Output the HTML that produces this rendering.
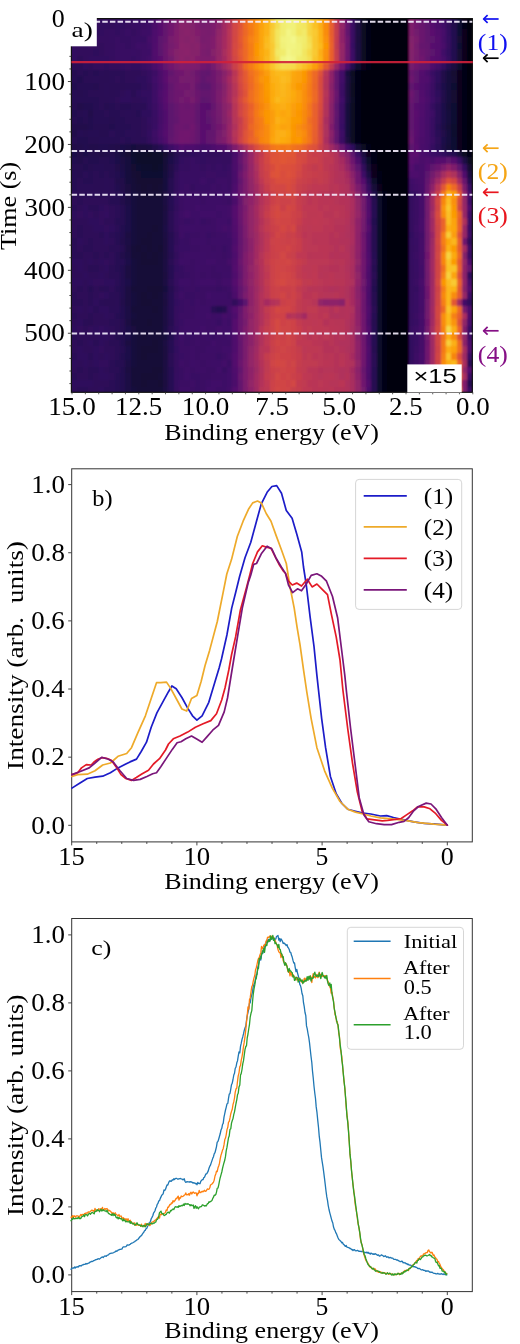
<!DOCTYPE html><html><head><meta charset="utf-8"><style>html,body{margin:0;padding:0;background:#fff;}svg{display:block;will-change:transform}text{white-space:pre}.hm rect{height:var(--h)}</style></head><body>
<svg width="520" height="1344" viewBox="0 0 520 1344">
<rect width="520" height="1344" fill="#fff"/>
<defs><clipPath id="hmclip"><rect x="71.40" y="18.60" width="401.40" height="373.70"/></clipPath><filter id="hmblur" x="60" y="5" width="430" height="400" filterUnits="userSpaceOnUse"><feGaussianBlur stdDeviation="0.8"/></filter></defs>
<g clip-path="url(#hmclip)"><g class="hm" filter="url(#hmblur)" shape-rendering="crispEdges">
<g transform="translate(0 15.60)" style="--h:7.20px">
<rect x="69.00" width="8.84" fill="#320a5e"/>
<rect x="77.34" width="5.84" fill="#2f0a5b"/>
<rect x="82.69" width="5.84" fill="#310a5c"/>
<rect x="88.03" width="5.84" fill="#320a5e"/>
<rect x="93.38" width="5.84" fill="#310a5c"/>
<rect x="98.72" width="5.84" fill="#320a5e"/>
<rect x="104.06" width="5.84" fill="#340a5f"/>
<rect x="109.41" width="5.84" fill="#310a5c"/>
<rect x="114.75" width="5.84" fill="#360961"/>
<rect x="120.10" width="5.84" fill="#360961"/>
<rect x="125.44" width="5.84" fill="#360961"/>
<rect x="130.78" width="5.84" fill="#380962"/>
<rect x="136.13" width="5.84" fill="#390963"/>
<rect x="141.47" width="5.84" fill="#3b0964"/>
<rect x="146.82" width="5.84" fill="#400a67"/>
<rect x="152.16" width="5.84" fill="#4a0c6b"/>
<rect x="157.50" width="5.84" fill="#5c126e"/>
<rect x="162.85" width="5.84" fill="#67166e"/>
<rect x="168.19" width="5.84" fill="#751b6e"/>
<rect x="173.54" width="5.84" fill="#7c1d6d"/>
<rect x="178.88" width="5.84" fill="#8a226a"/>
<rect x="184.22" width="5.84" fill="#87216b"/>
<rect x="189.57" width="5.84" fill="#85216b"/>
<rect x="194.91" width="5.84" fill="#87216b"/>
<rect x="200.26" width="5.84" fill="#781c6d"/>
<rect x="205.60" width="5.84" fill="#751b6e"/>
<rect x="210.94" width="5.84" fill="#7f1e6c"/>
<rect x="216.29" width="5.84" fill="#8a226a"/>
<rect x="221.63" width="5.84" fill="#a62d60"/>
<rect x="226.98" width="5.84" fill="#b93556"/>
<rect x="232.32" width="5.84" fill="#d04545"/>
<rect x="237.66" width="5.84" fill="#e35933"/>
<rect x="243.01" width="5.84" fill="#eb6429"/>
<rect x="248.35" width="5.84" fill="#f68013"/>
<rect x="253.70" width="5.84" fill="#f98e09"/>
<rect x="259.04" width="5.84" fill="#fca108"/>
<rect x="264.38" width="5.84" fill="#fcb014"/>
<rect x="269.73" width="5.84" fill="#f8cf3a"/>
<rect x="275.07" width="5.84" fill="#f2ea69"/>
<rect x="280.42" width="5.84" fill="#f1ef75"/>
<rect x="285.76" width="5.84" fill="#f3f68a"/>
<rect x="291.10" width="5.84" fill="#f2f482"/>
<rect x="296.45" width="5.84" fill="#f1ef75"/>
<rect x="301.79" width="5.84" fill="#f3e55d"/>
<rect x="307.14" width="5.84" fill="#f6d543"/>
<rect x="312.48" width="5.84" fill="#fac42a"/>
<rect x="317.82" width="5.84" fill="#fcb216"/>
<rect x="323.17" width="5.84" fill="#fa9407"/>
<rect x="328.51" width="5.84" fill="#ea632a"/>
<rect x="333.86" width="5.84" fill="#c33b4f"/>
<rect x="339.20" width="5.84" fill="#982766"/>
<rect x="344.54" width="5.84" fill="#69166e"/>
<rect x="349.89" width="5.84" fill="#3d0965"/>
<rect x="355.23" width="5.84" fill="#1c0c43"/>
<rect x="360.58" width="5.84" fill="#0b0724"/>
<rect x="365.92" width="5.84" fill="#050417"/>
<rect x="371.26" width="5.84" fill="#030210"/>
<rect x="376.61" width="5.84" fill="#02020e"/>
<rect x="381.95" width="5.84" fill="#02020c"/>
<rect x="387.30" width="5.84" fill="#02020c"/>
<rect x="392.64" width="5.84" fill="#02020c"/>
<rect x="397.98" width="5.84" fill="#02020c"/>
<rect x="403.33" width="5.84" fill="#02020c"/>
<rect x="408.67" width="5.84" fill="#85216b"/>
<rect x="414.02" width="5.84" fill="#741a6e"/>
<rect x="419.36" width="5.84" fill="#67166e"/>
<rect x="424.70" width="5.84" fill="#5f136e"/>
<rect x="430.05" width="5.84" fill="#57106e"/>
<rect x="435.39" width="5.84" fill="#510e6c"/>
<rect x="440.74" width="5.84" fill="#420a68"/>
<rect x="446.08" width="5.84" fill="#360961"/>
<rect x="451.42" width="5.84" fill="#240c4f"/>
<rect x="456.77" width="5.84" fill="#110a30"/>
<rect x="462.11" width="5.84" fill="#07051b"/>
<rect x="467.46" width="8.84" fill="#02020e"/>
</g>
<g transform="translate(0 22.30)" style="--h:7.25px">
<rect x="69.00" width="8.84" fill="#2f0a5b"/>
<rect x="77.34" width="5.84" fill="#2f0a5b"/>
<rect x="82.69" width="5.84" fill="#2f0a5b"/>
<rect x="88.03" width="5.84" fill="#2d0b59"/>
<rect x="93.38" width="5.84" fill="#310a5c"/>
<rect x="98.72" width="5.84" fill="#320a5e"/>
<rect x="104.06" width="5.84" fill="#320a5e"/>
<rect x="109.41" width="5.84" fill="#310a5c"/>
<rect x="114.75" width="5.84" fill="#320a5e"/>
<rect x="120.10" width="5.84" fill="#320a5e"/>
<rect x="125.44" width="5.84" fill="#340a5f"/>
<rect x="130.78" width="5.84" fill="#380962"/>
<rect x="136.13" width="5.84" fill="#390963"/>
<rect x="141.47" width="5.84" fill="#3b0964"/>
<rect x="146.82" width="5.84" fill="#3e0966"/>
<rect x="152.16" width="5.84" fill="#4c0c6b"/>
<rect x="157.50" width="5.84" fill="#57106e"/>
<rect x="162.85" width="5.84" fill="#64156e"/>
<rect x="168.19" width="5.84" fill="#6f196e"/>
<rect x="173.54" width="5.84" fill="#7c1d6d"/>
<rect x="178.88" width="5.84" fill="#88226a"/>
<rect x="184.22" width="5.84" fill="#85216b"/>
<rect x="189.57" width="5.84" fill="#82206c"/>
<rect x="194.91" width="5.84" fill="#7d1e6d"/>
<rect x="200.26" width="5.84" fill="#741a6e"/>
<rect x="205.60" width="5.84" fill="#771c6d"/>
<rect x="210.94" width="5.84" fill="#7d1e6d"/>
<rect x="216.29" width="5.84" fill="#88226a"/>
<rect x="221.63" width="5.84" fill="#a22b62"/>
<rect x="226.98" width="5.84" fill="#b43359"/>
<rect x="232.32" width="5.84" fill="#d24644"/>
<rect x="237.66" width="5.84" fill="#df5337"/>
<rect x="243.01" width="5.84" fill="#ee6a24"/>
<rect x="248.35" width="5.84" fill="#f57b17"/>
<rect x="253.70" width="5.84" fill="#f98e09"/>
<rect x="259.04" width="5.84" fill="#fca108"/>
<rect x="264.38" width="5.84" fill="#fcb216"/>
<rect x="269.73" width="5.84" fill="#f9c932"/>
<rect x="275.07" width="5.84" fill="#f4dd4f"/>
<rect x="280.42" width="5.84" fill="#f1ed71"/>
<rect x="285.76" width="5.84" fill="#f1f179"/>
<rect x="291.10" width="5.84" fill="#f1f179"/>
<rect x="296.45" width="5.84" fill="#f2e865"/>
<rect x="301.79" width="5.84" fill="#f2e661"/>
<rect x="307.14" width="5.84" fill="#f6d543"/>
<rect x="312.48" width="5.84" fill="#fac228"/>
<rect x="317.82" width="5.84" fill="#fcae12"/>
<rect x="323.17" width="5.84" fill="#f98b0b"/>
<rect x="328.51" width="5.84" fill="#e75e2e"/>
<rect x="333.86" width="5.84" fill="#c33b4f"/>
<rect x="339.20" width="5.84" fill="#922568"/>
<rect x="344.54" width="5.84" fill="#65156e"/>
<rect x="349.89" width="5.84" fill="#3b0964"/>
<rect x="355.23" width="5.84" fill="#1b0c41"/>
<rect x="360.58" width="5.84" fill="#0b0724"/>
<rect x="365.92" width="5.84" fill="#050417"/>
<rect x="371.26" width="5.84" fill="#030210"/>
<rect x="376.61" width="5.84" fill="#02020e"/>
<rect x="381.95" width="5.84" fill="#02020c"/>
<rect x="387.30" width="5.84" fill="#02020c"/>
<rect x="392.64" width="5.84" fill="#02020c"/>
<rect x="397.98" width="5.84" fill="#02020c"/>
<rect x="403.33" width="5.84" fill="#02020c"/>
<rect x="408.67" width="5.84" fill="#7f1e6c"/>
<rect x="414.02" width="5.84" fill="#71196e"/>
<rect x="419.36" width="5.84" fill="#67166e"/>
<rect x="424.70" width="5.84" fill="#5d126e"/>
<rect x="430.05" width="5.84" fill="#540f6d"/>
<rect x="435.39" width="5.84" fill="#4c0c6b"/>
<rect x="440.74" width="5.84" fill="#400a67"/>
<rect x="446.08" width="5.84" fill="#310a5c"/>
<rect x="451.42" width="5.84" fill="#230c4c"/>
<rect x="456.77" width="5.84" fill="#110a30"/>
<rect x="462.11" width="5.84" fill="#060419"/>
<rect x="467.46" width="8.84" fill="#02020e"/>
</g>
<g transform="translate(0 29.05)" style="--h:7.25px">
<rect x="69.00" width="8.84" fill="#2f0a5b"/>
<rect x="77.34" width="5.84" fill="#310a5c"/>
<rect x="82.69" width="5.84" fill="#320a5e"/>
<rect x="88.03" width="5.84" fill="#320a5e"/>
<rect x="93.38" width="5.84" fill="#2f0a5b"/>
<rect x="98.72" width="5.84" fill="#320a5e"/>
<rect x="104.06" width="5.84" fill="#340a5f"/>
<rect x="109.41" width="5.84" fill="#360961"/>
<rect x="114.75" width="5.84" fill="#320a5e"/>
<rect x="120.10" width="5.84" fill="#360961"/>
<rect x="125.44" width="5.84" fill="#390963"/>
<rect x="130.78" width="5.84" fill="#340a5f"/>
<rect x="136.13" width="5.84" fill="#380962"/>
<rect x="141.47" width="5.84" fill="#3d0965"/>
<rect x="146.82" width="5.84" fill="#3e0966"/>
<rect x="152.16" width="5.84" fill="#4d0d6c"/>
<rect x="157.50" width="5.84" fill="#57106e"/>
<rect x="162.85" width="5.84" fill="#64156e"/>
<rect x="168.19" width="5.84" fill="#71196e"/>
<rect x="173.54" width="5.84" fill="#7f1e6c"/>
<rect x="178.88" width="5.84" fill="#85216b"/>
<rect x="184.22" width="5.84" fill="#88226a"/>
<rect x="189.57" width="5.84" fill="#84206b"/>
<rect x="194.91" width="5.84" fill="#801f6c"/>
<rect x="200.26" width="5.84" fill="#7a1d6d"/>
<rect x="205.60" width="5.84" fill="#781c6d"/>
<rect x="210.94" width="5.84" fill="#7c1d6d"/>
<rect x="216.29" width="5.84" fill="#902568"/>
<rect x="221.63" width="5.84" fill="#a22b62"/>
<rect x="226.98" width="5.84" fill="#b93556"/>
<rect x="232.32" width="5.84" fill="#d24644"/>
<rect x="237.66" width="5.84" fill="#e25734"/>
<rect x="243.01" width="5.84" fill="#ec6726"/>
<rect x="248.35" width="5.84" fill="#f47918"/>
<rect x="253.70" width="5.84" fill="#f98e09"/>
<rect x="259.04" width="5.84" fill="#fca50a"/>
<rect x="264.38" width="5.84" fill="#fcb216"/>
<rect x="269.73" width="5.84" fill="#f8cd37"/>
<rect x="275.07" width="5.84" fill="#f3e55d"/>
<rect x="280.42" width="5.84" fill="#f1ed71"/>
<rect x="285.76" width="5.84" fill="#f3f586"/>
<rect x="291.10" width="5.84" fill="#f1f179"/>
<rect x="296.45" width="5.84" fill="#f2e661"/>
<rect x="301.79" width="5.84" fill="#f2ea69"/>
<rect x="307.14" width="5.84" fill="#f7d340"/>
<rect x="312.48" width="5.84" fill="#f9c932"/>
<rect x="317.82" width="5.84" fill="#fcb216"/>
<rect x="323.17" width="5.84" fill="#f98c0a"/>
<rect x="328.51" width="5.84" fill="#e65d2f"/>
<rect x="333.86" width="5.84" fill="#c43c4e"/>
<rect x="339.20" width="5.84" fill="#8f2469"/>
<rect x="344.54" width="5.84" fill="#64156e"/>
<rect x="349.89" width="5.84" fill="#3b0964"/>
<rect x="355.23" width="5.84" fill="#1c0c43"/>
<rect x="360.58" width="5.84" fill="#0b0724"/>
<rect x="365.92" width="5.84" fill="#050417"/>
<rect x="371.26" width="5.84" fill="#030210"/>
<rect x="376.61" width="5.84" fill="#02020e"/>
<rect x="381.95" width="5.84" fill="#02020c"/>
<rect x="387.30" width="5.84" fill="#02020c"/>
<rect x="392.64" width="5.84" fill="#02020c"/>
<rect x="397.98" width="5.84" fill="#02020c"/>
<rect x="403.33" width="5.84" fill="#02020c"/>
<rect x="408.67" width="5.84" fill="#7f1e6c"/>
<rect x="414.02" width="5.84" fill="#721a6e"/>
<rect x="419.36" width="5.84" fill="#69166e"/>
<rect x="424.70" width="5.84" fill="#5f136e"/>
<rect x="430.05" width="5.84" fill="#5a116e"/>
<rect x="435.39" width="5.84" fill="#510e6c"/>
<rect x="440.74" width="5.84" fill="#470b6a"/>
<rect x="446.08" width="5.84" fill="#320a5e"/>
<rect x="451.42" width="5.84" fill="#240c4f"/>
<rect x="456.77" width="5.84" fill="#110a30"/>
<rect x="462.11" width="5.84" fill="#07051b"/>
<rect x="467.46" width="8.84" fill="#02020e"/>
</g>
<g transform="translate(0 35.80)" style="--h:7.25px">
<rect x="69.00" width="8.84" fill="#310a5c"/>
<rect x="77.34" width="5.84" fill="#320a5e"/>
<rect x="82.69" width="5.84" fill="#310a5c"/>
<rect x="88.03" width="5.84" fill="#310a5c"/>
<rect x="93.38" width="5.84" fill="#340a5f"/>
<rect x="98.72" width="5.84" fill="#340a5f"/>
<rect x="104.06" width="5.84" fill="#340a5f"/>
<rect x="109.41" width="5.84" fill="#360961"/>
<rect x="114.75" width="5.84" fill="#380962"/>
<rect x="120.10" width="5.84" fill="#360961"/>
<rect x="125.44" width="5.84" fill="#360961"/>
<rect x="130.78" width="5.84" fill="#380962"/>
<rect x="136.13" width="5.84" fill="#390963"/>
<rect x="141.47" width="5.84" fill="#390963"/>
<rect x="146.82" width="5.84" fill="#440a68"/>
<rect x="152.16" width="5.84" fill="#4d0d6c"/>
<rect x="157.50" width="5.84" fill="#5d126e"/>
<rect x="162.85" width="5.84" fill="#65156e"/>
<rect x="168.19" width="5.84" fill="#781c6d"/>
<rect x="173.54" width="5.84" fill="#7f1e6c"/>
<rect x="178.88" width="5.84" fill="#87216b"/>
<rect x="184.22" width="5.84" fill="#84206b"/>
<rect x="189.57" width="5.84" fill="#87216b"/>
<rect x="194.91" width="5.84" fill="#82206c"/>
<rect x="200.26" width="5.84" fill="#781c6d"/>
<rect x="205.60" width="5.84" fill="#7a1d6d"/>
<rect x="210.94" width="5.84" fill="#801f6c"/>
<rect x="216.29" width="5.84" fill="#932667"/>
<rect x="221.63" width="5.84" fill="#a52c60"/>
<rect x="226.98" width="5.84" fill="#b73557"/>
<rect x="232.32" width="5.84" fill="#d34743"/>
<rect x="237.66" width="5.84" fill="#e35933"/>
<rect x="243.01" width="5.84" fill="#ef6c23"/>
<rect x="248.35" width="5.84" fill="#f78212"/>
<rect x="253.70" width="5.84" fill="#fa9008"/>
<rect x="259.04" width="5.84" fill="#fca50a"/>
<rect x="264.38" width="5.84" fill="#fbba1f"/>
<rect x="269.73" width="5.84" fill="#f8cd37"/>
<rect x="275.07" width="5.84" fill="#f3e55d"/>
<rect x="280.42" width="5.84" fill="#f2f27d"/>
<rect x="285.76" width="5.84" fill="#f2f482"/>
<rect x="291.10" width="5.84" fill="#f3f68a"/>
<rect x="296.45" width="5.84" fill="#f1ef75"/>
<rect x="301.79" width="5.84" fill="#f1ec6d"/>
<rect x="307.14" width="5.84" fill="#f4dd4f"/>
<rect x="312.48" width="5.84" fill="#f9c72f"/>
<rect x="317.82" width="5.84" fill="#fcb418"/>
<rect x="323.17" width="5.84" fill="#fa9207"/>
<rect x="328.51" width="5.84" fill="#e9612b"/>
<rect x="333.86" width="5.84" fill="#c33b4f"/>
<rect x="339.20" width="5.84" fill="#8f2469"/>
<rect x="344.54" width="5.84" fill="#6c186e"/>
<rect x="349.89" width="5.84" fill="#3b0964"/>
<rect x="355.23" width="5.84" fill="#1b0c41"/>
<rect x="360.58" width="5.84" fill="#0b0724"/>
<rect x="365.92" width="5.84" fill="#050417"/>
<rect x="371.26" width="5.84" fill="#030210"/>
<rect x="376.61" width="5.84" fill="#02020e"/>
<rect x="381.95" width="5.84" fill="#02020c"/>
<rect x="387.30" width="5.84" fill="#02020c"/>
<rect x="392.64" width="5.84" fill="#02020c"/>
<rect x="397.98" width="5.84" fill="#02020c"/>
<rect x="403.33" width="5.84" fill="#02020c"/>
<rect x="408.67" width="5.84" fill="#82206c"/>
<rect x="414.02" width="5.84" fill="#7a1d6d"/>
<rect x="419.36" width="5.84" fill="#69166e"/>
<rect x="424.70" width="5.84" fill="#61136e"/>
<rect x="430.05" width="5.84" fill="#5c126e"/>
<rect x="435.39" width="5.84" fill="#550f6d"/>
<rect x="440.74" width="5.84" fill="#450a69"/>
<rect x="446.08" width="5.84" fill="#360961"/>
<rect x="451.42" width="5.84" fill="#240c4f"/>
<rect x="456.77" width="5.84" fill="#120a32"/>
<rect x="462.11" width="5.84" fill="#07051b"/>
<rect x="467.46" width="8.84" fill="#02020e"/>
</g>
<g transform="translate(0 42.55)" style="--h:7.25px">
<rect x="69.00" width="8.84" fill="#320a5e"/>
<rect x="77.34" width="5.84" fill="#310a5c"/>
<rect x="82.69" width="5.84" fill="#320a5e"/>
<rect x="88.03" width="5.84" fill="#340a5f"/>
<rect x="93.38" width="5.84" fill="#310a5c"/>
<rect x="98.72" width="5.84" fill="#310a5c"/>
<rect x="104.06" width="5.84" fill="#340a5f"/>
<rect x="109.41" width="5.84" fill="#340a5f"/>
<rect x="114.75" width="5.84" fill="#380962"/>
<rect x="120.10" width="5.84" fill="#380962"/>
<rect x="125.44" width="5.84" fill="#360961"/>
<rect x="130.78" width="5.84" fill="#380962"/>
<rect x="136.13" width="5.84" fill="#3e0966"/>
<rect x="141.47" width="5.84" fill="#3d0965"/>
<rect x="146.82" width="5.84" fill="#400a67"/>
<rect x="152.16" width="5.84" fill="#4f0d6c"/>
<rect x="157.50" width="5.84" fill="#5d126e"/>
<rect x="162.85" width="5.84" fill="#6a176e"/>
<rect x="168.19" width="5.84" fill="#741a6e"/>
<rect x="173.54" width="5.84" fill="#7d1e6d"/>
<rect x="178.88" width="5.84" fill="#8a226a"/>
<rect x="184.22" width="5.84" fill="#88226a"/>
<rect x="189.57" width="5.84" fill="#84206b"/>
<rect x="194.91" width="5.84" fill="#87216b"/>
<rect x="200.26" width="5.84" fill="#7c1d6d"/>
<rect x="205.60" width="5.84" fill="#7a1d6d"/>
<rect x="210.94" width="5.84" fill="#801f6c"/>
<rect x="216.29" width="5.84" fill="#922568"/>
<rect x="221.63" width="5.84" fill="#a52c60"/>
<rect x="226.98" width="5.84" fill="#b73557"/>
<rect x="232.32" width="5.84" fill="#d44842"/>
<rect x="237.66" width="5.84" fill="#e05536"/>
<rect x="243.01" width="5.84" fill="#ee6a24"/>
<rect x="248.35" width="5.84" fill="#f57d15"/>
<rect x="253.70" width="5.84" fill="#fb9606"/>
<rect x="259.04" width="5.84" fill="#fca50a"/>
<rect x="264.38" width="5.84" fill="#fbbc21"/>
<rect x="269.73" width="5.84" fill="#f9c932"/>
<rect x="275.07" width="5.84" fill="#f3e35a"/>
<rect x="280.42" width="5.84" fill="#f1f179"/>
<rect x="285.76" width="5.84" fill="#f2f482"/>
<rect x="291.10" width="5.84" fill="#f2f482"/>
<rect x="296.45" width="5.84" fill="#f1f179"/>
<rect x="301.79" width="5.84" fill="#f2ea69"/>
<rect x="307.14" width="5.84" fill="#f4e156"/>
<rect x="312.48" width="5.84" fill="#f9c72f"/>
<rect x="317.82" width="5.84" fill="#fbba1f"/>
<rect x="323.17" width="5.84" fill="#fb9606"/>
<rect x="328.51" width="5.84" fill="#ea632a"/>
<rect x="333.86" width="5.84" fill="#c03a51"/>
<rect x="339.20" width="5.84" fill="#952667"/>
<rect x="344.54" width="5.84" fill="#6a176e"/>
<rect x="349.89" width="5.84" fill="#390963"/>
<rect x="355.23" width="5.84" fill="#1c0c43"/>
<rect x="360.58" width="5.84" fill="#0b0724"/>
<rect x="365.92" width="5.84" fill="#050417"/>
<rect x="371.26" width="5.84" fill="#030210"/>
<rect x="376.61" width="5.84" fill="#02020e"/>
<rect x="381.95" width="5.84" fill="#02020c"/>
<rect x="387.30" width="5.84" fill="#02020c"/>
<rect x="392.64" width="5.84" fill="#02020c"/>
<rect x="397.98" width="5.84" fill="#02020c"/>
<rect x="403.33" width="5.84" fill="#02020c"/>
<rect x="408.67" width="5.84" fill="#85216b"/>
<rect x="414.02" width="5.84" fill="#751b6e"/>
<rect x="419.36" width="5.84" fill="#65156e"/>
<rect x="424.70" width="5.84" fill="#64156e"/>
<rect x="430.05" width="5.84" fill="#57106e"/>
<rect x="435.39" width="5.84" fill="#520e6d"/>
<rect x="440.74" width="5.84" fill="#490b6a"/>
<rect x="446.08" width="5.84" fill="#340a5f"/>
<rect x="451.42" width="5.84" fill="#240c4f"/>
<rect x="456.77" width="5.84" fill="#110a30"/>
<rect x="462.11" width="5.84" fill="#07051b"/>
<rect x="467.46" width="8.84" fill="#02020e"/>
</g>
<g transform="translate(0 49.30)" style="--h:7.25px">
<rect x="69.00" width="8.84" fill="#320a5e"/>
<rect x="77.34" width="5.84" fill="#310a5c"/>
<rect x="82.69" width="5.84" fill="#310a5c"/>
<rect x="88.03" width="5.84" fill="#310a5c"/>
<rect x="93.38" width="5.84" fill="#2f0a5b"/>
<rect x="98.72" width="5.84" fill="#310a5c"/>
<rect x="104.06" width="5.84" fill="#340a5f"/>
<rect x="109.41" width="5.84" fill="#360961"/>
<rect x="114.75" width="5.84" fill="#380962"/>
<rect x="120.10" width="5.84" fill="#380962"/>
<rect x="125.44" width="5.84" fill="#380962"/>
<rect x="130.78" width="5.84" fill="#390963"/>
<rect x="136.13" width="5.84" fill="#380962"/>
<rect x="141.47" width="5.84" fill="#3d0965"/>
<rect x="146.82" width="5.84" fill="#3e0966"/>
<rect x="152.16" width="5.84" fill="#510e6c"/>
<rect x="157.50" width="5.84" fill="#5c126e"/>
<rect x="162.85" width="5.84" fill="#6a176e"/>
<rect x="168.19" width="5.84" fill="#7a1d6d"/>
<rect x="173.54" width="5.84" fill="#84206b"/>
<rect x="178.88" width="5.84" fill="#88226a"/>
<rect x="184.22" width="5.84" fill="#8a226a"/>
<rect x="189.57" width="5.84" fill="#85216b"/>
<rect x="194.91" width="5.84" fill="#85216b"/>
<rect x="200.26" width="5.84" fill="#7a1d6d"/>
<rect x="205.60" width="5.84" fill="#771c6d"/>
<rect x="210.94" width="5.84" fill="#85216b"/>
<rect x="216.29" width="5.84" fill="#902568"/>
<rect x="221.63" width="5.84" fill="#a82e5f"/>
<rect x="226.98" width="5.84" fill="#ba3655"/>
<rect x="232.32" width="5.84" fill="#d54a41"/>
<rect x="237.66" width="5.84" fill="#e45a31"/>
<rect x="243.01" width="5.84" fill="#ed6925"/>
<rect x="248.35" width="5.84" fill="#f57d15"/>
<rect x="253.70" width="5.84" fill="#fb9606"/>
<rect x="259.04" width="5.84" fill="#fca80d"/>
<rect x="264.38" width="5.84" fill="#fcb418"/>
<rect x="269.73" width="5.84" fill="#f9cb35"/>
<rect x="275.07" width="5.84" fill="#f2e865"/>
<rect x="280.42" width="5.84" fill="#f1ec6d"/>
<rect x="285.76" width="5.84" fill="#f3f586"/>
<rect x="291.10" width="5.84" fill="#f2f27d"/>
<rect x="296.45" width="5.84" fill="#f1f179"/>
<rect x="301.79" width="5.84" fill="#f2e661"/>
<rect x="307.14" width="5.84" fill="#f5d949"/>
<rect x="312.48" width="5.84" fill="#f9c932"/>
<rect x="317.82" width="5.84" fill="#fcae12"/>
<rect x="323.17" width="5.84" fill="#fa9008"/>
<rect x="328.51" width="5.84" fill="#e9612b"/>
<rect x="333.86" width="5.84" fill="#c43c4e"/>
<rect x="339.20" width="5.84" fill="#932667"/>
<rect x="344.54" width="5.84" fill="#6c186e"/>
<rect x="349.89" width="5.84" fill="#3d0965"/>
<rect x="355.23" width="5.84" fill="#1c0c43"/>
<rect x="360.58" width="5.84" fill="#0b0724"/>
<rect x="365.92" width="5.84" fill="#050417"/>
<rect x="371.26" width="5.84" fill="#030210"/>
<rect x="376.61" width="5.84" fill="#02020e"/>
<rect x="381.95" width="5.84" fill="#02020c"/>
<rect x="387.30" width="5.84" fill="#02020c"/>
<rect x="392.64" width="5.84" fill="#02020c"/>
<rect x="397.98" width="5.84" fill="#02020c"/>
<rect x="403.33" width="5.84" fill="#02020c"/>
<rect x="408.67" width="5.84" fill="#82206c"/>
<rect x="414.02" width="5.84" fill="#781c6d"/>
<rect x="419.36" width="5.84" fill="#6a176e"/>
<rect x="424.70" width="5.84" fill="#65156e"/>
<rect x="430.05" width="5.84" fill="#5c126e"/>
<rect x="435.39" width="5.84" fill="#540f6d"/>
<rect x="440.74" width="5.84" fill="#400a67"/>
<rect x="446.08" width="5.84" fill="#320a5e"/>
<rect x="451.42" width="5.84" fill="#240c4f"/>
<rect x="456.77" width="5.84" fill="#120a32"/>
<rect x="462.11" width="5.84" fill="#07051b"/>
<rect x="467.46" width="8.84" fill="#02020e"/>
</g>
<g transform="translate(0 56.05)" style="--h:7.25px">
<rect x="69.00" width="8.84" fill="#320a5e"/>
<rect x="77.34" width="5.84" fill="#2d0b59"/>
<rect x="82.69" width="5.84" fill="#310a5c"/>
<rect x="88.03" width="5.84" fill="#320a5e"/>
<rect x="93.38" width="5.84" fill="#320a5e"/>
<rect x="98.72" width="5.84" fill="#320a5e"/>
<rect x="104.06" width="5.84" fill="#320a5e"/>
<rect x="109.41" width="5.84" fill="#340a5f"/>
<rect x="114.75" width="5.84" fill="#380962"/>
<rect x="120.10" width="5.84" fill="#380962"/>
<rect x="125.44" width="5.84" fill="#380962"/>
<rect x="130.78" width="5.84" fill="#360961"/>
<rect x="136.13" width="5.84" fill="#390963"/>
<rect x="141.47" width="5.84" fill="#3d0965"/>
<rect x="146.82" width="5.84" fill="#420a68"/>
<rect x="152.16" width="5.84" fill="#4f0d6c"/>
<rect x="157.50" width="5.84" fill="#5a116e"/>
<rect x="162.85" width="5.84" fill="#69166e"/>
<rect x="168.19" width="5.84" fill="#721a6e"/>
<rect x="173.54" width="5.84" fill="#82206c"/>
<rect x="178.88" width="5.84" fill="#8a226a"/>
<rect x="184.22" width="5.84" fill="#85216b"/>
<rect x="189.57" width="5.84" fill="#88226a"/>
<rect x="194.91" width="5.84" fill="#801f6c"/>
<rect x="200.26" width="5.84" fill="#7c1d6d"/>
<rect x="205.60" width="5.84" fill="#7c1d6d"/>
<rect x="210.94" width="5.84" fill="#801f6c"/>
<rect x="216.29" width="5.84" fill="#932667"/>
<rect x="221.63" width="5.84" fill="#a52c60"/>
<rect x="226.98" width="5.84" fill="#b93556"/>
<rect x="232.32" width="5.84" fill="#d24644"/>
<rect x="237.66" width="5.84" fill="#e25734"/>
<rect x="243.01" width="5.84" fill="#ed6925"/>
<rect x="248.35" width="5.84" fill="#f68013"/>
<rect x="253.70" width="5.84" fill="#fa9407"/>
<rect x="259.04" width="5.84" fill="#fca60c"/>
<rect x="264.38" width="5.84" fill="#fbb81d"/>
<rect x="269.73" width="5.84" fill="#f9cb35"/>
<rect x="275.07" width="5.84" fill="#f4e156"/>
<rect x="280.42" width="5.84" fill="#f2f482"/>
<rect x="285.76" width="5.84" fill="#f4f88e"/>
<rect x="291.10" width="5.84" fill="#f3f586"/>
<rect x="296.45" width="5.84" fill="#f1ec6d"/>
<rect x="301.79" width="5.84" fill="#f2e865"/>
<rect x="307.14" width="5.84" fill="#f4df53"/>
<rect x="312.48" width="5.84" fill="#fac42a"/>
<rect x="317.82" width="5.84" fill="#fcb418"/>
<rect x="323.17" width="5.84" fill="#f98e09"/>
<rect x="328.51" width="5.84" fill="#e9612b"/>
<rect x="333.86" width="5.84" fill="#c63d4d"/>
<rect x="339.20" width="5.84" fill="#922568"/>
<rect x="344.54" width="5.84" fill="#6a176e"/>
<rect x="349.89" width="5.84" fill="#3e0966"/>
<rect x="355.23" width="5.84" fill="#1c0c43"/>
<rect x="360.58" width="5.84" fill="#0b0724"/>
<rect x="365.92" width="5.84" fill="#050417"/>
<rect x="371.26" width="5.84" fill="#030210"/>
<rect x="376.61" width="5.84" fill="#02020e"/>
<rect x="381.95" width="5.84" fill="#02020c"/>
<rect x="387.30" width="5.84" fill="#02020c"/>
<rect x="392.64" width="5.84" fill="#02020c"/>
<rect x="397.98" width="5.84" fill="#02020c"/>
<rect x="403.33" width="5.84" fill="#02020c"/>
<rect x="408.67" width="5.84" fill="#82206c"/>
<rect x="414.02" width="5.84" fill="#741a6e"/>
<rect x="419.36" width="5.84" fill="#6f196e"/>
<rect x="424.70" width="5.84" fill="#61136e"/>
<rect x="430.05" width="5.84" fill="#59106e"/>
<rect x="435.39" width="5.84" fill="#520e6d"/>
<rect x="440.74" width="5.84" fill="#470b6a"/>
<rect x="446.08" width="5.84" fill="#360961"/>
<rect x="451.42" width="5.84" fill="#240c4f"/>
<rect x="456.77" width="5.84" fill="#120a32"/>
<rect x="462.11" width="5.84" fill="#07051b"/>
<rect x="467.46" width="8.84" fill="#02020e"/>
</g>
<g transform="translate(0 62.80)" style="--h:7.25px">
<rect x="69.00" width="8.84" fill="#2b0b57"/>
<rect x="77.34" width="5.84" fill="#2b0b57"/>
<rect x="82.69" width="5.84" fill="#2f0a5b"/>
<rect x="88.03" width="5.84" fill="#2d0b59"/>
<rect x="93.38" width="5.84" fill="#310a5c"/>
<rect x="98.72" width="5.84" fill="#310a5c"/>
<rect x="104.06" width="5.84" fill="#2f0a5b"/>
<rect x="109.41" width="5.84" fill="#310a5c"/>
<rect x="114.75" width="5.84" fill="#310a5c"/>
<rect x="120.10" width="5.84" fill="#320a5e"/>
<rect x="125.44" width="5.84" fill="#340a5f"/>
<rect x="130.78" width="5.84" fill="#320a5e"/>
<rect x="136.13" width="5.84" fill="#320a5e"/>
<rect x="141.47" width="5.84" fill="#390963"/>
<rect x="146.82" width="5.84" fill="#3d0965"/>
<rect x="152.16" width="5.84" fill="#490b6a"/>
<rect x="157.50" width="5.84" fill="#550f6d"/>
<rect x="162.85" width="5.84" fill="#62146e"/>
<rect x="168.19" width="5.84" fill="#71196e"/>
<rect x="173.54" width="5.84" fill="#771c6d"/>
<rect x="178.88" width="5.84" fill="#801f6c"/>
<rect x="184.22" width="5.84" fill="#7d1e6d"/>
<rect x="189.57" width="5.84" fill="#7d1e6d"/>
<rect x="194.91" width="5.84" fill="#7a1d6d"/>
<rect x="200.26" width="5.84" fill="#71196e"/>
<rect x="205.60" width="5.84" fill="#6c186e"/>
<rect x="210.94" width="5.84" fill="#751b6e"/>
<rect x="216.29" width="5.84" fill="#88226a"/>
<rect x="221.63" width="5.84" fill="#9d2964"/>
<rect x="226.98" width="5.84" fill="#ad305d"/>
<rect x="232.32" width="5.84" fill="#ca404a"/>
<rect x="237.66" width="5.84" fill="#db503b"/>
<rect x="243.01" width="5.84" fill="#ee6a24"/>
<rect x="248.35" width="5.84" fill="#f57b17"/>
<rect x="253.70" width="5.84" fill="#fa9008"/>
<rect x="259.04" width="5.84" fill="#fc9f07"/>
<rect x="264.38" width="5.84" fill="#fcb014"/>
<rect x="269.73" width="5.84" fill="#fac42a"/>
<rect x="275.07" width="5.84" fill="#f7d340"/>
<rect x="280.42" width="5.84" fill="#f4dd4f"/>
<rect x="285.76" width="5.84" fill="#f5db4c"/>
<rect x="291.10" width="5.84" fill="#f5d949"/>
<rect x="296.45" width="5.84" fill="#f9cb35"/>
<rect x="301.79" width="5.84" fill="#fac026"/>
<rect x="307.14" width="5.84" fill="#fcb216"/>
<rect x="312.48" width="5.84" fill="#fb9d07"/>
<rect x="317.82" width="5.84" fill="#f67e14"/>
<rect x="323.17" width="5.84" fill="#e35933"/>
<rect x="328.51" width="5.84" fill="#c33b4f"/>
<rect x="333.86" width="5.84" fill="#972766"/>
<rect x="339.20" width="5.84" fill="#71196e"/>
<rect x="344.54" width="5.84" fill="#470b6a"/>
<rect x="349.89" width="5.84" fill="#240c4f"/>
<rect x="355.23" width="5.84" fill="#10092d"/>
<rect x="360.58" width="5.84" fill="#07051b"/>
<rect x="365.92" width="5.84" fill="#040312"/>
<rect x="371.26" width="5.84" fill="#02020e"/>
<rect x="376.61" width="5.84" fill="#02020e"/>
<rect x="381.95" width="5.84" fill="#02020c"/>
<rect x="387.30" width="5.84" fill="#02020c"/>
<rect x="392.64" width="5.84" fill="#02020c"/>
<rect x="397.98" width="5.84" fill="#02020c"/>
<rect x="403.33" width="5.84" fill="#02020c"/>
<rect x="408.67" width="5.84" fill="#741a6e"/>
<rect x="414.02" width="5.84" fill="#6d186e"/>
<rect x="419.36" width="5.84" fill="#61136e"/>
<rect x="424.70" width="5.84" fill="#5c126e"/>
<rect x="430.05" width="5.84" fill="#4d0d6c"/>
<rect x="435.39" width="5.84" fill="#420a68"/>
<rect x="440.74" width="5.84" fill="#320a5e"/>
<rect x="446.08" width="5.84" fill="#240c4f"/>
<rect x="451.42" width="5.84" fill="#1b0c41"/>
<rect x="456.77" width="5.84" fill="#0d0829"/>
<rect x="462.11" width="5.84" fill="#050417"/>
<rect x="467.46" width="8.84" fill="#02020c"/>
</g>
<g transform="translate(0 69.55)" style="--h:7.25px">
<rect x="69.00" width="8.84" fill="#260c51"/>
<rect x="77.34" width="5.84" fill="#290b55"/>
<rect x="82.69" width="5.84" fill="#280b53"/>
<rect x="88.03" width="5.84" fill="#290b55"/>
<rect x="93.38" width="5.84" fill="#280b53"/>
<rect x="98.72" width="5.84" fill="#2b0b57"/>
<rect x="104.06" width="5.84" fill="#290b55"/>
<rect x="109.41" width="5.84" fill="#2b0b57"/>
<rect x="114.75" width="5.84" fill="#2b0b57"/>
<rect x="120.10" width="5.84" fill="#2b0b57"/>
<rect x="125.44" width="5.84" fill="#2d0b59"/>
<rect x="130.78" width="5.84" fill="#2d0b59"/>
<rect x="136.13" width="5.84" fill="#2d0b59"/>
<rect x="141.47" width="5.84" fill="#310a5c"/>
<rect x="146.82" width="5.84" fill="#360961"/>
<rect x="152.16" width="5.84" fill="#3d0965"/>
<rect x="157.50" width="5.84" fill="#4c0c6b"/>
<rect x="162.85" width="5.84" fill="#59106e"/>
<rect x="168.19" width="5.84" fill="#62146e"/>
<rect x="173.54" width="5.84" fill="#6d186e"/>
<rect x="178.88" width="5.84" fill="#6f196e"/>
<rect x="184.22" width="5.84" fill="#771c6d"/>
<rect x="189.57" width="5.84" fill="#721a6e"/>
<rect x="194.91" width="5.84" fill="#69166e"/>
<rect x="200.26" width="5.84" fill="#62146e"/>
<rect x="205.60" width="5.84" fill="#61136e"/>
<rect x="210.94" width="5.84" fill="#6d186e"/>
<rect x="216.29" width="5.84" fill="#771c6d"/>
<rect x="221.63" width="5.84" fill="#87216b"/>
<rect x="226.98" width="5.84" fill="#9a2865"/>
<rect x="232.32" width="5.84" fill="#ba3655"/>
<rect x="237.66" width="5.84" fill="#d54a41"/>
<rect x="243.01" width="5.84" fill="#e45a31"/>
<rect x="248.35" width="5.84" fill="#f06f20"/>
<rect x="253.70" width="5.84" fill="#f57d15"/>
<rect x="259.04" width="5.84" fill="#f98c0a"/>
<rect x="264.38" width="5.84" fill="#fb9d07"/>
<rect x="269.73" width="5.84" fill="#fcb216"/>
<rect x="275.07" width="5.84" fill="#fbba1f"/>
<rect x="280.42" width="5.84" fill="#fbba1f"/>
<rect x="285.76" width="5.84" fill="#fbb61a"/>
<rect x="291.10" width="5.84" fill="#fca80d"/>
<rect x="296.45" width="5.84" fill="#fca108"/>
<rect x="301.79" width="5.84" fill="#fb9706"/>
<rect x="307.14" width="5.84" fill="#f67e14"/>
<rect x="312.48" width="5.84" fill="#ed6925"/>
<rect x="317.82" width="5.84" fill="#dd513a"/>
<rect x="323.17" width="5.84" fill="#b63458"/>
<rect x="328.51" width="5.84" fill="#8d2369"/>
<rect x="333.86" width="5.84" fill="#62146e"/>
<rect x="339.20" width="5.84" fill="#420a68"/>
<rect x="344.54" width="5.84" fill="#190c3e"/>
<rect x="349.89" width="5.84" fill="#0b0724"/>
<rect x="355.23" width="5.84" fill="#050417"/>
<rect x="360.58" width="5.84" fill="#030210"/>
<rect x="365.92" width="5.84" fill="#02020e"/>
<rect x="371.26" width="5.84" fill="#02020c"/>
<rect x="376.61" width="5.84" fill="#02020c"/>
<rect x="381.95" width="5.84" fill="#02020c"/>
<rect x="387.30" width="5.84" fill="#02020c"/>
<rect x="392.64" width="5.84" fill="#02020c"/>
<rect x="397.98" width="5.84" fill="#02020c"/>
<rect x="403.33" width="5.84" fill="#02020c"/>
<rect x="408.67" width="5.84" fill="#67166e"/>
<rect x="414.02" width="5.84" fill="#5d126e"/>
<rect x="419.36" width="5.84" fill="#520e6d"/>
<rect x="424.70" width="5.84" fill="#490b6a"/>
<rect x="430.05" width="5.84" fill="#390963"/>
<rect x="435.39" width="5.84" fill="#2f0a5b"/>
<rect x="440.74" width="5.84" fill="#210c4a"/>
<rect x="446.08" width="5.84" fill="#190c3e"/>
<rect x="451.42" width="5.84" fill="#120a32"/>
<rect x="456.77" width="5.84" fill="#09061f"/>
<rect x="462.11" width="5.84" fill="#040314"/>
<rect x="467.46" width="8.84" fill="#02020c"/>
</g>
<g transform="translate(0 76.30)" style="--h:7.25px">
<rect x="69.00" width="8.84" fill="#280b53"/>
<rect x="77.34" width="5.84" fill="#240c4f"/>
<rect x="82.69" width="5.84" fill="#290b55"/>
<rect x="88.03" width="5.84" fill="#290b55"/>
<rect x="93.38" width="5.84" fill="#2b0b57"/>
<rect x="98.72" width="5.84" fill="#290b55"/>
<rect x="104.06" width="5.84" fill="#290b55"/>
<rect x="109.41" width="5.84" fill="#2b0b57"/>
<rect x="114.75" width="5.84" fill="#2d0b59"/>
<rect x="120.10" width="5.84" fill="#2b0b57"/>
<rect x="125.44" width="5.84" fill="#2d0b59"/>
<rect x="130.78" width="5.84" fill="#2d0b59"/>
<rect x="136.13" width="5.84" fill="#2f0a5b"/>
<rect x="141.47" width="5.84" fill="#2f0a5b"/>
<rect x="146.82" width="5.84" fill="#360961"/>
<rect x="152.16" width="5.84" fill="#400a67"/>
<rect x="157.50" width="5.84" fill="#4c0c6b"/>
<rect x="162.85" width="5.84" fill="#5a116e"/>
<rect x="168.19" width="5.84" fill="#69166e"/>
<rect x="173.54" width="5.84" fill="#6a176e"/>
<rect x="178.88" width="5.84" fill="#771c6d"/>
<rect x="184.22" width="5.84" fill="#751b6e"/>
<rect x="189.57" width="5.84" fill="#741a6e"/>
<rect x="194.91" width="5.84" fill="#6d186e"/>
<rect x="200.26" width="5.84" fill="#61136e"/>
<rect x="205.60" width="5.84" fill="#67166e"/>
<rect x="210.94" width="5.84" fill="#6c186e"/>
<rect x="216.29" width="5.84" fill="#7a1d6d"/>
<rect x="221.63" width="5.84" fill="#8d2369"/>
<rect x="226.98" width="5.84" fill="#a52c60"/>
<rect x="232.32" width="5.84" fill="#bd3853"/>
<rect x="237.66" width="5.84" fill="#d74b3f"/>
<rect x="243.01" width="5.84" fill="#e45a31"/>
<rect x="248.35" width="5.84" fill="#ef6c23"/>
<rect x="253.70" width="5.84" fill="#f68013"/>
<rect x="259.04" width="5.84" fill="#fa9407"/>
<rect x="264.38" width="5.84" fill="#fb9906"/>
<rect x="269.73" width="5.84" fill="#fcb014"/>
<rect x="275.07" width="5.84" fill="#fcb418"/>
<rect x="280.42" width="5.84" fill="#fbbc21"/>
<rect x="285.76" width="5.84" fill="#fbb81d"/>
<rect x="291.10" width="5.84" fill="#fca60c"/>
<rect x="296.45" width="5.84" fill="#fca108"/>
<rect x="301.79" width="5.84" fill="#fb9706"/>
<rect x="307.14" width="5.84" fill="#f68013"/>
<rect x="312.48" width="5.84" fill="#ec6726"/>
<rect x="317.82" width="5.84" fill="#d84c3e"/>
<rect x="323.17" width="5.84" fill="#b3325a"/>
<rect x="328.51" width="5.84" fill="#8f2469"/>
<rect x="333.86" width="5.84" fill="#64156e"/>
<rect x="339.20" width="5.84" fill="#420a68"/>
<rect x="344.54" width="5.84" fill="#1c0c43"/>
<rect x="349.89" width="5.84" fill="#0c0826"/>
<rect x="355.23" width="5.84" fill="#050417"/>
<rect x="360.58" width="5.84" fill="#030210"/>
<rect x="365.92" width="5.84" fill="#02020e"/>
<rect x="371.26" width="5.84" fill="#02020c"/>
<rect x="376.61" width="5.84" fill="#02020c"/>
<rect x="381.95" width="5.84" fill="#02020c"/>
<rect x="387.30" width="5.84" fill="#02020c"/>
<rect x="392.64" width="5.84" fill="#02020c"/>
<rect x="397.98" width="5.84" fill="#02020c"/>
<rect x="403.33" width="5.84" fill="#02020c"/>
<rect x="408.67" width="5.84" fill="#6d186e"/>
<rect x="414.02" width="5.84" fill="#5f136e"/>
<rect x="419.36" width="5.84" fill="#510e6c"/>
<rect x="424.70" width="5.84" fill="#4f0d6c"/>
<rect x="430.05" width="5.84" fill="#3d0965"/>
<rect x="435.39" width="5.84" fill="#2f0a5b"/>
<rect x="440.74" width="5.84" fill="#210c4a"/>
<rect x="446.08" width="5.84" fill="#190c3e"/>
<rect x="451.42" width="5.84" fill="#140b34"/>
<rect x="456.77" width="5.84" fill="#09061f"/>
<rect x="462.11" width="5.84" fill="#040314"/>
<rect x="467.46" width="8.84" fill="#02020c"/>
</g>
<g transform="translate(0 83.05)" style="--h:7.25px">
<rect x="69.00" width="8.84" fill="#240c4f"/>
<rect x="77.34" width="5.84" fill="#280b53"/>
<rect x="82.69" width="5.84" fill="#280b53"/>
<rect x="88.03" width="5.84" fill="#280b53"/>
<rect x="93.38" width="5.84" fill="#260c51"/>
<rect x="98.72" width="5.84" fill="#290b55"/>
<rect x="104.06" width="5.84" fill="#2b0b57"/>
<rect x="109.41" width="5.84" fill="#290b55"/>
<rect x="114.75" width="5.84" fill="#290b55"/>
<rect x="120.10" width="5.84" fill="#290b55"/>
<rect x="125.44" width="5.84" fill="#2b0b57"/>
<rect x="130.78" width="5.84" fill="#2b0b57"/>
<rect x="136.13" width="5.84" fill="#2b0b57"/>
<rect x="141.47" width="5.84" fill="#2f0a5b"/>
<rect x="146.82" width="5.84" fill="#310a5c"/>
<rect x="152.16" width="5.84" fill="#3e0966"/>
<rect x="157.50" width="5.84" fill="#490b6a"/>
<rect x="162.85" width="5.84" fill="#550f6d"/>
<rect x="168.19" width="5.84" fill="#62146e"/>
<rect x="173.54" width="5.84" fill="#6d186e"/>
<rect x="178.88" width="5.84" fill="#71196e"/>
<rect x="184.22" width="5.84" fill="#6f196e"/>
<rect x="189.57" width="5.84" fill="#741a6e"/>
<rect x="194.91" width="5.84" fill="#65156e"/>
<rect x="200.26" width="5.84" fill="#5c126e"/>
<rect x="205.60" width="5.84" fill="#5c126e"/>
<rect x="210.94" width="5.84" fill="#6a176e"/>
<rect x="216.29" width="5.84" fill="#751b6e"/>
<rect x="221.63" width="5.84" fill="#85216b"/>
<rect x="226.98" width="5.84" fill="#9d2964"/>
<rect x="232.32" width="5.84" fill="#b73557"/>
<rect x="237.66" width="5.84" fill="#d34743"/>
<rect x="243.01" width="5.84" fill="#e25734"/>
<rect x="248.35" width="5.84" fill="#ed6925"/>
<rect x="253.70" width="5.84" fill="#f57b17"/>
<rect x="259.04" width="5.84" fill="#f8890c"/>
<rect x="264.38" width="5.84" fill="#fb9b06"/>
<rect x="269.73" width="5.84" fill="#fcac11"/>
<rect x="275.07" width="5.84" fill="#fcb216"/>
<rect x="280.42" width="5.84" fill="#fbb81d"/>
<rect x="285.76" width="5.84" fill="#fcb014"/>
<rect x="291.10" width="5.84" fill="#fca309"/>
<rect x="296.45" width="5.84" fill="#fb9906"/>
<rect x="301.79" width="5.84" fill="#fa9008"/>
<rect x="307.14" width="5.84" fill="#f57d15"/>
<rect x="312.48" width="5.84" fill="#eb6628"/>
<rect x="317.82" width="5.84" fill="#d74b3f"/>
<rect x="323.17" width="5.84" fill="#b1325a"/>
<rect x="328.51" width="5.84" fill="#88226a"/>
<rect x="333.86" width="5.84" fill="#62146e"/>
<rect x="339.20" width="5.84" fill="#3d0965"/>
<rect x="344.54" width="5.84" fill="#1b0c41"/>
<rect x="349.89" width="5.84" fill="#0b0724"/>
<rect x="355.23" width="5.84" fill="#050417"/>
<rect x="360.58" width="5.84" fill="#030210"/>
<rect x="365.92" width="5.84" fill="#02020e"/>
<rect x="371.26" width="5.84" fill="#02020c"/>
<rect x="376.61" width="5.84" fill="#02020c"/>
<rect x="381.95" width="5.84" fill="#02020c"/>
<rect x="387.30" width="5.84" fill="#02020c"/>
<rect x="392.64" width="5.84" fill="#02020c"/>
<rect x="397.98" width="5.84" fill="#02020c"/>
<rect x="403.33" width="5.84" fill="#02020c"/>
<rect x="408.67" width="5.84" fill="#5f136e"/>
<rect x="414.02" width="5.84" fill="#5a116e"/>
<rect x="419.36" width="5.84" fill="#4f0d6c"/>
<rect x="424.70" width="5.84" fill="#490b6a"/>
<rect x="430.05" width="5.84" fill="#3b0964"/>
<rect x="435.39" width="5.84" fill="#2b0b57"/>
<rect x="440.74" width="5.84" fill="#1f0c48"/>
<rect x="446.08" width="5.84" fill="#180c3c"/>
<rect x="451.42" width="5.84" fill="#110a30"/>
<rect x="456.77" width="5.84" fill="#09061f"/>
<rect x="462.11" width="5.84" fill="#040314"/>
<rect x="467.46" width="8.84" fill="#02020c"/>
</g>
<g transform="translate(0 89.80)" style="--h:7.25px">
<rect x="69.00" width="8.84" fill="#280b53"/>
<rect x="77.34" width="5.84" fill="#260c51"/>
<rect x="82.69" width="5.84" fill="#280b53"/>
<rect x="88.03" width="5.84" fill="#290b55"/>
<rect x="93.38" width="5.84" fill="#290b55"/>
<rect x="98.72" width="5.84" fill="#290b55"/>
<rect x="104.06" width="5.84" fill="#2b0b57"/>
<rect x="109.41" width="5.84" fill="#290b55"/>
<rect x="114.75" width="5.84" fill="#2b0b57"/>
<rect x="120.10" width="5.84" fill="#2d0b59"/>
<rect x="125.44" width="5.84" fill="#2f0a5b"/>
<rect x="130.78" width="5.84" fill="#290b55"/>
<rect x="136.13" width="5.84" fill="#2f0a5b"/>
<rect x="141.47" width="5.84" fill="#320a5e"/>
<rect x="146.82" width="5.84" fill="#320a5e"/>
<rect x="152.16" width="5.84" fill="#3e0966"/>
<rect x="157.50" width="5.84" fill="#4d0d6c"/>
<rect x="162.85" width="5.84" fill="#57106e"/>
<rect x="168.19" width="5.84" fill="#65156e"/>
<rect x="173.54" width="5.84" fill="#6c186e"/>
<rect x="178.88" width="5.84" fill="#6d186e"/>
<rect x="184.22" width="5.84" fill="#741a6e"/>
<rect x="189.57" width="5.84" fill="#721a6e"/>
<rect x="194.91" width="5.84" fill="#6a176e"/>
<rect x="200.26" width="5.84" fill="#64156e"/>
<rect x="205.60" width="5.84" fill="#64156e"/>
<rect x="210.94" width="5.84" fill="#6a176e"/>
<rect x="216.29" width="5.84" fill="#7a1d6d"/>
<rect x="221.63" width="5.84" fill="#88226a"/>
<rect x="226.98" width="5.84" fill="#a02a63"/>
<rect x="232.32" width="5.84" fill="#b63458"/>
<rect x="237.66" width="5.84" fill="#d04545"/>
<rect x="243.01" width="5.84" fill="#df5337"/>
<rect x="248.35" width="5.84" fill="#ef6e21"/>
<rect x="253.70" width="5.84" fill="#f57d15"/>
<rect x="259.04" width="5.84" fill="#f98b0b"/>
<rect x="264.38" width="5.84" fill="#fb9906"/>
<rect x="269.73" width="5.84" fill="#fcaa0f"/>
<rect x="275.07" width="5.84" fill="#fcb216"/>
<rect x="280.42" width="5.84" fill="#fbb61a"/>
<rect x="285.76" width="5.84" fill="#fcb014"/>
<rect x="291.10" width="5.84" fill="#fcaa0f"/>
<rect x="296.45" width="5.84" fill="#fc9f07"/>
<rect x="301.79" width="5.84" fill="#f98e09"/>
<rect x="307.14" width="5.84" fill="#f57b17"/>
<rect x="312.48" width="5.84" fill="#ed6925"/>
<rect x="317.82" width="5.84" fill="#d94d3d"/>
<rect x="323.17" width="5.84" fill="#b63458"/>
<rect x="328.51" width="5.84" fill="#8d2369"/>
<rect x="333.86" width="5.84" fill="#69166e"/>
<rect x="339.20" width="5.84" fill="#3b0964"/>
<rect x="344.54" width="5.84" fill="#1b0c41"/>
<rect x="349.89" width="5.84" fill="#0b0724"/>
<rect x="355.23" width="5.84" fill="#050417"/>
<rect x="360.58" width="5.84" fill="#030210"/>
<rect x="365.92" width="5.84" fill="#02020e"/>
<rect x="371.26" width="5.84" fill="#02020c"/>
<rect x="376.61" width="5.84" fill="#02020c"/>
<rect x="381.95" width="5.84" fill="#02020c"/>
<rect x="387.30" width="5.84" fill="#02020c"/>
<rect x="392.64" width="5.84" fill="#02020c"/>
<rect x="397.98" width="5.84" fill="#02020c"/>
<rect x="403.33" width="5.84" fill="#02020c"/>
<rect x="408.67" width="5.84" fill="#6c186e"/>
<rect x="414.02" width="5.84" fill="#5c126e"/>
<rect x="419.36" width="5.84" fill="#510e6c"/>
<rect x="424.70" width="5.84" fill="#470b6a"/>
<rect x="430.05" width="5.84" fill="#3b0964"/>
<rect x="435.39" width="5.84" fill="#2f0a5b"/>
<rect x="440.74" width="5.84" fill="#230c4c"/>
<rect x="446.08" width="5.84" fill="#190c3e"/>
<rect x="451.42" width="5.84" fill="#120a32"/>
<rect x="456.77" width="5.84" fill="#09061f"/>
<rect x="462.11" width="5.84" fill="#040314"/>
<rect x="467.46" width="8.84" fill="#02020c"/>
</g>
<g transform="translate(0 96.55)" style="--h:7.25px">
<rect x="69.00" width="8.84" fill="#280b53"/>
<rect x="77.34" width="5.84" fill="#280b53"/>
<rect x="82.69" width="5.84" fill="#280b53"/>
<rect x="88.03" width="5.84" fill="#280b53"/>
<rect x="93.38" width="5.84" fill="#280b53"/>
<rect x="98.72" width="5.84" fill="#290b55"/>
<rect x="104.06" width="5.84" fill="#290b55"/>
<rect x="109.41" width="5.84" fill="#2b0b57"/>
<rect x="114.75" width="5.84" fill="#2d0b59"/>
<rect x="120.10" width="5.84" fill="#2f0a5b"/>
<rect x="125.44" width="5.84" fill="#2f0a5b"/>
<rect x="130.78" width="5.84" fill="#2d0b59"/>
<rect x="136.13" width="5.84" fill="#2d0b59"/>
<rect x="141.47" width="5.84" fill="#2f0a5b"/>
<rect x="146.82" width="5.84" fill="#320a5e"/>
<rect x="152.16" width="5.84" fill="#3e0966"/>
<rect x="157.50" width="5.84" fill="#4c0c6b"/>
<rect x="162.85" width="5.84" fill="#59106e"/>
<rect x="168.19" width="5.84" fill="#65156e"/>
<rect x="173.54" width="5.84" fill="#6d186e"/>
<rect x="178.88" width="5.84" fill="#721a6e"/>
<rect x="184.22" width="5.84" fill="#71196e"/>
<rect x="189.57" width="5.84" fill="#771c6d"/>
<rect x="194.91" width="5.84" fill="#6c186e"/>
<rect x="200.26" width="5.84" fill="#5d126e"/>
<rect x="205.60" width="5.84" fill="#61136e"/>
<rect x="210.94" width="5.84" fill="#6a176e"/>
<rect x="216.29" width="5.84" fill="#7a1d6d"/>
<rect x="221.63" width="5.84" fill="#8c2369"/>
<rect x="226.98" width="5.84" fill="#a02a63"/>
<rect x="232.32" width="5.84" fill="#bc3754"/>
<rect x="237.66" width="5.84" fill="#d54a41"/>
<rect x="243.01" width="5.84" fill="#e45a31"/>
<rect x="248.35" width="5.84" fill="#ef6e21"/>
<rect x="253.70" width="5.84" fill="#f67e14"/>
<rect x="259.04" width="5.84" fill="#f98b0b"/>
<rect x="264.38" width="5.84" fill="#fb9606"/>
<rect x="269.73" width="5.84" fill="#fcac11"/>
<rect x="275.07" width="5.84" fill="#fbba1f"/>
<rect x="280.42" width="5.84" fill="#fcb418"/>
<rect x="285.76" width="5.84" fill="#fcae12"/>
<rect x="291.10" width="5.84" fill="#fca80d"/>
<rect x="296.45" width="5.84" fill="#fc9f07"/>
<rect x="301.79" width="5.84" fill="#f98e09"/>
<rect x="307.14" width="5.84" fill="#f68013"/>
<rect x="312.48" width="5.84" fill="#ed6925"/>
<rect x="317.82" width="5.84" fill="#da4e3c"/>
<rect x="323.17" width="5.84" fill="#b3325a"/>
<rect x="328.51" width="5.84" fill="#8d2369"/>
<rect x="333.86" width="5.84" fill="#65156e"/>
<rect x="339.20" width="5.84" fill="#400a67"/>
<rect x="344.54" width="5.84" fill="#1c0c43"/>
<rect x="349.89" width="5.84" fill="#0c0826"/>
<rect x="355.23" width="5.84" fill="#050417"/>
<rect x="360.58" width="5.84" fill="#030210"/>
<rect x="365.92" width="5.84" fill="#02020e"/>
<rect x="371.26" width="5.84" fill="#02020c"/>
<rect x="376.61" width="5.84" fill="#02020c"/>
<rect x="381.95" width="5.84" fill="#02020c"/>
<rect x="387.30" width="5.84" fill="#02020c"/>
<rect x="392.64" width="5.84" fill="#02020c"/>
<rect x="397.98" width="5.84" fill="#02020c"/>
<rect x="403.33" width="5.84" fill="#02020c"/>
<rect x="408.67" width="5.84" fill="#67166e"/>
<rect x="414.02" width="5.84" fill="#5c126e"/>
<rect x="419.36" width="5.84" fill="#520e6d"/>
<rect x="424.70" width="5.84" fill="#4c0c6b"/>
<rect x="430.05" width="5.84" fill="#3e0966"/>
<rect x="435.39" width="5.84" fill="#310a5c"/>
<rect x="440.74" width="5.84" fill="#210c4a"/>
<rect x="446.08" width="5.84" fill="#190c3e"/>
<rect x="451.42" width="5.84" fill="#120a32"/>
<rect x="456.77" width="5.84" fill="#09061f"/>
<rect x="462.11" width="5.84" fill="#040314"/>
<rect x="467.46" width="8.84" fill="#02020c"/>
</g>
<g transform="translate(0 103.30)" style="--h:7.25px">
<rect x="69.00" width="8.84" fill="#260c51"/>
<rect x="77.34" width="5.84" fill="#230c4c"/>
<rect x="82.69" width="5.84" fill="#240c4f"/>
<rect x="88.03" width="5.84" fill="#240c4f"/>
<rect x="93.38" width="5.84" fill="#280b53"/>
<rect x="98.72" width="5.84" fill="#290b55"/>
<rect x="104.06" width="5.84" fill="#260c51"/>
<rect x="109.41" width="5.84" fill="#280b53"/>
<rect x="114.75" width="5.84" fill="#290b55"/>
<rect x="120.10" width="5.84" fill="#280b53"/>
<rect x="125.44" width="5.84" fill="#280b53"/>
<rect x="130.78" width="5.84" fill="#290b55"/>
<rect x="136.13" width="5.84" fill="#2b0b57"/>
<rect x="141.47" width="5.84" fill="#2b0b57"/>
<rect x="146.82" width="5.84" fill="#320a5e"/>
<rect x="152.16" width="5.84" fill="#3b0964"/>
<rect x="157.50" width="5.84" fill="#470b6a"/>
<rect x="162.85" width="5.84" fill="#550f6d"/>
<rect x="168.19" width="5.84" fill="#5d126e"/>
<rect x="173.54" width="5.84" fill="#65156e"/>
<rect x="178.88" width="5.84" fill="#6d186e"/>
<rect x="184.22" width="5.84" fill="#6a176e"/>
<rect x="189.57" width="5.84" fill="#6c186e"/>
<rect x="194.91" width="5.84" fill="#62146e"/>
<rect x="200.26" width="5.84" fill="#5a116e"/>
<rect x="205.60" width="5.84" fill="#59106e"/>
<rect x="210.94" width="5.84" fill="#65156e"/>
<rect x="216.29" width="5.84" fill="#751b6e"/>
<rect x="221.63" width="5.84" fill="#87216b"/>
<rect x="226.98" width="5.84" fill="#922568"/>
<rect x="232.32" width="5.84" fill="#b73557"/>
<rect x="237.66" width="5.84" fill="#cf4446"/>
<rect x="243.01" width="5.84" fill="#dd513a"/>
<rect x="248.35" width="5.84" fill="#e9612b"/>
<rect x="253.70" width="5.84" fill="#f3761b"/>
<rect x="259.04" width="5.84" fill="#f78410"/>
<rect x="264.38" width="5.84" fill="#fa9207"/>
<rect x="269.73" width="5.84" fill="#fca60c"/>
<rect x="275.07" width="5.84" fill="#fcac11"/>
<rect x="280.42" width="5.84" fill="#fcae12"/>
<rect x="285.76" width="5.84" fill="#fcaa0f"/>
<rect x="291.10" width="5.84" fill="#fc9f07"/>
<rect x="296.45" width="5.84" fill="#fb9b06"/>
<rect x="301.79" width="5.84" fill="#f98c0a"/>
<rect x="307.14" width="5.84" fill="#f3761b"/>
<rect x="312.48" width="5.84" fill="#e8602d"/>
<rect x="317.82" width="5.84" fill="#d84c3e"/>
<rect x="323.17" width="5.84" fill="#b0315b"/>
<rect x="328.51" width="5.84" fill="#87216b"/>
<rect x="333.86" width="5.84" fill="#5c126e"/>
<rect x="339.20" width="5.84" fill="#3b0964"/>
<rect x="344.54" width="5.84" fill="#180c3c"/>
<rect x="349.89" width="5.84" fill="#0b0724"/>
<rect x="355.23" width="5.84" fill="#050417"/>
<rect x="360.58" width="5.84" fill="#030210"/>
<rect x="365.92" width="5.84" fill="#02020e"/>
<rect x="371.26" width="5.84" fill="#02020c"/>
<rect x="376.61" width="5.84" fill="#02020c"/>
<rect x="381.95" width="5.84" fill="#02020c"/>
<rect x="387.30" width="5.84" fill="#02020c"/>
<rect x="392.64" width="5.84" fill="#02020c"/>
<rect x="397.98" width="5.84" fill="#02020c"/>
<rect x="403.33" width="5.84" fill="#02020c"/>
<rect x="408.67" width="5.84" fill="#62146e"/>
<rect x="414.02" width="5.84" fill="#550f6d"/>
<rect x="419.36" width="5.84" fill="#4f0d6c"/>
<rect x="424.70" width="5.84" fill="#470b6a"/>
<rect x="430.05" width="5.84" fill="#360961"/>
<rect x="435.39" width="5.84" fill="#2b0b57"/>
<rect x="440.74" width="5.84" fill="#1f0c48"/>
<rect x="446.08" width="5.84" fill="#160b39"/>
<rect x="451.42" width="5.84" fill="#110a30"/>
<rect x="456.77" width="5.84" fill="#09061f"/>
<rect x="462.11" width="5.84" fill="#040314"/>
<rect x="467.46" width="8.84" fill="#02010a"/>
</g>
<g transform="translate(0 110.05)" style="--h:7.25px">
<rect x="69.00" width="8.84" fill="#240c4f"/>
<rect x="77.34" width="5.84" fill="#260c51"/>
<rect x="82.69" width="5.84" fill="#280b53"/>
<rect x="88.03" width="5.84" fill="#230c4c"/>
<rect x="93.38" width="5.84" fill="#280b53"/>
<rect x="98.72" width="5.84" fill="#280b53"/>
<rect x="104.06" width="5.84" fill="#290b55"/>
<rect x="109.41" width="5.84" fill="#280b53"/>
<rect x="114.75" width="5.84" fill="#280b53"/>
<rect x="120.10" width="5.84" fill="#290b55"/>
<rect x="125.44" width="5.84" fill="#2b0b57"/>
<rect x="130.78" width="5.84" fill="#290b55"/>
<rect x="136.13" width="5.84" fill="#280b53"/>
<rect x="141.47" width="5.84" fill="#2f0a5b"/>
<rect x="146.82" width="5.84" fill="#2f0a5b"/>
<rect x="152.16" width="5.84" fill="#390963"/>
<rect x="157.50" width="5.84" fill="#450a69"/>
<rect x="162.85" width="5.84" fill="#4f0d6c"/>
<rect x="168.19" width="5.84" fill="#5d126e"/>
<rect x="173.54" width="5.84" fill="#65156e"/>
<rect x="178.88" width="5.84" fill="#6d186e"/>
<rect x="184.22" width="5.84" fill="#6d186e"/>
<rect x="189.57" width="5.84" fill="#6d186e"/>
<rect x="194.91" width="5.84" fill="#61136e"/>
<rect x="200.26" width="5.84" fill="#5a116e"/>
<rect x="205.60" width="5.84" fill="#61136e"/>
<rect x="210.94" width="5.84" fill="#6a176e"/>
<rect x="216.29" width="5.84" fill="#751b6e"/>
<rect x="221.63" width="5.84" fill="#85216b"/>
<rect x="226.98" width="5.84" fill="#9a2865"/>
<rect x="232.32" width="5.84" fill="#b73557"/>
<rect x="237.66" width="5.84" fill="#d24644"/>
<rect x="243.01" width="5.84" fill="#de5238"/>
<rect x="248.35" width="5.84" fill="#eb6429"/>
<rect x="253.70" width="5.84" fill="#f47918"/>
<rect x="259.04" width="5.84" fill="#f8890c"/>
<rect x="264.38" width="5.84" fill="#fb9706"/>
<rect x="269.73" width="5.84" fill="#fb9d07"/>
<rect x="275.07" width="5.84" fill="#fcac11"/>
<rect x="280.42" width="5.84" fill="#fca50a"/>
<rect x="285.76" width="5.84" fill="#fcaa0f"/>
<rect x="291.10" width="5.84" fill="#fb9d07"/>
<rect x="296.45" width="5.84" fill="#fb9606"/>
<rect x="301.79" width="5.84" fill="#f8890c"/>
<rect x="307.14" width="5.84" fill="#f47918"/>
<rect x="312.48" width="5.84" fill="#e8602d"/>
<rect x="317.82" width="5.84" fill="#d54a41"/>
<rect x="323.17" width="5.84" fill="#b1325a"/>
<rect x="328.51" width="5.84" fill="#87216b"/>
<rect x="333.86" width="5.84" fill="#61136e"/>
<rect x="339.20" width="5.84" fill="#3b0964"/>
<rect x="344.54" width="5.84" fill="#190c3e"/>
<rect x="349.89" width="5.84" fill="#0b0724"/>
<rect x="355.23" width="5.84" fill="#050417"/>
<rect x="360.58" width="5.84" fill="#030210"/>
<rect x="365.92" width="5.84" fill="#02020e"/>
<rect x="371.26" width="5.84" fill="#02020c"/>
<rect x="376.61" width="5.84" fill="#02020c"/>
<rect x="381.95" width="5.84" fill="#02020c"/>
<rect x="387.30" width="5.84" fill="#02020c"/>
<rect x="392.64" width="5.84" fill="#02020c"/>
<rect x="397.98" width="5.84" fill="#02020c"/>
<rect x="403.33" width="5.84" fill="#02010a"/>
<rect x="408.67" width="5.84" fill="#61136e"/>
<rect x="414.02" width="5.84" fill="#5a116e"/>
<rect x="419.36" width="5.84" fill="#4f0d6c"/>
<rect x="424.70" width="5.84" fill="#450a69"/>
<rect x="430.05" width="5.84" fill="#3d0965"/>
<rect x="435.39" width="5.84" fill="#2b0b57"/>
<rect x="440.74" width="5.84" fill="#1f0c48"/>
<rect x="446.08" width="5.84" fill="#180c3c"/>
<rect x="451.42" width="5.84" fill="#110a30"/>
<rect x="456.77" width="5.84" fill="#09061f"/>
<rect x="462.11" width="5.84" fill="#040314"/>
<rect x="467.46" width="8.84" fill="#02010a"/>
</g>
<g transform="translate(0 116.80)" style="--h:7.25px">
<rect x="69.00" width="8.84" fill="#260c51"/>
<rect x="77.34" width="5.84" fill="#240c4f"/>
<rect x="82.69" width="5.84" fill="#260c51"/>
<rect x="88.03" width="5.84" fill="#240c4f"/>
<rect x="93.38" width="5.84" fill="#280b53"/>
<rect x="98.72" width="5.84" fill="#280b53"/>
<rect x="104.06" width="5.84" fill="#280b53"/>
<rect x="109.41" width="5.84" fill="#260c51"/>
<rect x="114.75" width="5.84" fill="#280b53"/>
<rect x="120.10" width="5.84" fill="#280b53"/>
<rect x="125.44" width="5.84" fill="#290b55"/>
<rect x="130.78" width="5.84" fill="#290b55"/>
<rect x="136.13" width="5.84" fill="#290b55"/>
<rect x="141.47" width="5.84" fill="#2d0b59"/>
<rect x="146.82" width="5.84" fill="#320a5e"/>
<rect x="152.16" width="5.84" fill="#380962"/>
<rect x="157.50" width="5.84" fill="#440a68"/>
<rect x="162.85" width="5.84" fill="#4f0d6c"/>
<rect x="168.19" width="5.84" fill="#5d126e"/>
<rect x="173.54" width="5.84" fill="#62146e"/>
<rect x="178.88" width="5.84" fill="#6d186e"/>
<rect x="184.22" width="5.84" fill="#6d186e"/>
<rect x="189.57" width="5.84" fill="#6c186e"/>
<rect x="194.91" width="5.84" fill="#61136e"/>
<rect x="200.26" width="5.84" fill="#5a116e"/>
<rect x="205.60" width="5.84" fill="#5c126e"/>
<rect x="210.94" width="5.84" fill="#67166e"/>
<rect x="216.29" width="5.84" fill="#721a6e"/>
<rect x="221.63" width="5.84" fill="#84206b"/>
<rect x="226.98" width="5.84" fill="#932667"/>
<rect x="232.32" width="5.84" fill="#b63458"/>
<rect x="237.66" width="5.84" fill="#c63d4d"/>
<rect x="243.01" width="5.84" fill="#db503b"/>
<rect x="248.35" width="5.84" fill="#e9612b"/>
<rect x="253.70" width="5.84" fill="#f3761b"/>
<rect x="259.04" width="5.84" fill="#f67e14"/>
<rect x="264.38" width="5.84" fill="#fb9606"/>
<rect x="269.73" width="5.84" fill="#fb9d07"/>
<rect x="275.07" width="5.84" fill="#fcb014"/>
<rect x="280.42" width="5.84" fill="#fcac11"/>
<rect x="285.76" width="5.84" fill="#fca60c"/>
<rect x="291.10" width="5.84" fill="#fb9b06"/>
<rect x="296.45" width="5.84" fill="#fb9906"/>
<rect x="301.79" width="5.84" fill="#f8890c"/>
<rect x="307.14" width="5.84" fill="#ef6e21"/>
<rect x="312.48" width="5.84" fill="#e9612b"/>
<rect x="317.82" width="5.84" fill="#d34743"/>
<rect x="323.17" width="5.84" fill="#a92e5e"/>
<rect x="328.51" width="5.84" fill="#87216b"/>
<rect x="333.86" width="5.84" fill="#5c126e"/>
<rect x="339.20" width="5.84" fill="#3b0964"/>
<rect x="344.54" width="5.84" fill="#190c3e"/>
<rect x="349.89" width="5.84" fill="#0b0724"/>
<rect x="355.23" width="5.84" fill="#050417"/>
<rect x="360.58" width="5.84" fill="#030210"/>
<rect x="365.92" width="5.84" fill="#02020e"/>
<rect x="371.26" width="5.84" fill="#02020c"/>
<rect x="376.61" width="5.84" fill="#02020c"/>
<rect x="381.95" width="5.84" fill="#02020c"/>
<rect x="387.30" width="5.84" fill="#02020c"/>
<rect x="392.64" width="5.84" fill="#02020c"/>
<rect x="397.98" width="5.84" fill="#02020c"/>
<rect x="403.33" width="5.84" fill="#02010a"/>
<rect x="408.67" width="5.84" fill="#61136e"/>
<rect x="414.02" width="5.84" fill="#59106e"/>
<rect x="419.36" width="5.84" fill="#4d0d6c"/>
<rect x="424.70" width="5.84" fill="#450a69"/>
<rect x="430.05" width="5.84" fill="#380962"/>
<rect x="435.39" width="5.84" fill="#2b0b57"/>
<rect x="440.74" width="5.84" fill="#1f0c48"/>
<rect x="446.08" width="5.84" fill="#180c3c"/>
<rect x="451.42" width="5.84" fill="#110a30"/>
<rect x="456.77" width="5.84" fill="#09061f"/>
<rect x="462.11" width="5.84" fill="#040314"/>
<rect x="467.46" width="8.84" fill="#02010a"/>
</g>
<g transform="translate(0 123.55)" style="--h:7.25px">
<rect x="69.00" width="8.84" fill="#230c4c"/>
<rect x="77.34" width="5.84" fill="#230c4c"/>
<rect x="82.69" width="5.84" fill="#230c4c"/>
<rect x="88.03" width="5.84" fill="#240c4f"/>
<rect x="93.38" width="5.84" fill="#260c51"/>
<rect x="98.72" width="5.84" fill="#260c51"/>
<rect x="104.06" width="5.84" fill="#260c51"/>
<rect x="109.41" width="5.84" fill="#240c4f"/>
<rect x="114.75" width="5.84" fill="#280b53"/>
<rect x="120.10" width="5.84" fill="#280b53"/>
<rect x="125.44" width="5.84" fill="#280b53"/>
<rect x="130.78" width="5.84" fill="#290b55"/>
<rect x="136.13" width="5.84" fill="#290b55"/>
<rect x="141.47" width="5.84" fill="#2d0b59"/>
<rect x="146.82" width="5.84" fill="#310a5c"/>
<rect x="152.16" width="5.84" fill="#390963"/>
<rect x="157.50" width="5.84" fill="#470b6a"/>
<rect x="162.85" width="5.84" fill="#510e6c"/>
<rect x="168.19" width="5.84" fill="#5d126e"/>
<rect x="173.54" width="5.84" fill="#6a176e"/>
<rect x="178.88" width="5.84" fill="#6c186e"/>
<rect x="184.22" width="5.84" fill="#69166e"/>
<rect x="189.57" width="5.84" fill="#6f196e"/>
<rect x="194.91" width="5.84" fill="#64156e"/>
<rect x="200.26" width="5.84" fill="#5a116e"/>
<rect x="205.60" width="5.84" fill="#5a116e"/>
<rect x="210.94" width="5.84" fill="#65156e"/>
<rect x="216.29" width="5.84" fill="#71196e"/>
<rect x="221.63" width="5.84" fill="#7f1e6c"/>
<rect x="226.98" width="5.84" fill="#982766"/>
<rect x="232.32" width="5.84" fill="#b0315b"/>
<rect x="237.66" width="5.84" fill="#ca404a"/>
<rect x="243.01" width="5.84" fill="#da4e3c"/>
<rect x="248.35" width="5.84" fill="#eb6628"/>
<rect x="253.70" width="5.84" fill="#f1731d"/>
<rect x="259.04" width="5.84" fill="#f67e14"/>
<rect x="264.38" width="5.84" fill="#f98c0a"/>
<rect x="269.73" width="5.84" fill="#fca108"/>
<rect x="275.07" width="5.84" fill="#fcaa0f"/>
<rect x="280.42" width="5.84" fill="#fca309"/>
<rect x="285.76" width="5.84" fill="#fca50a"/>
<rect x="291.10" width="5.84" fill="#fb9706"/>
<rect x="296.45" width="5.84" fill="#f98e09"/>
<rect x="301.79" width="5.84" fill="#f78212"/>
<rect x="307.14" width="5.84" fill="#f2741c"/>
<rect x="312.48" width="5.84" fill="#e9612b"/>
<rect x="317.82" width="5.84" fill="#d04545"/>
<rect x="323.17" width="5.84" fill="#ad305d"/>
<rect x="328.51" width="5.84" fill="#801f6c"/>
<rect x="333.86" width="5.84" fill="#5d126e"/>
<rect x="339.20" width="5.84" fill="#390963"/>
<rect x="344.54" width="5.84" fill="#180c3c"/>
<rect x="349.89" width="5.84" fill="#0b0724"/>
<rect x="355.23" width="5.84" fill="#050417"/>
<rect x="360.58" width="5.84" fill="#030210"/>
<rect x="365.92" width="5.84" fill="#02020e"/>
<rect x="371.26" width="5.84" fill="#02020c"/>
<rect x="376.61" width="5.84" fill="#02020c"/>
<rect x="381.95" width="5.84" fill="#02020c"/>
<rect x="387.30" width="5.84" fill="#02020c"/>
<rect x="392.64" width="5.84" fill="#02020c"/>
<rect x="397.98" width="5.84" fill="#02020c"/>
<rect x="403.33" width="5.84" fill="#02010a"/>
<rect x="408.67" width="5.84" fill="#5f136e"/>
<rect x="414.02" width="5.84" fill="#59106e"/>
<rect x="419.36" width="5.84" fill="#4d0d6c"/>
<rect x="424.70" width="5.84" fill="#440a68"/>
<rect x="430.05" width="5.84" fill="#380962"/>
<rect x="435.39" width="5.84" fill="#280b53"/>
<rect x="440.74" width="5.84" fill="#1e0c45"/>
<rect x="446.08" width="5.84" fill="#160b39"/>
<rect x="451.42" width="5.84" fill="#10092d"/>
<rect x="456.77" width="5.84" fill="#09061f"/>
<rect x="462.11" width="5.84" fill="#040314"/>
<rect x="467.46" width="8.84" fill="#02010a"/>
</g>
<g transform="translate(0 130.30)" style="--h:7.25px">
<rect x="69.00" width="8.84" fill="#230c4c"/>
<rect x="77.34" width="5.84" fill="#280b53"/>
<rect x="82.69" width="5.84" fill="#260c51"/>
<rect x="88.03" width="5.84" fill="#280b53"/>
<rect x="93.38" width="5.84" fill="#280b53"/>
<rect x="98.72" width="5.84" fill="#260c51"/>
<rect x="104.06" width="5.84" fill="#260c51"/>
<rect x="109.41" width="5.84" fill="#2b0b57"/>
<rect x="114.75" width="5.84" fill="#280b53"/>
<rect x="120.10" width="5.84" fill="#280b53"/>
<rect x="125.44" width="5.84" fill="#2b0b57"/>
<rect x="130.78" width="5.84" fill="#2b0b57"/>
<rect x="136.13" width="5.84" fill="#290b55"/>
<rect x="141.47" width="5.84" fill="#2d0b59"/>
<rect x="146.82" width="5.84" fill="#320a5e"/>
<rect x="152.16" width="5.84" fill="#3d0965"/>
<rect x="157.50" width="5.84" fill="#490b6a"/>
<rect x="162.85" width="5.84" fill="#540f6d"/>
<rect x="168.19" width="5.84" fill="#5f136e"/>
<rect x="173.54" width="5.84" fill="#6a176e"/>
<rect x="178.88" width="5.84" fill="#6f196e"/>
<rect x="184.22" width="5.84" fill="#71196e"/>
<rect x="189.57" width="5.84" fill="#6d186e"/>
<rect x="194.91" width="5.84" fill="#64156e"/>
<rect x="200.26" width="5.84" fill="#59106e"/>
<rect x="205.60" width="5.84" fill="#62146e"/>
<rect x="210.94" width="5.84" fill="#64156e"/>
<rect x="216.29" width="5.84" fill="#751b6e"/>
<rect x="221.63" width="5.84" fill="#82206c"/>
<rect x="226.98" width="5.84" fill="#982766"/>
<rect x="232.32" width="5.84" fill="#b63458"/>
<rect x="237.66" width="5.84" fill="#ca404a"/>
<rect x="243.01" width="5.84" fill="#de5238"/>
<rect x="248.35" width="5.84" fill="#e8602d"/>
<rect x="253.70" width="5.84" fill="#f37819"/>
<rect x="259.04" width="5.84" fill="#f78212"/>
<rect x="264.38" width="5.84" fill="#f98c0a"/>
<rect x="269.73" width="5.84" fill="#fca108"/>
<rect x="275.07" width="5.84" fill="#fcae12"/>
<rect x="280.42" width="5.84" fill="#fcb014"/>
<rect x="285.76" width="5.84" fill="#fcaa0f"/>
<rect x="291.10" width="5.84" fill="#fb9906"/>
<rect x="296.45" width="5.84" fill="#fa9407"/>
<rect x="301.79" width="5.84" fill="#f98b0b"/>
<rect x="307.14" width="5.84" fill="#f1731d"/>
<rect x="312.48" width="5.84" fill="#e75e2e"/>
<rect x="317.82" width="5.84" fill="#d24644"/>
<rect x="323.17" width="5.84" fill="#ad305d"/>
<rect x="328.51" width="5.84" fill="#8a226a"/>
<rect x="333.86" width="5.84" fill="#62146e"/>
<rect x="339.20" width="5.84" fill="#3d0965"/>
<rect x="344.54" width="5.84" fill="#190c3e"/>
<rect x="349.89" width="5.84" fill="#0b0724"/>
<rect x="355.23" width="5.84" fill="#050417"/>
<rect x="360.58" width="5.84" fill="#030210"/>
<rect x="365.92" width="5.84" fill="#02020e"/>
<rect x="371.26" width="5.84" fill="#02020c"/>
<rect x="376.61" width="5.84" fill="#02020c"/>
<rect x="381.95" width="5.84" fill="#02020c"/>
<rect x="387.30" width="5.84" fill="#02020c"/>
<rect x="392.64" width="5.84" fill="#02020c"/>
<rect x="397.98" width="5.84" fill="#02010a"/>
<rect x="403.33" width="5.84" fill="#02010a"/>
<rect x="408.67" width="5.84" fill="#65156e"/>
<rect x="414.02" width="5.84" fill="#59106e"/>
<rect x="419.36" width="5.84" fill="#4d0d6c"/>
<rect x="424.70" width="5.84" fill="#450a69"/>
<rect x="430.05" width="5.84" fill="#380962"/>
<rect x="435.39" width="5.84" fill="#2b0b57"/>
<rect x="440.74" width="5.84" fill="#210c4a"/>
<rect x="446.08" width="5.84" fill="#180c3c"/>
<rect x="451.42" width="5.84" fill="#10092d"/>
<rect x="456.77" width="5.84" fill="#09061f"/>
<rect x="462.11" width="5.84" fill="#040314"/>
<rect x="467.46" width="8.84" fill="#02010a"/>
</g>
<g transform="translate(0 137.05)" style="--h:7.25px">
<rect x="69.00" width="8.84" fill="#260c51"/>
<rect x="77.34" width="5.84" fill="#240c4f"/>
<rect x="82.69" width="5.84" fill="#240c4f"/>
<rect x="88.03" width="5.84" fill="#260c51"/>
<rect x="93.38" width="5.84" fill="#260c51"/>
<rect x="98.72" width="5.84" fill="#280b53"/>
<rect x="104.06" width="5.84" fill="#280b53"/>
<rect x="109.41" width="5.84" fill="#280b53"/>
<rect x="114.75" width="5.84" fill="#280b53"/>
<rect x="120.10" width="5.84" fill="#290b55"/>
<rect x="125.44" width="5.84" fill="#280b53"/>
<rect x="130.78" width="5.84" fill="#290b55"/>
<rect x="136.13" width="5.84" fill="#290b55"/>
<rect x="141.47" width="5.84" fill="#2b0b57"/>
<rect x="146.82" width="5.84" fill="#310a5c"/>
<rect x="152.16" width="5.84" fill="#3b0964"/>
<rect x="157.50" width="5.84" fill="#450a69"/>
<rect x="162.85" width="5.84" fill="#4f0d6c"/>
<rect x="168.19" width="5.84" fill="#62146e"/>
<rect x="173.54" width="5.84" fill="#6a176e"/>
<rect x="178.88" width="5.84" fill="#71196e"/>
<rect x="184.22" width="5.84" fill="#6f196e"/>
<rect x="189.57" width="5.84" fill="#6c186e"/>
<rect x="194.91" width="5.84" fill="#64156e"/>
<rect x="200.26" width="5.84" fill="#59106e"/>
<rect x="205.60" width="5.84" fill="#62146e"/>
<rect x="210.94" width="5.84" fill="#65156e"/>
<rect x="216.29" width="5.84" fill="#771c6d"/>
<rect x="221.63" width="5.84" fill="#801f6c"/>
<rect x="226.98" width="5.84" fill="#952667"/>
<rect x="232.32" width="5.84" fill="#b3325a"/>
<rect x="237.66" width="5.84" fill="#ce4347"/>
<rect x="243.01" width="5.84" fill="#de5238"/>
<rect x="248.35" width="5.84" fill="#eb6429"/>
<rect x="253.70" width="5.84" fill="#ef6e21"/>
<rect x="259.04" width="5.84" fill="#f78410"/>
<rect x="264.38" width="5.84" fill="#f98c0a"/>
<rect x="269.73" width="5.84" fill="#fca50a"/>
<rect x="275.07" width="5.84" fill="#fcae12"/>
<rect x="280.42" width="5.84" fill="#fcac11"/>
<rect x="285.76" width="5.84" fill="#fca60c"/>
<rect x="291.10" width="5.84" fill="#fb9606"/>
<rect x="296.45" width="5.84" fill="#fb9906"/>
<rect x="301.79" width="5.84" fill="#f8850f"/>
<rect x="307.14" width="5.84" fill="#f3761b"/>
<rect x="312.48" width="5.84" fill="#e65d2f"/>
<rect x="317.82" width="5.84" fill="#d34743"/>
<rect x="323.17" width="5.84" fill="#ab2f5e"/>
<rect x="328.51" width="5.84" fill="#85216b"/>
<rect x="333.86" width="5.84" fill="#61136e"/>
<rect x="339.20" width="5.84" fill="#3b0964"/>
<rect x="344.54" width="5.84" fill="#1b0c41"/>
<rect x="349.89" width="5.84" fill="#0b0724"/>
<rect x="355.23" width="5.84" fill="#050417"/>
<rect x="360.58" width="5.84" fill="#030210"/>
<rect x="365.92" width="5.84" fill="#02020e"/>
<rect x="371.26" width="5.84" fill="#02020c"/>
<rect x="376.61" width="5.84" fill="#02020c"/>
<rect x="381.95" width="5.84" fill="#02020c"/>
<rect x="387.30" width="5.84" fill="#02020c"/>
<rect x="392.64" width="5.84" fill="#02020c"/>
<rect x="397.98" width="5.84" fill="#02010a"/>
<rect x="403.33" width="5.84" fill="#02010a"/>
<rect x="408.67" width="5.84" fill="#69166e"/>
<rect x="414.02" width="5.84" fill="#550f6d"/>
<rect x="419.36" width="5.84" fill="#4c0c6b"/>
<rect x="424.70" width="5.84" fill="#450a69"/>
<rect x="430.05" width="5.84" fill="#3b0964"/>
<rect x="435.39" width="5.84" fill="#2d0b59"/>
<rect x="440.74" width="5.84" fill="#1f0c48"/>
<rect x="446.08" width="5.84" fill="#180c3c"/>
<rect x="451.42" width="5.84" fill="#110a30"/>
<rect x="456.77" width="5.84" fill="#08051d"/>
<rect x="462.11" width="5.84" fill="#040314"/>
<rect x="467.46" width="8.84" fill="#02010a"/>
</g>
<g transform="translate(0 143.80)" style="--h:7.25px">
<rect x="69.00" width="8.84" fill="#210c4a"/>
<rect x="77.34" width="5.84" fill="#230c4c"/>
<rect x="82.69" width="5.84" fill="#240c4f"/>
<rect x="88.03" width="5.84" fill="#230c4c"/>
<rect x="93.38" width="5.84" fill="#230c4c"/>
<rect x="98.72" width="5.84" fill="#240c4f"/>
<rect x="104.06" width="5.84" fill="#240c4f"/>
<rect x="109.41" width="5.84" fill="#230c4c"/>
<rect x="114.75" width="5.84" fill="#210c4a"/>
<rect x="120.10" width="5.84" fill="#1f0c48"/>
<rect x="125.44" width="5.84" fill="#1e0c45"/>
<rect x="130.78" width="5.84" fill="#190c3e"/>
<rect x="136.13" width="5.84" fill="#1b0c41"/>
<rect x="141.47" width="5.84" fill="#1b0c41"/>
<rect x="146.82" width="5.84" fill="#1c0c43"/>
<rect x="152.16" width="5.84" fill="#230c4c"/>
<rect x="157.50" width="5.84" fill="#280b53"/>
<rect x="162.85" width="5.84" fill="#320a5e"/>
<rect x="168.19" width="5.84" fill="#3e0966"/>
<rect x="173.54" width="5.84" fill="#470b6a"/>
<rect x="178.88" width="5.84" fill="#520e6d"/>
<rect x="184.22" width="5.84" fill="#4d0d6c"/>
<rect x="189.57" width="5.84" fill="#4d0d6c"/>
<rect x="194.91" width="5.84" fill="#490b6a"/>
<rect x="200.26" width="5.84" fill="#450a69"/>
<rect x="205.60" width="5.84" fill="#470b6a"/>
<rect x="210.94" width="5.84" fill="#4d0d6c"/>
<rect x="216.29" width="5.84" fill="#520e6d"/>
<rect x="221.63" width="5.84" fill="#550f6d"/>
<rect x="226.98" width="5.84" fill="#65156e"/>
<rect x="232.32" width="5.84" fill="#7f1e6c"/>
<rect x="237.66" width="5.84" fill="#982766"/>
<rect x="243.01" width="5.84" fill="#ae305c"/>
<rect x="248.35" width="5.84" fill="#c73e4c"/>
<rect x="253.70" width="5.84" fill="#da4e3c"/>
<rect x="259.04" width="5.84" fill="#e55c30"/>
<rect x="264.38" width="5.84" fill="#eb6628"/>
<rect x="269.73" width="5.84" fill="#f3761b"/>
<rect x="275.07" width="5.84" fill="#f57d15"/>
<rect x="280.42" width="5.84" fill="#f47918"/>
<rect x="285.76" width="5.84" fill="#f57d15"/>
<rect x="291.10" width="5.84" fill="#f1731d"/>
<rect x="296.45" width="5.84" fill="#ef6e21"/>
<rect x="301.79" width="5.84" fill="#ea632a"/>
<rect x="307.14" width="5.84" fill="#e25734"/>
<rect x="312.48" width="5.84" fill="#dd513a"/>
<rect x="317.82" width="5.84" fill="#ca404a"/>
<rect x="323.17" width="5.84" fill="#b63458"/>
<rect x="328.51" width="5.84" fill="#a02a63"/>
<rect x="333.86" width="5.84" fill="#88226a"/>
<rect x="339.20" width="5.84" fill="#67166e"/>
<rect x="344.54" width="5.84" fill="#450a69"/>
<rect x="349.89" width="5.84" fill="#2f0a5b"/>
<rect x="355.23" width="5.84" fill="#160b39"/>
<rect x="360.58" width="5.84" fill="#0a0722"/>
<rect x="365.92" width="5.84" fill="#040312"/>
<rect x="371.26" width="5.84" fill="#02020e"/>
<rect x="376.61" width="5.84" fill="#02020c"/>
<rect x="381.95" width="5.84" fill="#02020c"/>
<rect x="387.30" width="5.84" fill="#02010a"/>
<rect x="392.64" width="5.84" fill="#02010a"/>
<rect x="397.98" width="5.84" fill="#02010a"/>
<rect x="403.33" width="5.84" fill="#02010a"/>
<rect x="408.67" width="5.84" fill="#5c126e"/>
<rect x="414.02" width="5.84" fill="#5a116e"/>
<rect x="419.36" width="5.84" fill="#4a0c6b"/>
<rect x="424.70" width="5.84" fill="#450a69"/>
<rect x="430.05" width="5.84" fill="#360961"/>
<rect x="435.39" width="5.84" fill="#2b0b57"/>
<rect x="440.74" width="5.84" fill="#1e0c45"/>
<rect x="446.08" width="5.84" fill="#160b39"/>
<rect x="451.42" width="5.84" fill="#110a30"/>
<rect x="456.77" width="5.84" fill="#09061f"/>
<rect x="462.11" width="5.84" fill="#040314"/>
<rect x="467.46" width="8.84" fill="#02010a"/>
</g>
<g transform="translate(0 150.55)" style="--h:7.25px">
<rect x="69.00" width="8.84" fill="#1f0c48"/>
<rect x="77.34" width="5.84" fill="#210c4a"/>
<rect x="82.69" width="5.84" fill="#1f0c48"/>
<rect x="88.03" width="5.84" fill="#230c4c"/>
<rect x="93.38" width="5.84" fill="#230c4c"/>
<rect x="98.72" width="5.84" fill="#210c4a"/>
<rect x="104.06" width="5.84" fill="#230c4c"/>
<rect x="109.41" width="5.84" fill="#230c4c"/>
<rect x="114.75" width="5.84" fill="#1e0c45"/>
<rect x="120.10" width="5.84" fill="#190c3e"/>
<rect x="125.44" width="5.84" fill="#140b34"/>
<rect x="130.78" width="5.84" fill="#10092d"/>
<rect x="136.13" width="5.84" fill="#0d0829"/>
<rect x="141.47" width="5.84" fill="#0d0829"/>
<rect x="146.82" width="5.84" fill="#0c0826"/>
<rect x="152.16" width="5.84" fill="#0d0829"/>
<rect x="157.50" width="5.84" fill="#0d0829"/>
<rect x="162.85" width="5.84" fill="#120a32"/>
<rect x="168.19" width="5.84" fill="#1c0c43"/>
<rect x="173.54" width="5.84" fill="#260c51"/>
<rect x="178.88" width="5.84" fill="#2d0b59"/>
<rect x="184.22" width="5.84" fill="#2d0b59"/>
<rect x="189.57" width="5.84" fill="#2f0a5b"/>
<rect x="194.91" width="5.84" fill="#310a5c"/>
<rect x="200.26" width="5.84" fill="#320a5e"/>
<rect x="205.60" width="5.84" fill="#310a5c"/>
<rect x="210.94" width="5.84" fill="#310a5c"/>
<rect x="216.29" width="5.84" fill="#310a5c"/>
<rect x="221.63" width="5.84" fill="#340a5f"/>
<rect x="226.98" width="5.84" fill="#340a5f"/>
<rect x="232.32" width="5.84" fill="#470b6a"/>
<rect x="237.66" width="5.84" fill="#5f136e"/>
<rect x="243.01" width="5.84" fill="#781c6d"/>
<rect x="248.35" width="5.84" fill="#952667"/>
<rect x="253.70" width="5.84" fill="#b1325a"/>
<rect x="259.04" width="5.84" fill="#c13a50"/>
<rect x="264.38" width="5.84" fill="#d44842"/>
<rect x="269.73" width="5.84" fill="#dd513a"/>
<rect x="275.07" width="5.84" fill="#de5238"/>
<rect x="280.42" width="5.84" fill="#e15635"/>
<rect x="285.76" width="5.84" fill="#e05536"/>
<rect x="291.10" width="5.84" fill="#e05536"/>
<rect x="296.45" width="5.84" fill="#d44842"/>
<rect x="301.79" width="5.84" fill="#d44842"/>
<rect x="307.14" width="5.84" fill="#cb4149"/>
<rect x="312.48" width="5.84" fill="#c73e4c"/>
<rect x="317.82" width="5.84" fill="#c63d4d"/>
<rect x="323.17" width="5.84" fill="#c03a51"/>
<rect x="328.51" width="5.84" fill="#ba3655"/>
<rect x="333.86" width="5.84" fill="#b1325a"/>
<rect x="339.20" width="5.84" fill="#952667"/>
<rect x="344.54" width="5.84" fill="#82206c"/>
<rect x="349.89" width="5.84" fill="#5f136e"/>
<rect x="355.23" width="5.84" fill="#380962"/>
<rect x="360.58" width="5.84" fill="#1b0c41"/>
<rect x="365.92" width="5.84" fill="#08051d"/>
<rect x="371.26" width="5.84" fill="#040312"/>
<rect x="376.61" width="5.84" fill="#02020c"/>
<rect x="381.95" width="5.84" fill="#02020c"/>
<rect x="387.30" width="5.84" fill="#02010a"/>
<rect x="392.64" width="5.84" fill="#02010a"/>
<rect x="397.98" width="5.84" fill="#02010a"/>
<rect x="403.33" width="5.84" fill="#02010a"/>
<rect x="408.67" width="5.84" fill="#5a116e"/>
<rect x="414.02" width="5.84" fill="#5a116e"/>
<rect x="419.36" width="5.84" fill="#4a0c6b"/>
<rect x="424.70" width="5.84" fill="#450a69"/>
<rect x="430.05" width="5.84" fill="#3e0966"/>
<rect x="435.39" width="5.84" fill="#390963"/>
<rect x="440.74" width="5.84" fill="#320a5e"/>
<rect x="446.08" width="5.84" fill="#2b0b57"/>
<rect x="451.42" width="5.84" fill="#240c4f"/>
<rect x="456.77" width="5.84" fill="#150b37"/>
<rect x="462.11" width="5.84" fill="#0b0724"/>
<rect x="467.46" width="8.84" fill="#040312"/>
</g>
<g transform="translate(0 157.30)" style="--h:7.25px">
<rect x="69.00" width="8.84" fill="#240c4f"/>
<rect x="77.34" width="5.84" fill="#230c4c"/>
<rect x="82.69" width="5.84" fill="#260c51"/>
<rect x="88.03" width="5.84" fill="#240c4f"/>
<rect x="93.38" width="5.84" fill="#240c4f"/>
<rect x="98.72" width="5.84" fill="#260c51"/>
<rect x="104.06" width="5.84" fill="#260c51"/>
<rect x="109.41" width="5.84" fill="#240c4f"/>
<rect x="114.75" width="5.84" fill="#1f0c48"/>
<rect x="120.10" width="5.84" fill="#1c0c43"/>
<rect x="125.44" width="5.84" fill="#180c3c"/>
<rect x="130.78" width="5.84" fill="#110a30"/>
<rect x="136.13" width="5.84" fill="#0e092b"/>
<rect x="141.47" width="5.84" fill="#0e092b"/>
<rect x="146.82" width="5.84" fill="#0e092b"/>
<rect x="152.16" width="5.84" fill="#0e092b"/>
<rect x="157.50" width="5.84" fill="#0e092b"/>
<rect x="162.85" width="5.84" fill="#150b37"/>
<rect x="168.19" width="5.84" fill="#1f0c48"/>
<rect x="173.54" width="5.84" fill="#280b53"/>
<rect x="178.88" width="5.84" fill="#320a5e"/>
<rect x="184.22" width="5.84" fill="#340a5f"/>
<rect x="189.57" width="5.84" fill="#380962"/>
<rect x="194.91" width="5.84" fill="#360961"/>
<rect x="200.26" width="5.84" fill="#320a5e"/>
<rect x="205.60" width="5.84" fill="#340a5f"/>
<rect x="210.94" width="5.84" fill="#340a5f"/>
<rect x="216.29" width="5.84" fill="#360961"/>
<rect x="221.63" width="5.84" fill="#340a5f"/>
<rect x="226.98" width="5.84" fill="#340a5f"/>
<rect x="232.32" width="5.84" fill="#4c0c6b"/>
<rect x="237.66" width="5.84" fill="#64156e"/>
<rect x="243.01" width="5.84" fill="#7d1e6d"/>
<rect x="248.35" width="5.84" fill="#982766"/>
<rect x="253.70" width="5.84" fill="#b43359"/>
<rect x="259.04" width="5.84" fill="#c73e4c"/>
<rect x="264.38" width="5.84" fill="#d34743"/>
<rect x="269.73" width="5.84" fill="#df5337"/>
<rect x="275.07" width="5.84" fill="#de5238"/>
<rect x="280.42" width="5.84" fill="#e15635"/>
<rect x="285.76" width="5.84" fill="#de5238"/>
<rect x="291.10" width="5.84" fill="#de5238"/>
<rect x="296.45" width="5.84" fill="#d74b3f"/>
<rect x="301.79" width="5.84" fill="#d34743"/>
<rect x="307.14" width="5.84" fill="#cb4149"/>
<rect x="312.48" width="5.84" fill="#ca404a"/>
<rect x="317.82" width="5.84" fill="#c63d4d"/>
<rect x="323.17" width="5.84" fill="#bd3853"/>
<rect x="328.51" width="5.84" fill="#bd3853"/>
<rect x="333.86" width="5.84" fill="#b1325a"/>
<rect x="339.20" width="5.84" fill="#a52c60"/>
<rect x="344.54" width="5.84" fill="#8c2369"/>
<rect x="349.89" width="5.84" fill="#6d186e"/>
<rect x="355.23" width="5.84" fill="#4c0c6b"/>
<rect x="360.58" width="5.84" fill="#240c4f"/>
<rect x="365.92" width="5.84" fill="#0d0829"/>
<rect x="371.26" width="5.84" fill="#050417"/>
<rect x="376.61" width="5.84" fill="#02020e"/>
<rect x="381.95" width="5.84" fill="#02020c"/>
<rect x="387.30" width="5.84" fill="#02020c"/>
<rect x="392.64" width="5.84" fill="#02010a"/>
<rect x="397.98" width="5.84" fill="#02010a"/>
<rect x="403.33" width="5.84" fill="#02010a"/>
<rect x="408.67" width="5.84" fill="#59106e"/>
<rect x="414.02" width="5.84" fill="#520e6d"/>
<rect x="419.36" width="5.84" fill="#4c0c6b"/>
<rect x="424.70" width="5.84" fill="#4f0d6c"/>
<rect x="430.05" width="5.84" fill="#4c0c6b"/>
<rect x="435.39" width="5.84" fill="#540f6d"/>
<rect x="440.74" width="5.84" fill="#550f6d"/>
<rect x="446.08" width="5.84" fill="#61136e"/>
<rect x="451.42" width="5.84" fill="#540f6d"/>
<rect x="456.77" width="5.84" fill="#3b0964"/>
<rect x="462.11" width="5.84" fill="#1e0c45"/>
<rect x="467.46" width="8.84" fill="#0a0722"/>
</g>
<g transform="translate(0 164.05)" style="--h:7.25px">
<rect x="69.00" width="8.84" fill="#260c51"/>
<rect x="77.34" width="5.84" fill="#260c51"/>
<rect x="82.69" width="5.84" fill="#240c4f"/>
<rect x="88.03" width="5.84" fill="#260c51"/>
<rect x="93.38" width="5.84" fill="#280b53"/>
<rect x="98.72" width="5.84" fill="#280b53"/>
<rect x="104.06" width="5.84" fill="#260c51"/>
<rect x="109.41" width="5.84" fill="#260c51"/>
<rect x="114.75" width="5.84" fill="#210c4a"/>
<rect x="120.10" width="5.84" fill="#1e0c45"/>
<rect x="125.44" width="5.84" fill="#180c3c"/>
<rect x="130.78" width="5.84" fill="#120a32"/>
<rect x="136.13" width="5.84" fill="#110a30"/>
<rect x="141.47" width="5.84" fill="#10092d"/>
<rect x="146.82" width="5.84" fill="#10092d"/>
<rect x="152.16" width="5.84" fill="#0e092b"/>
<rect x="157.50" width="5.84" fill="#10092d"/>
<rect x="162.85" width="5.84" fill="#150b37"/>
<rect x="168.19" width="5.84" fill="#210c4a"/>
<rect x="173.54" width="5.84" fill="#2b0b57"/>
<rect x="178.88" width="5.84" fill="#360961"/>
<rect x="184.22" width="5.84" fill="#340a5f"/>
<rect x="189.57" width="5.84" fill="#380962"/>
<rect x="194.91" width="5.84" fill="#380962"/>
<rect x="200.26" width="5.84" fill="#340a5f"/>
<rect x="205.60" width="5.84" fill="#380962"/>
<rect x="210.94" width="5.84" fill="#360961"/>
<rect x="216.29" width="5.84" fill="#390963"/>
<rect x="221.63" width="5.84" fill="#360961"/>
<rect x="226.98" width="5.84" fill="#390963"/>
<rect x="232.32" width="5.84" fill="#4c0c6b"/>
<rect x="237.66" width="5.84" fill="#5d126e"/>
<rect x="243.01" width="5.84" fill="#781c6d"/>
<rect x="248.35" width="5.84" fill="#952667"/>
<rect x="253.70" width="5.84" fill="#ad305d"/>
<rect x="259.04" width="5.84" fill="#c63d4d"/>
<rect x="264.38" width="5.84" fill="#d04545"/>
<rect x="269.73" width="5.84" fill="#d84c3e"/>
<rect x="275.07" width="5.84" fill="#df5337"/>
<rect x="280.42" width="5.84" fill="#db503b"/>
<rect x="285.76" width="5.84" fill="#db503b"/>
<rect x="291.10" width="5.84" fill="#da4e3c"/>
<rect x="296.45" width="5.84" fill="#d44842"/>
<rect x="301.79" width="5.84" fill="#ca404a"/>
<rect x="307.14" width="5.84" fill="#c73e4c"/>
<rect x="312.48" width="5.84" fill="#c13a50"/>
<rect x="317.82" width="5.84" fill="#c73e4c"/>
<rect x="323.17" width="5.84" fill="#bd3853"/>
<rect x="328.51" width="5.84" fill="#b93556"/>
<rect x="333.86" width="5.84" fill="#b3325a"/>
<rect x="339.20" width="5.84" fill="#ab2f5e"/>
<rect x="344.54" width="5.84" fill="#952667"/>
<rect x="349.89" width="5.84" fill="#7a1d6d"/>
<rect x="355.23" width="5.84" fill="#5c126e"/>
<rect x="360.58" width="5.84" fill="#310a5c"/>
<rect x="365.92" width="5.84" fill="#140b34"/>
<rect x="371.26" width="5.84" fill="#07051b"/>
<rect x="376.61" width="5.84" fill="#030210"/>
<rect x="381.95" width="5.84" fill="#02020c"/>
<rect x="387.30" width="5.84" fill="#02020c"/>
<rect x="392.64" width="5.84" fill="#02010a"/>
<rect x="397.98" width="5.84" fill="#02010a"/>
<rect x="403.33" width="5.84" fill="#02010a"/>
<rect x="408.67" width="5.84" fill="#520e6d"/>
<rect x="414.02" width="5.84" fill="#470b6a"/>
<rect x="419.36" width="5.84" fill="#4a0c6b"/>
<rect x="424.70" width="5.84" fill="#550f6d"/>
<rect x="430.05" width="5.84" fill="#61136e"/>
<rect x="435.39" width="5.84" fill="#6c186e"/>
<rect x="440.74" width="5.84" fill="#7d1e6d"/>
<rect x="446.08" width="5.84" fill="#8f2469"/>
<rect x="451.42" width="5.84" fill="#7f1e6c"/>
<rect x="456.77" width="5.84" fill="#5f136e"/>
<rect x="462.11" width="5.84" fill="#360961"/>
<rect x="467.46" width="8.84" fill="#120a32"/>
</g>
<g transform="translate(0 170.80)" style="--h:7.25px">
<rect x="69.00" width="8.84" fill="#280b53"/>
<rect x="77.34" width="5.84" fill="#260c51"/>
<rect x="82.69" width="5.84" fill="#2b0b57"/>
<rect x="88.03" width="5.84" fill="#280b53"/>
<rect x="93.38" width="5.84" fill="#290b55"/>
<rect x="98.72" width="5.84" fill="#280b53"/>
<rect x="104.06" width="5.84" fill="#290b55"/>
<rect x="109.41" width="5.84" fill="#260c51"/>
<rect x="114.75" width="5.84" fill="#240c4f"/>
<rect x="120.10" width="5.84" fill="#1f0c48"/>
<rect x="125.44" width="5.84" fill="#190c3e"/>
<rect x="130.78" width="5.84" fill="#140b34"/>
<rect x="136.13" width="5.84" fill="#120a32"/>
<rect x="141.47" width="5.84" fill="#110a30"/>
<rect x="146.82" width="5.84" fill="#110a30"/>
<rect x="152.16" width="5.84" fill="#110a30"/>
<rect x="157.50" width="5.84" fill="#110a30"/>
<rect x="162.85" width="5.84" fill="#180c3c"/>
<rect x="168.19" width="5.84" fill="#230c4c"/>
<rect x="173.54" width="5.84" fill="#310a5c"/>
<rect x="178.88" width="5.84" fill="#380962"/>
<rect x="184.22" width="5.84" fill="#380962"/>
<rect x="189.57" width="5.84" fill="#380962"/>
<rect x="194.91" width="5.84" fill="#380962"/>
<rect x="200.26" width="5.84" fill="#390963"/>
<rect x="205.60" width="5.84" fill="#3b0964"/>
<rect x="210.94" width="5.84" fill="#3b0964"/>
<rect x="216.29" width="5.84" fill="#390963"/>
<rect x="221.63" width="5.84" fill="#390963"/>
<rect x="226.98" width="5.84" fill="#3b0964"/>
<rect x="232.32" width="5.84" fill="#4a0c6b"/>
<rect x="237.66" width="5.84" fill="#6a176e"/>
<rect x="243.01" width="5.84" fill="#801f6c"/>
<rect x="248.35" width="5.84" fill="#972766"/>
<rect x="253.70" width="5.84" fill="#ab2f5e"/>
<rect x="259.04" width="5.84" fill="#c43c4e"/>
<rect x="264.38" width="5.84" fill="#ce4347"/>
<rect x="269.73" width="5.84" fill="#dd513a"/>
<rect x="275.07" width="5.84" fill="#de5238"/>
<rect x="280.42" width="5.84" fill="#d94d3d"/>
<rect x="285.76" width="5.84" fill="#dd513a"/>
<rect x="291.10" width="5.84" fill="#da4e3c"/>
<rect x="296.45" width="5.84" fill="#d24644"/>
<rect x="301.79" width="5.84" fill="#cb4149"/>
<rect x="307.14" width="5.84" fill="#c83f4b"/>
<rect x="312.48" width="5.84" fill="#c73e4c"/>
<rect x="317.82" width="5.84" fill="#c43c4e"/>
<rect x="323.17" width="5.84" fill="#c13a50"/>
<rect x="328.51" width="5.84" fill="#ba3655"/>
<rect x="333.86" width="5.84" fill="#b43359"/>
<rect x="339.20" width="5.84" fill="#b0315b"/>
<rect x="344.54" width="5.84" fill="#a52c60"/>
<rect x="349.89" width="5.84" fill="#8a226a"/>
<rect x="355.23" width="5.84" fill="#6d186e"/>
<rect x="360.58" width="5.84" fill="#3e0966"/>
<rect x="365.92" width="5.84" fill="#1e0c45"/>
<rect x="371.26" width="5.84" fill="#09061f"/>
<rect x="376.61" width="5.84" fill="#040312"/>
<rect x="381.95" width="5.84" fill="#02020c"/>
<rect x="387.30" width="5.84" fill="#02020c"/>
<rect x="392.64" width="5.84" fill="#02010a"/>
<rect x="397.98" width="5.84" fill="#02010a"/>
<rect x="403.33" width="5.84" fill="#02010a"/>
<rect x="408.67" width="5.84" fill="#4d0d6c"/>
<rect x="414.02" width="5.84" fill="#4d0d6c"/>
<rect x="419.36" width="5.84" fill="#4a0c6b"/>
<rect x="424.70" width="5.84" fill="#5d126e"/>
<rect x="430.05" width="5.84" fill="#721a6e"/>
<rect x="435.39" width="5.84" fill="#87216b"/>
<rect x="440.74" width="5.84" fill="#a62d60"/>
<rect x="446.08" width="5.84" fill="#ba3655"/>
<rect x="451.42" width="5.84" fill="#ae305c"/>
<rect x="456.77" width="5.84" fill="#84206b"/>
<rect x="462.11" width="5.84" fill="#4f0d6c"/>
<rect x="467.46" width="8.84" fill="#1c0c43"/>
</g>
<g transform="translate(0 177.55)" style="--h:7.25px">
<rect x="69.00" width="8.84" fill="#280b53"/>
<rect x="77.34" width="5.84" fill="#290b55"/>
<rect x="82.69" width="5.84" fill="#280b53"/>
<rect x="88.03" width="5.84" fill="#280b53"/>
<rect x="93.38" width="5.84" fill="#290b55"/>
<rect x="98.72" width="5.84" fill="#290b55"/>
<rect x="104.06" width="5.84" fill="#2b0b57"/>
<rect x="109.41" width="5.84" fill="#290b55"/>
<rect x="114.75" width="5.84" fill="#230c4c"/>
<rect x="120.10" width="5.84" fill="#210c4a"/>
<rect x="125.44" width="5.84" fill="#190c3e"/>
<rect x="130.78" width="5.84" fill="#150b37"/>
<rect x="136.13" width="5.84" fill="#120a32"/>
<rect x="141.47" width="5.84" fill="#120a32"/>
<rect x="146.82" width="5.84" fill="#120a32"/>
<rect x="152.16" width="5.84" fill="#120a32"/>
<rect x="157.50" width="5.84" fill="#120a32"/>
<rect x="162.85" width="5.84" fill="#180c3c"/>
<rect x="168.19" width="5.84" fill="#260c51"/>
<rect x="173.54" width="5.84" fill="#310a5c"/>
<rect x="178.88" width="5.84" fill="#390963"/>
<rect x="184.22" width="5.84" fill="#380962"/>
<rect x="189.57" width="5.84" fill="#390963"/>
<rect x="194.91" width="5.84" fill="#380962"/>
<rect x="200.26" width="5.84" fill="#3e0966"/>
<rect x="205.60" width="5.84" fill="#390963"/>
<rect x="210.94" width="5.84" fill="#390963"/>
<rect x="216.29" width="5.84" fill="#3d0965"/>
<rect x="221.63" width="5.84" fill="#3d0965"/>
<rect x="226.98" width="5.84" fill="#3b0964"/>
<rect x="232.32" width="5.84" fill="#4a0c6b"/>
<rect x="237.66" width="5.84" fill="#62146e"/>
<rect x="243.01" width="5.84" fill="#7c1d6d"/>
<rect x="248.35" width="5.84" fill="#922568"/>
<rect x="253.70" width="5.84" fill="#a82e5f"/>
<rect x="259.04" width="5.84" fill="#bf3952"/>
<rect x="264.38" width="5.84" fill="#cc4248"/>
<rect x="269.73" width="5.84" fill="#d34743"/>
<rect x="275.07" width="5.84" fill="#d94d3d"/>
<rect x="280.42" width="5.84" fill="#d94d3d"/>
<rect x="285.76" width="5.84" fill="#d94d3d"/>
<rect x="291.10" width="5.84" fill="#d54a41"/>
<rect x="296.45" width="5.84" fill="#cc4248"/>
<rect x="301.79" width="5.84" fill="#c83f4b"/>
<rect x="307.14" width="5.84" fill="#c73e4c"/>
<rect x="312.48" width="5.84" fill="#c13a50"/>
<rect x="317.82" width="5.84" fill="#c43c4e"/>
<rect x="323.17" width="5.84" fill="#c03a51"/>
<rect x="328.51" width="5.84" fill="#b93556"/>
<rect x="333.86" width="5.84" fill="#b3325a"/>
<rect x="339.20" width="5.84" fill="#b0315b"/>
<rect x="344.54" width="5.84" fill="#a92e5e"/>
<rect x="349.89" width="5.84" fill="#922568"/>
<rect x="355.23" width="5.84" fill="#6d186e"/>
<rect x="360.58" width="5.84" fill="#540f6d"/>
<rect x="365.92" width="5.84" fill="#2b0b57"/>
<rect x="371.26" width="5.84" fill="#0e092b"/>
<rect x="376.61" width="5.84" fill="#050417"/>
<rect x="381.95" width="5.84" fill="#02020e"/>
<rect x="387.30" width="5.84" fill="#02020c"/>
<rect x="392.64" width="5.84" fill="#02020c"/>
<rect x="397.98" width="5.84" fill="#02010a"/>
<rect x="403.33" width="5.84" fill="#02010a"/>
<rect x="408.67" width="5.84" fill="#400a67"/>
<rect x="414.02" width="5.84" fill="#450a69"/>
<rect x="419.36" width="5.84" fill="#4a0c6b"/>
<rect x="424.70" width="5.84" fill="#64156e"/>
<rect x="430.05" width="5.84" fill="#801f6c"/>
<rect x="435.39" width="5.84" fill="#a02a63"/>
<rect x="440.74" width="5.84" fill="#c33b4f"/>
<rect x="446.08" width="5.84" fill="#dd513a"/>
<rect x="451.42" width="5.84" fill="#d34743"/>
<rect x="456.77" width="5.84" fill="#a32c61"/>
<rect x="462.11" width="5.84" fill="#67166e"/>
<rect x="467.46" width="8.84" fill="#260c51"/>
</g>
<g transform="translate(0 184.30)" style="--h:7.25px">
<rect x="69.00" width="8.84" fill="#280b53"/>
<rect x="77.34" width="5.84" fill="#2b0b57"/>
<rect x="82.69" width="5.84" fill="#2b0b57"/>
<rect x="88.03" width="5.84" fill="#2b0b57"/>
<rect x="93.38" width="5.84" fill="#290b55"/>
<rect x="98.72" width="5.84" fill="#290b55"/>
<rect x="104.06" width="5.84" fill="#2b0b57"/>
<rect x="109.41" width="5.84" fill="#290b55"/>
<rect x="114.75" width="5.84" fill="#240c4f"/>
<rect x="120.10" width="5.84" fill="#210c4a"/>
<rect x="125.44" width="5.84" fill="#1b0c41"/>
<rect x="130.78" width="5.84" fill="#160b39"/>
<rect x="136.13" width="5.84" fill="#140b34"/>
<rect x="141.47" width="5.84" fill="#120a32"/>
<rect x="146.82" width="5.84" fill="#140b34"/>
<rect x="152.16" width="5.84" fill="#120a32"/>
<rect x="157.50" width="5.84" fill="#140b34"/>
<rect x="162.85" width="5.84" fill="#190c3e"/>
<rect x="168.19" width="5.84" fill="#260c51"/>
<rect x="173.54" width="5.84" fill="#310a5c"/>
<rect x="178.88" width="5.84" fill="#390963"/>
<rect x="184.22" width="5.84" fill="#3b0964"/>
<rect x="189.57" width="5.84" fill="#340a5f"/>
<rect x="194.91" width="5.84" fill="#390963"/>
<rect x="200.26" width="5.84" fill="#390963"/>
<rect x="205.60" width="5.84" fill="#390963"/>
<rect x="210.94" width="5.84" fill="#3d0965"/>
<rect x="216.29" width="5.84" fill="#3b0964"/>
<rect x="221.63" width="5.84" fill="#3e0966"/>
<rect x="226.98" width="5.84" fill="#3b0964"/>
<rect x="232.32" width="5.84" fill="#4d0d6c"/>
<rect x="237.66" width="5.84" fill="#67166e"/>
<rect x="243.01" width="5.84" fill="#7c1d6d"/>
<rect x="248.35" width="5.84" fill="#902568"/>
<rect x="253.70" width="5.84" fill="#a22b62"/>
<rect x="259.04" width="5.84" fill="#b63458"/>
<rect x="264.38" width="5.84" fill="#c73e4c"/>
<rect x="269.73" width="5.84" fill="#d24644"/>
<rect x="275.07" width="5.84" fill="#d34743"/>
<rect x="280.42" width="5.84" fill="#d24644"/>
<rect x="285.76" width="5.84" fill="#d84c3e"/>
<rect x="291.10" width="5.84" fill="#d24644"/>
<rect x="296.45" width="5.84" fill="#c83f4b"/>
<rect x="301.79" width="5.84" fill="#c43c4e"/>
<rect x="307.14" width="5.84" fill="#c03a51"/>
<rect x="312.48" width="5.84" fill="#bf3952"/>
<rect x="317.82" width="5.84" fill="#bf3952"/>
<rect x="323.17" width="5.84" fill="#bd3853"/>
<rect x="328.51" width="5.84" fill="#b73557"/>
<rect x="333.86" width="5.84" fill="#b93556"/>
<rect x="339.20" width="5.84" fill="#b3325a"/>
<rect x="344.54" width="5.84" fill="#ad305d"/>
<rect x="349.89" width="5.84" fill="#9a2865"/>
<rect x="355.23" width="5.84" fill="#7c1d6d"/>
<rect x="360.58" width="5.84" fill="#61136e"/>
<rect x="365.92" width="5.84" fill="#340a5f"/>
<rect x="371.26" width="5.84" fill="#160b39"/>
<rect x="376.61" width="5.84" fill="#08051d"/>
<rect x="381.95" width="5.84" fill="#030210"/>
<rect x="387.30" width="5.84" fill="#02020c"/>
<rect x="392.64" width="5.84" fill="#02020c"/>
<rect x="397.98" width="5.84" fill="#02010a"/>
<rect x="403.33" width="5.84" fill="#02010a"/>
<rect x="408.67" width="5.84" fill="#3e0966"/>
<rect x="414.02" width="5.84" fill="#420a68"/>
<rect x="419.36" width="5.84" fill="#470b6a"/>
<rect x="424.70" width="5.84" fill="#69166e"/>
<rect x="430.05" width="5.84" fill="#8d2369"/>
<rect x="435.39" width="5.84" fill="#b93556"/>
<rect x="440.74" width="5.84" fill="#e15635"/>
<rect x="446.08" width="5.84" fill="#f78410"/>
<rect x="451.42" width="5.84" fill="#ed6925"/>
<rect x="456.77" width="5.84" fill="#ca404a"/>
<rect x="462.11" width="5.84" fill="#7c1d6d"/>
<rect x="467.46" width="8.84" fill="#380962"/>
</g>
<g transform="translate(0 191.05)" style="--h:7.25px">
<rect x="69.00" width="8.84" fill="#2b0b57"/>
<rect x="77.34" width="5.84" fill="#290b55"/>
<rect x="82.69" width="5.84" fill="#2b0b57"/>
<rect x="88.03" width="5.84" fill="#2b0b57"/>
<rect x="93.38" width="5.84" fill="#2b0b57"/>
<rect x="98.72" width="5.84" fill="#2b0b57"/>
<rect x="104.06" width="5.84" fill="#2b0b57"/>
<rect x="109.41" width="5.84" fill="#2b0b57"/>
<rect x="114.75" width="5.84" fill="#280b53"/>
<rect x="120.10" width="5.84" fill="#240c4f"/>
<rect x="125.44" width="5.84" fill="#1c0c43"/>
<rect x="130.78" width="5.84" fill="#180c3c"/>
<rect x="136.13" width="5.84" fill="#150b37"/>
<rect x="141.47" width="5.84" fill="#140b34"/>
<rect x="146.82" width="5.84" fill="#140b34"/>
<rect x="152.16" width="5.84" fill="#140b34"/>
<rect x="157.50" width="5.84" fill="#140b34"/>
<rect x="162.85" width="5.84" fill="#1b0c41"/>
<rect x="168.19" width="5.84" fill="#260c51"/>
<rect x="173.54" width="5.84" fill="#340a5f"/>
<rect x="178.88" width="5.84" fill="#3d0965"/>
<rect x="184.22" width="5.84" fill="#3b0964"/>
<rect x="189.57" width="5.84" fill="#3b0964"/>
<rect x="194.91" width="5.84" fill="#3b0964"/>
<rect x="200.26" width="5.84" fill="#3b0964"/>
<rect x="205.60" width="5.84" fill="#3d0965"/>
<rect x="210.94" width="5.84" fill="#3b0964"/>
<rect x="216.29" width="5.84" fill="#3e0966"/>
<rect x="221.63" width="5.84" fill="#3d0965"/>
<rect x="226.98" width="5.84" fill="#400a67"/>
<rect x="232.32" width="5.84" fill="#520e6d"/>
<rect x="237.66" width="5.84" fill="#6a176e"/>
<rect x="243.01" width="5.84" fill="#7c1d6d"/>
<rect x="248.35" width="5.84" fill="#8c2369"/>
<rect x="253.70" width="5.84" fill="#9f2a63"/>
<rect x="259.04" width="5.84" fill="#b43359"/>
<rect x="264.38" width="5.84" fill="#bf3952"/>
<rect x="269.73" width="5.84" fill="#ca404a"/>
<rect x="275.07" width="5.84" fill="#d04545"/>
<rect x="280.42" width="5.84" fill="#cf4446"/>
<rect x="285.76" width="5.84" fill="#d24644"/>
<rect x="291.10" width="5.84" fill="#d34743"/>
<rect x="296.45" width="5.84" fill="#c63d4d"/>
<rect x="301.79" width="5.84" fill="#c03a51"/>
<rect x="307.14" width="5.84" fill="#ba3655"/>
<rect x="312.48" width="5.84" fill="#bd3853"/>
<rect x="317.82" width="5.84" fill="#b93556"/>
<rect x="323.17" width="5.84" fill="#b73557"/>
<rect x="328.51" width="5.84" fill="#b3325a"/>
<rect x="333.86" width="5.84" fill="#b93556"/>
<rect x="339.20" width="5.84" fill="#b0315b"/>
<rect x="344.54" width="5.84" fill="#ad305d"/>
<rect x="349.89" width="5.84" fill="#a32c61"/>
<rect x="355.23" width="5.84" fill="#88226a"/>
<rect x="360.58" width="5.84" fill="#6a176e"/>
<rect x="365.92" width="5.84" fill="#440a68"/>
<rect x="371.26" width="5.84" fill="#1f0c48"/>
<rect x="376.61" width="5.84" fill="#0a0722"/>
<rect x="381.95" width="5.84" fill="#040314"/>
<rect x="387.30" width="5.84" fill="#02020e"/>
<rect x="392.64" width="5.84" fill="#02020c"/>
<rect x="397.98" width="5.84" fill="#02020c"/>
<rect x="403.33" width="5.84" fill="#02010a"/>
<rect x="408.67" width="5.84" fill="#320a5e"/>
<rect x="414.02" width="5.84" fill="#380962"/>
<rect x="419.36" width="5.84" fill="#440a68"/>
<rect x="424.70" width="5.84" fill="#6f196e"/>
<rect x="430.05" width="5.84" fill="#a02a63"/>
<rect x="435.39" width="5.84" fill="#ca404a"/>
<rect x="440.74" width="5.84" fill="#f37819"/>
<rect x="446.08" width="5.84" fill="#fcb014"/>
<rect x="451.42" width="5.84" fill="#fb9d07"/>
<rect x="456.77" width="5.84" fill="#e35933"/>
<rect x="462.11" width="5.84" fill="#8f2469"/>
<rect x="467.46" width="8.84" fill="#440a68"/>
</g>
<g transform="translate(0 197.80)" style="--h:7.25px">
<rect x="69.00" width="8.84" fill="#2d0b59"/>
<rect x="77.34" width="5.84" fill="#2b0b57"/>
<rect x="82.69" width="5.84" fill="#2d0b59"/>
<rect x="88.03" width="5.84" fill="#2d0b59"/>
<rect x="93.38" width="5.84" fill="#2d0b59"/>
<rect x="98.72" width="5.84" fill="#2d0b59"/>
<rect x="104.06" width="5.84" fill="#2d0b59"/>
<rect x="109.41" width="5.84" fill="#280b53"/>
<rect x="114.75" width="5.84" fill="#280b53"/>
<rect x="120.10" width="5.84" fill="#230c4c"/>
<rect x="125.44" width="5.84" fill="#1e0c45"/>
<rect x="130.78" width="5.84" fill="#180c3c"/>
<rect x="136.13" width="5.84" fill="#160b39"/>
<rect x="141.47" width="5.84" fill="#150b37"/>
<rect x="146.82" width="5.84" fill="#150b37"/>
<rect x="152.16" width="5.84" fill="#150b37"/>
<rect x="157.50" width="5.84" fill="#150b37"/>
<rect x="162.85" width="5.84" fill="#1c0c43"/>
<rect x="168.19" width="5.84" fill="#280b53"/>
<rect x="173.54" width="5.84" fill="#320a5e"/>
<rect x="178.88" width="5.84" fill="#3b0964"/>
<rect x="184.22" width="5.84" fill="#3e0966"/>
<rect x="189.57" width="5.84" fill="#3d0965"/>
<rect x="194.91" width="5.84" fill="#3e0966"/>
<rect x="200.26" width="5.84" fill="#3b0964"/>
<rect x="205.60" width="5.84" fill="#3e0966"/>
<rect x="210.94" width="5.84" fill="#3e0966"/>
<rect x="216.29" width="5.84" fill="#3e0966"/>
<rect x="221.63" width="5.84" fill="#3d0965"/>
<rect x="226.98" width="5.84" fill="#3b0964"/>
<rect x="232.32" width="5.84" fill="#4c0c6b"/>
<rect x="237.66" width="5.84" fill="#65156e"/>
<rect x="243.01" width="5.84" fill="#82206c"/>
<rect x="248.35" width="5.84" fill="#8f2469"/>
<rect x="253.70" width="5.84" fill="#9d2964"/>
<rect x="259.04" width="5.84" fill="#b3325a"/>
<rect x="264.38" width="5.84" fill="#bf3952"/>
<rect x="269.73" width="5.84" fill="#cb4149"/>
<rect x="275.07" width="5.84" fill="#cf4446"/>
<rect x="280.42" width="5.84" fill="#cc4248"/>
<rect x="285.76" width="5.84" fill="#cc4248"/>
<rect x="291.10" width="5.84" fill="#cf4446"/>
<rect x="296.45" width="5.84" fill="#c63d4d"/>
<rect x="301.79" width="5.84" fill="#c03a51"/>
<rect x="307.14" width="5.84" fill="#ba3655"/>
<rect x="312.48" width="5.84" fill="#bd3853"/>
<rect x="317.82" width="5.84" fill="#ba3655"/>
<rect x="323.17" width="5.84" fill="#b93556"/>
<rect x="328.51" width="5.84" fill="#ba3655"/>
<rect x="333.86" width="5.84" fill="#b63458"/>
<rect x="339.20" width="5.84" fill="#b43359"/>
<rect x="344.54" width="5.84" fill="#b3325a"/>
<rect x="349.89" width="5.84" fill="#ab2f5e"/>
<rect x="355.23" width="5.84" fill="#902568"/>
<rect x="360.58" width="5.84" fill="#741a6e"/>
<rect x="365.92" width="5.84" fill="#4f0d6c"/>
<rect x="371.26" width="5.84" fill="#260c51"/>
<rect x="376.61" width="5.84" fill="#0e092b"/>
<rect x="381.95" width="5.84" fill="#050417"/>
<rect x="387.30" width="5.84" fill="#02020e"/>
<rect x="392.64" width="5.84" fill="#02020c"/>
<rect x="397.98" width="5.84" fill="#02020c"/>
<rect x="403.33" width="5.84" fill="#02010a"/>
<rect x="408.67" width="5.84" fill="#340a5f"/>
<rect x="414.02" width="5.84" fill="#3b0964"/>
<rect x="419.36" width="5.84" fill="#450a69"/>
<rect x="424.70" width="5.84" fill="#751b6e"/>
<rect x="430.05" width="5.84" fill="#a32c61"/>
<rect x="435.39" width="5.84" fill="#d34743"/>
<rect x="440.74" width="5.84" fill="#f8870e"/>
<rect x="446.08" width="5.84" fill="#fbbc21"/>
<rect x="451.42" width="5.84" fill="#fa9008"/>
<rect x="456.77" width="5.84" fill="#d74b3f"/>
<rect x="462.11" width="5.84" fill="#932667"/>
<rect x="467.46" width="8.84" fill="#3e0966"/>
</g>
<g transform="translate(0 204.55)" style="--h:7.25px">
<rect x="69.00" width="8.84" fill="#2b0b57"/>
<rect x="77.34" width="5.84" fill="#2d0b59"/>
<rect x="82.69" width="5.84" fill="#2f0a5b"/>
<rect x="88.03" width="5.84" fill="#2b0b57"/>
<rect x="93.38" width="5.84" fill="#2b0b57"/>
<rect x="98.72" width="5.84" fill="#2f0a5b"/>
<rect x="104.06" width="5.84" fill="#310a5c"/>
<rect x="109.41" width="5.84" fill="#2d0b59"/>
<rect x="114.75" width="5.84" fill="#2b0b57"/>
<rect x="120.10" width="5.84" fill="#260c51"/>
<rect x="125.44" width="5.84" fill="#1f0c48"/>
<rect x="130.78" width="5.84" fill="#180c3c"/>
<rect x="136.13" width="5.84" fill="#160b39"/>
<rect x="141.47" width="5.84" fill="#160b39"/>
<rect x="146.82" width="5.84" fill="#160b39"/>
<rect x="152.16" width="5.84" fill="#150b37"/>
<rect x="157.50" width="5.84" fill="#150b37"/>
<rect x="162.85" width="5.84" fill="#1b0c41"/>
<rect x="168.19" width="5.84" fill="#280b53"/>
<rect x="173.54" width="5.84" fill="#310a5c"/>
<rect x="178.88" width="5.84" fill="#3b0964"/>
<rect x="184.22" width="5.84" fill="#3e0966"/>
<rect x="189.57" width="5.84" fill="#3d0965"/>
<rect x="194.91" width="5.84" fill="#400a67"/>
<rect x="200.26" width="5.84" fill="#3e0966"/>
<rect x="205.60" width="5.84" fill="#3e0966"/>
<rect x="210.94" width="5.84" fill="#3e0966"/>
<rect x="216.29" width="5.84" fill="#400a67"/>
<rect x="221.63" width="5.84" fill="#400a67"/>
<rect x="226.98" width="5.84" fill="#420a68"/>
<rect x="232.32" width="5.84" fill="#540f6d"/>
<rect x="237.66" width="5.84" fill="#69166e"/>
<rect x="243.01" width="5.84" fill="#7c1d6d"/>
<rect x="248.35" width="5.84" fill="#922568"/>
<rect x="253.70" width="5.84" fill="#a52c60"/>
<rect x="259.04" width="5.84" fill="#b63458"/>
<rect x="264.38" width="5.84" fill="#c33b4f"/>
<rect x="269.73" width="5.84" fill="#cf4446"/>
<rect x="275.07" width="5.84" fill="#d44842"/>
<rect x="280.42" width="5.84" fill="#cb4149"/>
<rect x="285.76" width="5.84" fill="#d34743"/>
<rect x="291.10" width="5.84" fill="#d04545"/>
<rect x="296.45" width="5.84" fill="#c73e4c"/>
<rect x="301.79" width="5.84" fill="#bf3952"/>
<rect x="307.14" width="5.84" fill="#bf3952"/>
<rect x="312.48" width="5.84" fill="#bf3952"/>
<rect x="317.82" width="5.84" fill="#b93556"/>
<rect x="323.17" width="5.84" fill="#bc3754"/>
<rect x="328.51" width="5.84" fill="#b93556"/>
<rect x="333.86" width="5.84" fill="#ba3655"/>
<rect x="339.20" width="5.84" fill="#b73557"/>
<rect x="344.54" width="5.84" fill="#b3325a"/>
<rect x="349.89" width="5.84" fill="#ab2f5e"/>
<rect x="355.23" width="5.84" fill="#922568"/>
<rect x="360.58" width="5.84" fill="#721a6e"/>
<rect x="365.92" width="5.84" fill="#4f0d6c"/>
<rect x="371.26" width="5.84" fill="#280b53"/>
<rect x="376.61" width="5.84" fill="#0d0829"/>
<rect x="381.95" width="5.84" fill="#050417"/>
<rect x="387.30" width="5.84" fill="#02020e"/>
<rect x="392.64" width="5.84" fill="#02020c"/>
<rect x="397.98" width="5.84" fill="#02020c"/>
<rect x="403.33" width="5.84" fill="#02010a"/>
<rect x="408.67" width="5.84" fill="#340a5f"/>
<rect x="414.02" width="5.84" fill="#3b0964"/>
<rect x="419.36" width="5.84" fill="#450a69"/>
<rect x="424.70" width="5.84" fill="#741a6e"/>
<rect x="430.05" width="5.84" fill="#9f2a63"/>
<rect x="435.39" width="5.84" fill="#d04545"/>
<rect x="440.74" width="5.84" fill="#fa9407"/>
<rect x="446.08" width="5.84" fill="#f9c72f"/>
<rect x="451.42" width="5.84" fill="#fb9706"/>
<rect x="456.77" width="5.84" fill="#d24644"/>
<rect x="462.11" width="5.84" fill="#972766"/>
<rect x="467.46" width="8.84" fill="#4d0d6c"/>
</g>
<g transform="translate(0 211.30)" style="--h:7.25px">
<rect x="69.00" width="8.84" fill="#2f0a5b"/>
<rect x="77.34" width="5.84" fill="#310a5c"/>
<rect x="82.69" width="5.84" fill="#2f0a5b"/>
<rect x="88.03" width="5.84" fill="#310a5c"/>
<rect x="93.38" width="5.84" fill="#2d0b59"/>
<rect x="98.72" width="5.84" fill="#310a5c"/>
<rect x="104.06" width="5.84" fill="#320a5e"/>
<rect x="109.41" width="5.84" fill="#2d0b59"/>
<rect x="114.75" width="5.84" fill="#2b0b57"/>
<rect x="120.10" width="5.84" fill="#260c51"/>
<rect x="125.44" width="5.84" fill="#1f0c48"/>
<rect x="130.78" width="5.84" fill="#190c3e"/>
<rect x="136.13" width="5.84" fill="#150b37"/>
<rect x="141.47" width="5.84" fill="#160b39"/>
<rect x="146.82" width="5.84" fill="#150b37"/>
<rect x="152.16" width="5.84" fill="#150b37"/>
<rect x="157.50" width="5.84" fill="#150b37"/>
<rect x="162.85" width="5.84" fill="#1c0c43"/>
<rect x="168.19" width="5.84" fill="#290b55"/>
<rect x="173.54" width="5.84" fill="#360961"/>
<rect x="178.88" width="5.84" fill="#3d0965"/>
<rect x="184.22" width="5.84" fill="#420a68"/>
<rect x="189.57" width="5.84" fill="#3e0966"/>
<rect x="194.91" width="5.84" fill="#3e0966"/>
<rect x="200.26" width="5.84" fill="#400a67"/>
<rect x="205.60" width="5.84" fill="#400a67"/>
<rect x="210.94" width="5.84" fill="#400a67"/>
<rect x="216.29" width="5.84" fill="#3e0966"/>
<rect x="221.63" width="5.84" fill="#400a67"/>
<rect x="226.98" width="5.84" fill="#420a68"/>
<rect x="232.32" width="5.84" fill="#550f6d"/>
<rect x="237.66" width="5.84" fill="#6a176e"/>
<rect x="243.01" width="5.84" fill="#801f6c"/>
<rect x="248.35" width="5.84" fill="#932667"/>
<rect x="253.70" width="5.84" fill="#a32c61"/>
<rect x="259.04" width="5.84" fill="#b73557"/>
<rect x="264.38" width="5.84" fill="#c73e4c"/>
<rect x="269.73" width="5.84" fill="#d04545"/>
<rect x="275.07" width="5.84" fill="#d54a41"/>
<rect x="280.42" width="5.84" fill="#d24644"/>
<rect x="285.76" width="5.84" fill="#d24644"/>
<rect x="291.10" width="5.84" fill="#ce4347"/>
<rect x="296.45" width="5.84" fill="#ca404a"/>
<rect x="301.79" width="5.84" fill="#c03a51"/>
<rect x="307.14" width="5.84" fill="#bd3853"/>
<rect x="312.48" width="5.84" fill="#bd3853"/>
<rect x="317.82" width="5.84" fill="#bf3952"/>
<rect x="323.17" width="5.84" fill="#b73557"/>
<rect x="328.51" width="5.84" fill="#b73557"/>
<rect x="333.86" width="5.84" fill="#bc3754"/>
<rect x="339.20" width="5.84" fill="#b73557"/>
<rect x="344.54" width="5.84" fill="#b43359"/>
<rect x="349.89" width="5.84" fill="#a82e5f"/>
<rect x="355.23" width="5.84" fill="#952667"/>
<rect x="360.58" width="5.84" fill="#771c6d"/>
<rect x="365.92" width="5.84" fill="#520e6d"/>
<rect x="371.26" width="5.84" fill="#280b53"/>
<rect x="376.61" width="5.84" fill="#0e092b"/>
<rect x="381.95" width="5.84" fill="#050417"/>
<rect x="387.30" width="5.84" fill="#02020e"/>
<rect x="392.64" width="5.84" fill="#02020c"/>
<rect x="397.98" width="5.84" fill="#02020c"/>
<rect x="403.33" width="5.84" fill="#02010a"/>
<rect x="408.67" width="5.84" fill="#360961"/>
<rect x="414.02" width="5.84" fill="#3b0964"/>
<rect x="419.36" width="5.84" fill="#450a69"/>
<rect x="424.70" width="5.84" fill="#721a6e"/>
<rect x="430.05" width="5.84" fill="#a62d60"/>
<rect x="435.39" width="5.84" fill="#d74b3f"/>
<rect x="440.74" width="5.84" fill="#f98e09"/>
<rect x="446.08" width="5.84" fill="#fac026"/>
<rect x="451.42" width="5.84" fill="#fb9b06"/>
<rect x="456.77" width="5.84" fill="#eb6628"/>
<rect x="462.11" width="5.84" fill="#972766"/>
<rect x="467.46" width="8.84" fill="#3e0966"/>
</g>
<g transform="translate(0 218.05)" style="--h:7.25px">
<rect x="69.00" width="8.84" fill="#2d0b59"/>
<rect x="77.34" width="5.84" fill="#2d0b59"/>
<rect x="82.69" width="5.84" fill="#2d0b59"/>
<rect x="88.03" width="5.84" fill="#2f0a5b"/>
<rect x="93.38" width="5.84" fill="#2f0a5b"/>
<rect x="98.72" width="5.84" fill="#310a5c"/>
<rect x="104.06" width="5.84" fill="#2d0b59"/>
<rect x="109.41" width="5.84" fill="#2d0b59"/>
<rect x="114.75" width="5.84" fill="#280b53"/>
<rect x="120.10" width="5.84" fill="#260c51"/>
<rect x="125.44" width="5.84" fill="#1f0c48"/>
<rect x="130.78" width="5.84" fill="#180c3c"/>
<rect x="136.13" width="5.84" fill="#160b39"/>
<rect x="141.47" width="5.84" fill="#150b37"/>
<rect x="146.82" width="5.84" fill="#150b37"/>
<rect x="152.16" width="5.84" fill="#160b39"/>
<rect x="157.50" width="5.84" fill="#150b37"/>
<rect x="162.85" width="5.84" fill="#1c0c43"/>
<rect x="168.19" width="5.84" fill="#290b55"/>
<rect x="173.54" width="5.84" fill="#360961"/>
<rect x="178.88" width="5.84" fill="#3b0964"/>
<rect x="184.22" width="5.84" fill="#390963"/>
<rect x="189.57" width="5.84" fill="#3b0964"/>
<rect x="194.91" width="5.84" fill="#3e0966"/>
<rect x="200.26" width="5.84" fill="#390963"/>
<rect x="205.60" width="5.84" fill="#3b0964"/>
<rect x="210.94" width="5.84" fill="#3d0965"/>
<rect x="216.29" width="5.84" fill="#400a67"/>
<rect x="221.63" width="5.84" fill="#400a67"/>
<rect x="226.98" width="5.84" fill="#3e0966"/>
<rect x="232.32" width="5.84" fill="#520e6d"/>
<rect x="237.66" width="5.84" fill="#67166e"/>
<rect x="243.01" width="5.84" fill="#801f6c"/>
<rect x="248.35" width="5.84" fill="#922568"/>
<rect x="253.70" width="5.84" fill="#a02a63"/>
<rect x="259.04" width="5.84" fill="#b43359"/>
<rect x="264.38" width="5.84" fill="#c03a51"/>
<rect x="269.73" width="5.84" fill="#cc4248"/>
<rect x="275.07" width="5.84" fill="#d24644"/>
<rect x="280.42" width="5.84" fill="#d04545"/>
<rect x="285.76" width="5.84" fill="#d04545"/>
<rect x="291.10" width="5.84" fill="#ce4347"/>
<rect x="296.45" width="5.84" fill="#c73e4c"/>
<rect x="301.79" width="5.84" fill="#bf3952"/>
<rect x="307.14" width="5.84" fill="#bd3853"/>
<rect x="312.48" width="5.84" fill="#bf3952"/>
<rect x="317.82" width="5.84" fill="#bd3853"/>
<rect x="323.17" width="5.84" fill="#bc3754"/>
<rect x="328.51" width="5.84" fill="#ba3655"/>
<rect x="333.86" width="5.84" fill="#b63458"/>
<rect x="339.20" width="5.84" fill="#b63458"/>
<rect x="344.54" width="5.84" fill="#b3325a"/>
<rect x="349.89" width="5.84" fill="#a62d60"/>
<rect x="355.23" width="5.84" fill="#8d2369"/>
<rect x="360.58" width="5.84" fill="#751b6e"/>
<rect x="365.92" width="5.84" fill="#4d0d6c"/>
<rect x="371.26" width="5.84" fill="#240c4f"/>
<rect x="376.61" width="5.84" fill="#0e092b"/>
<rect x="381.95" width="5.84" fill="#050417"/>
<rect x="387.30" width="5.84" fill="#02020e"/>
<rect x="392.64" width="5.84" fill="#02020c"/>
<rect x="397.98" width="5.84" fill="#02020c"/>
<rect x="403.33" width="5.84" fill="#02010a"/>
<rect x="408.67" width="5.84" fill="#340a5f"/>
<rect x="414.02" width="5.84" fill="#3b0964"/>
<rect x="419.36" width="5.84" fill="#470b6a"/>
<rect x="424.70" width="5.84" fill="#751b6e"/>
<rect x="430.05" width="5.84" fill="#a02a63"/>
<rect x="435.39" width="5.84" fill="#d34743"/>
<rect x="440.74" width="5.84" fill="#eb6429"/>
<rect x="446.08" width="5.84" fill="#fbbe23"/>
<rect x="451.42" width="5.84" fill="#fca309"/>
<rect x="456.77" width="5.84" fill="#e9612b"/>
<rect x="462.11" width="5.84" fill="#ad305d"/>
<rect x="467.46" width="8.84" fill="#3b0964"/>
</g>
<g transform="translate(0 224.80)" style="--h:7.25px">
<rect x="69.00" width="8.84" fill="#2d0b59"/>
<rect x="77.34" width="5.84" fill="#2b0b57"/>
<rect x="82.69" width="5.84" fill="#2d0b59"/>
<rect x="88.03" width="5.84" fill="#2d0b59"/>
<rect x="93.38" width="5.84" fill="#2f0a5b"/>
<rect x="98.72" width="5.84" fill="#2f0a5b"/>
<rect x="104.06" width="5.84" fill="#310a5c"/>
<rect x="109.41" width="5.84" fill="#2f0a5b"/>
<rect x="114.75" width="5.84" fill="#2b0b57"/>
<rect x="120.10" width="5.84" fill="#240c4f"/>
<rect x="125.44" width="5.84" fill="#1f0c48"/>
<rect x="130.78" width="5.84" fill="#180c3c"/>
<rect x="136.13" width="5.84" fill="#160b39"/>
<rect x="141.47" width="5.84" fill="#150b37"/>
<rect x="146.82" width="5.84" fill="#150b37"/>
<rect x="152.16" width="5.84" fill="#140b34"/>
<rect x="157.50" width="5.84" fill="#150b37"/>
<rect x="162.85" width="5.84" fill="#1e0c45"/>
<rect x="168.19" width="5.84" fill="#290b55"/>
<rect x="173.54" width="5.84" fill="#340a5f"/>
<rect x="178.88" width="5.84" fill="#3d0965"/>
<rect x="184.22" width="5.84" fill="#3e0966"/>
<rect x="189.57" width="5.84" fill="#3e0966"/>
<rect x="194.91" width="5.84" fill="#3d0965"/>
<rect x="200.26" width="5.84" fill="#3d0965"/>
<rect x="205.60" width="5.84" fill="#3e0966"/>
<rect x="210.94" width="5.84" fill="#3d0965"/>
<rect x="216.29" width="5.84" fill="#400a67"/>
<rect x="221.63" width="5.84" fill="#440a68"/>
<rect x="226.98" width="5.84" fill="#420a68"/>
<rect x="232.32" width="5.84" fill="#510e6c"/>
<rect x="237.66" width="5.84" fill="#65156e"/>
<rect x="243.01" width="5.84" fill="#7c1d6d"/>
<rect x="248.35" width="5.84" fill="#922568"/>
<rect x="253.70" width="5.84" fill="#a32c61"/>
<rect x="259.04" width="5.84" fill="#b63458"/>
<rect x="264.38" width="5.84" fill="#c33b4f"/>
<rect x="269.73" width="5.84" fill="#ca404a"/>
<rect x="275.07" width="5.84" fill="#ce4347"/>
<rect x="280.42" width="5.84" fill="#d34743"/>
<rect x="285.76" width="5.84" fill="#ce4347"/>
<rect x="291.10" width="5.84" fill="#d34743"/>
<rect x="296.45" width="5.84" fill="#c13a50"/>
<rect x="301.79" width="5.84" fill="#bd3853"/>
<rect x="307.14" width="5.84" fill="#bc3754"/>
<rect x="312.48" width="5.84" fill="#bd3853"/>
<rect x="317.82" width="5.84" fill="#bd3853"/>
<rect x="323.17" width="5.84" fill="#b93556"/>
<rect x="328.51" width="5.84" fill="#ba3655"/>
<rect x="333.86" width="5.84" fill="#b43359"/>
<rect x="339.20" width="5.84" fill="#b43359"/>
<rect x="344.54" width="5.84" fill="#b0315b"/>
<rect x="349.89" width="5.84" fill="#a92e5e"/>
<rect x="355.23" width="5.84" fill="#8f2469"/>
<rect x="360.58" width="5.84" fill="#721a6e"/>
<rect x="365.92" width="5.84" fill="#550f6d"/>
<rect x="371.26" width="5.84" fill="#260c51"/>
<rect x="376.61" width="5.84" fill="#0e092b"/>
<rect x="381.95" width="5.84" fill="#050417"/>
<rect x="387.30" width="5.84" fill="#02020e"/>
<rect x="392.64" width="5.84" fill="#02020c"/>
<rect x="397.98" width="5.84" fill="#02020c"/>
<rect x="403.33" width="5.84" fill="#02010a"/>
<rect x="408.67" width="5.84" fill="#340a5f"/>
<rect x="414.02" width="5.84" fill="#3d0965"/>
<rect x="419.36" width="5.84" fill="#470b6a"/>
<rect x="424.70" width="5.84" fill="#751b6e"/>
<rect x="430.05" width="5.84" fill="#a22b62"/>
<rect x="435.39" width="5.84" fill="#cf4446"/>
<rect x="440.74" width="5.84" fill="#eb6628"/>
<rect x="446.08" width="5.84" fill="#fcae12"/>
<rect x="451.42" width="5.84" fill="#fca50a"/>
<rect x="456.77" width="5.84" fill="#eb6429"/>
<rect x="462.11" width="5.84" fill="#972766"/>
<rect x="467.46" width="8.84" fill="#390963"/>
</g>
<g transform="translate(0 231.55)" style="--h:7.25px">
<rect x="69.00" width="8.84" fill="#2d0b59"/>
<rect x="77.34" width="5.84" fill="#2b0b57"/>
<rect x="82.69" width="5.84" fill="#2d0b59"/>
<rect x="88.03" width="5.84" fill="#2d0b59"/>
<rect x="93.38" width="5.84" fill="#2d0b59"/>
<rect x="98.72" width="5.84" fill="#2b0b57"/>
<rect x="104.06" width="5.84" fill="#2f0a5b"/>
<rect x="109.41" width="5.84" fill="#2b0b57"/>
<rect x="114.75" width="5.84" fill="#280b53"/>
<rect x="120.10" width="5.84" fill="#240c4f"/>
<rect x="125.44" width="5.84" fill="#1c0c43"/>
<rect x="130.78" width="5.84" fill="#180c3c"/>
<rect x="136.13" width="5.84" fill="#150b37"/>
<rect x="141.47" width="5.84" fill="#160b39"/>
<rect x="146.82" width="5.84" fill="#140b34"/>
<rect x="152.16" width="5.84" fill="#150b37"/>
<rect x="157.50" width="5.84" fill="#150b37"/>
<rect x="162.85" width="5.84" fill="#1c0c43"/>
<rect x="168.19" width="5.84" fill="#260c51"/>
<rect x="173.54" width="5.84" fill="#310a5c"/>
<rect x="178.88" width="5.84" fill="#3d0965"/>
<rect x="184.22" width="5.84" fill="#390963"/>
<rect x="189.57" width="5.84" fill="#3b0964"/>
<rect x="194.91" width="5.84" fill="#3b0964"/>
<rect x="200.26" width="5.84" fill="#3d0965"/>
<rect x="205.60" width="5.84" fill="#390963"/>
<rect x="210.94" width="5.84" fill="#3b0964"/>
<rect x="216.29" width="5.84" fill="#3d0965"/>
<rect x="221.63" width="5.84" fill="#3e0966"/>
<rect x="226.98" width="5.84" fill="#400a67"/>
<rect x="232.32" width="5.84" fill="#4f0d6c"/>
<rect x="237.66" width="5.84" fill="#65156e"/>
<rect x="243.01" width="5.84" fill="#7c1d6d"/>
<rect x="248.35" width="5.84" fill="#902568"/>
<rect x="253.70" width="5.84" fill="#9d2964"/>
<rect x="259.04" width="5.84" fill="#b1325a"/>
<rect x="264.38" width="5.84" fill="#bc3754"/>
<rect x="269.73" width="5.84" fill="#c73e4c"/>
<rect x="275.07" width="5.84" fill="#d04545"/>
<rect x="280.42" width="5.84" fill="#ce4347"/>
<rect x="285.76" width="5.84" fill="#c83f4b"/>
<rect x="291.10" width="5.84" fill="#cb4149"/>
<rect x="296.45" width="5.84" fill="#c33b4f"/>
<rect x="301.79" width="5.84" fill="#ba3655"/>
<rect x="307.14" width="5.84" fill="#bc3754"/>
<rect x="312.48" width="5.84" fill="#b93556"/>
<rect x="317.82" width="5.84" fill="#b93556"/>
<rect x="323.17" width="5.84" fill="#b93556"/>
<rect x="328.51" width="5.84" fill="#b43359"/>
<rect x="333.86" width="5.84" fill="#b73557"/>
<rect x="339.20" width="5.84" fill="#b3325a"/>
<rect x="344.54" width="5.84" fill="#ae305c"/>
<rect x="349.89" width="5.84" fill="#ab2f5e"/>
<rect x="355.23" width="5.84" fill="#8d2369"/>
<rect x="360.58" width="5.84" fill="#6d186e"/>
<rect x="365.92" width="5.84" fill="#4c0c6b"/>
<rect x="371.26" width="5.84" fill="#260c51"/>
<rect x="376.61" width="5.84" fill="#0d0829"/>
<rect x="381.95" width="5.84" fill="#050417"/>
<rect x="387.30" width="5.84" fill="#02020e"/>
<rect x="392.64" width="5.84" fill="#02020c"/>
<rect x="397.98" width="5.84" fill="#02020c"/>
<rect x="403.33" width="5.84" fill="#02010a"/>
<rect x="408.67" width="5.84" fill="#320a5e"/>
<rect x="414.02" width="5.84" fill="#3b0964"/>
<rect x="419.36" width="5.84" fill="#420a68"/>
<rect x="424.70" width="5.84" fill="#721a6e"/>
<rect x="430.05" width="5.84" fill="#982766"/>
<rect x="435.39" width="5.84" fill="#d04545"/>
<rect x="440.74" width="5.84" fill="#f67e14"/>
<rect x="446.08" width="5.84" fill="#f8cd37"/>
<rect x="451.42" width="5.84" fill="#fb9d07"/>
<rect x="456.77" width="5.84" fill="#dd513a"/>
<rect x="462.11" width="5.84" fill="#972766"/>
<rect x="467.46" width="8.84" fill="#3d0965"/>
</g>
<g transform="translate(0 238.30)" style="--h:7.25px">
<rect x="69.00" width="8.84" fill="#290b55"/>
<rect x="77.34" width="5.84" fill="#2f0a5b"/>
<rect x="82.69" width="5.84" fill="#2d0b59"/>
<rect x="88.03" width="5.84" fill="#2b0b57"/>
<rect x="93.38" width="5.84" fill="#2d0b59"/>
<rect x="98.72" width="5.84" fill="#2d0b59"/>
<rect x="104.06" width="5.84" fill="#2f0a5b"/>
<rect x="109.41" width="5.84" fill="#2d0b59"/>
<rect x="114.75" width="5.84" fill="#280b53"/>
<rect x="120.10" width="5.84" fill="#230c4c"/>
<rect x="125.44" width="5.84" fill="#1e0c45"/>
<rect x="130.78" width="5.84" fill="#190c3e"/>
<rect x="136.13" width="5.84" fill="#150b37"/>
<rect x="141.47" width="5.84" fill="#140b34"/>
<rect x="146.82" width="5.84" fill="#140b34"/>
<rect x="152.16" width="5.84" fill="#150b37"/>
<rect x="157.50" width="5.84" fill="#150b37"/>
<rect x="162.85" width="5.84" fill="#1b0c41"/>
<rect x="168.19" width="5.84" fill="#280b53"/>
<rect x="173.54" width="5.84" fill="#310a5c"/>
<rect x="178.88" width="5.84" fill="#390963"/>
<rect x="184.22" width="5.84" fill="#380962"/>
<rect x="189.57" width="5.84" fill="#3d0965"/>
<rect x="194.91" width="5.84" fill="#3d0965"/>
<rect x="200.26" width="5.84" fill="#3e0966"/>
<rect x="205.60" width="5.84" fill="#3b0964"/>
<rect x="210.94" width="5.84" fill="#3e0966"/>
<rect x="216.29" width="5.84" fill="#3e0966"/>
<rect x="221.63" width="5.84" fill="#3e0966"/>
<rect x="226.98" width="5.84" fill="#3e0966"/>
<rect x="232.32" width="5.84" fill="#4d0d6c"/>
<rect x="237.66" width="5.84" fill="#64156e"/>
<rect x="243.01" width="5.84" fill="#771c6d"/>
<rect x="248.35" width="5.84" fill="#8c2369"/>
<rect x="253.70" width="5.84" fill="#9f2a63"/>
<rect x="259.04" width="5.84" fill="#ae305c"/>
<rect x="264.38" width="5.84" fill="#bf3952"/>
<rect x="269.73" width="5.84" fill="#cc4248"/>
<rect x="275.07" width="5.84" fill="#ce4347"/>
<rect x="280.42" width="5.84" fill="#cc4248"/>
<rect x="285.76" width="5.84" fill="#cb4149"/>
<rect x="291.10" width="5.84" fill="#cc4248"/>
<rect x="296.45" width="5.84" fill="#c73e4c"/>
<rect x="301.79" width="5.84" fill="#bd3853"/>
<rect x="307.14" width="5.84" fill="#bc3754"/>
<rect x="312.48" width="5.84" fill="#b73557"/>
<rect x="317.82" width="5.84" fill="#b93556"/>
<rect x="323.17" width="5.84" fill="#b93556"/>
<rect x="328.51" width="5.84" fill="#b43359"/>
<rect x="333.86" width="5.84" fill="#b43359"/>
<rect x="339.20" width="5.84" fill="#b1325a"/>
<rect x="344.54" width="5.84" fill="#b1325a"/>
<rect x="349.89" width="5.84" fill="#ab2f5e"/>
<rect x="355.23" width="5.84" fill="#8d2369"/>
<rect x="360.58" width="5.84" fill="#71196e"/>
<rect x="365.92" width="5.84" fill="#4c0c6b"/>
<rect x="371.26" width="5.84" fill="#260c51"/>
<rect x="376.61" width="5.84" fill="#0d0829"/>
<rect x="381.95" width="5.84" fill="#050417"/>
<rect x="387.30" width="5.84" fill="#02020e"/>
<rect x="392.64" width="5.84" fill="#02020c"/>
<rect x="397.98" width="5.84" fill="#02020c"/>
<rect x="403.33" width="5.84" fill="#02010a"/>
<rect x="408.67" width="5.84" fill="#360961"/>
<rect x="414.02" width="5.84" fill="#390963"/>
<rect x="419.36" width="5.84" fill="#440a68"/>
<rect x="424.70" width="5.84" fill="#721a6e"/>
<rect x="430.05" width="5.84" fill="#9b2964"/>
<rect x="435.39" width="5.84" fill="#d34743"/>
<rect x="440.74" width="5.84" fill="#f67e14"/>
<rect x="446.08" width="5.84" fill="#fca80d"/>
<rect x="451.42" width="5.84" fill="#fbb61a"/>
<rect x="456.77" width="5.84" fill="#e8602d"/>
<rect x="462.11" width="5.84" fill="#6f196e"/>
<rect x="467.46" width="8.84" fill="#2d0b59"/>
</g>
<g transform="translate(0 245.05)" style="--h:7.25px">
<rect x="69.00" width="8.84" fill="#2b0b57"/>
<rect x="77.34" width="5.84" fill="#2d0b59"/>
<rect x="82.69" width="5.84" fill="#2b0b57"/>
<rect x="88.03" width="5.84" fill="#2b0b57"/>
<rect x="93.38" width="5.84" fill="#2d0b59"/>
<rect x="98.72" width="5.84" fill="#2d0b59"/>
<rect x="104.06" width="5.84" fill="#2d0b59"/>
<rect x="109.41" width="5.84" fill="#290b55"/>
<rect x="114.75" width="5.84" fill="#290b55"/>
<rect x="120.10" width="5.84" fill="#260c51"/>
<rect x="125.44" width="5.84" fill="#1c0c43"/>
<rect x="130.78" width="5.84" fill="#160b39"/>
<rect x="136.13" width="5.84" fill="#140b34"/>
<rect x="141.47" width="5.84" fill="#150b37"/>
<rect x="146.82" width="5.84" fill="#140b34"/>
<rect x="152.16" width="5.84" fill="#150b37"/>
<rect x="157.50" width="5.84" fill="#140b34"/>
<rect x="162.85" width="5.84" fill="#1b0c41"/>
<rect x="168.19" width="5.84" fill="#280b53"/>
<rect x="173.54" width="5.84" fill="#340a5f"/>
<rect x="178.88" width="5.84" fill="#390963"/>
<rect x="184.22" width="5.84" fill="#390963"/>
<rect x="189.57" width="5.84" fill="#3b0964"/>
<rect x="194.91" width="5.84" fill="#3b0964"/>
<rect x="200.26" width="5.84" fill="#3d0965"/>
<rect x="205.60" width="5.84" fill="#3d0965"/>
<rect x="210.94" width="5.84" fill="#3b0964"/>
<rect x="216.29" width="5.84" fill="#3d0965"/>
<rect x="221.63" width="5.84" fill="#390963"/>
<rect x="226.98" width="5.84" fill="#3e0966"/>
<rect x="232.32" width="5.84" fill="#510e6c"/>
<rect x="237.66" width="5.84" fill="#65156e"/>
<rect x="243.01" width="5.84" fill="#781c6d"/>
<rect x="248.35" width="5.84" fill="#8a226a"/>
<rect x="253.70" width="5.84" fill="#a32c61"/>
<rect x="259.04" width="5.84" fill="#b0315b"/>
<rect x="264.38" width="5.84" fill="#bf3952"/>
<rect x="269.73" width="5.84" fill="#cb4149"/>
<rect x="275.07" width="5.84" fill="#ce4347"/>
<rect x="280.42" width="5.84" fill="#ce4347"/>
<rect x="285.76" width="5.84" fill="#d04545"/>
<rect x="291.10" width="5.84" fill="#cb4149"/>
<rect x="296.45" width="5.84" fill="#c73e4c"/>
<rect x="301.79" width="5.84" fill="#bd3853"/>
<rect x="307.14" width="5.84" fill="#bc3754"/>
<rect x="312.48" width="5.84" fill="#bc3754"/>
<rect x="317.82" width="5.84" fill="#ba3655"/>
<rect x="323.17" width="5.84" fill="#ba3655"/>
<rect x="328.51" width="5.84" fill="#b73557"/>
<rect x="333.86" width="5.84" fill="#b3325a"/>
<rect x="339.20" width="5.84" fill="#b73557"/>
<rect x="344.54" width="5.84" fill="#b0315b"/>
<rect x="349.89" width="5.84" fill="#a62d60"/>
<rect x="355.23" width="5.84" fill="#8f2469"/>
<rect x="360.58" width="5.84" fill="#71196e"/>
<rect x="365.92" width="5.84" fill="#4c0c6b"/>
<rect x="371.26" width="5.84" fill="#260c51"/>
<rect x="376.61" width="5.84" fill="#0e092b"/>
<rect x="381.95" width="5.84" fill="#050417"/>
<rect x="387.30" width="5.84" fill="#02020e"/>
<rect x="392.64" width="5.84" fill="#02020c"/>
<rect x="397.98" width="5.84" fill="#02020c"/>
<rect x="403.33" width="5.84" fill="#02010a"/>
<rect x="408.67" width="5.84" fill="#340a5f"/>
<rect x="414.02" width="5.84" fill="#380962"/>
<rect x="419.36" width="5.84" fill="#450a69"/>
<rect x="424.70" width="5.84" fill="#741a6e"/>
<rect x="430.05" width="5.84" fill="#9f2a63"/>
<rect x="435.39" width="5.84" fill="#d04545"/>
<rect x="440.74" width="5.84" fill="#f1731d"/>
<rect x="446.08" width="5.84" fill="#fcb216"/>
<rect x="451.42" width="5.84" fill="#fb9b06"/>
<rect x="456.77" width="5.84" fill="#e65d2f"/>
<rect x="462.11" width="5.84" fill="#a22b62"/>
<rect x="467.46" width="8.84" fill="#3d0965"/>
</g>
<g transform="translate(0 251.80)" style="--h:7.25px">
<rect x="69.00" width="8.84" fill="#2b0b57"/>
<rect x="77.34" width="5.84" fill="#290b55"/>
<rect x="82.69" width="5.84" fill="#2d0b59"/>
<rect x="88.03" width="5.84" fill="#2d0b59"/>
<rect x="93.38" width="5.84" fill="#290b55"/>
<rect x="98.72" width="5.84" fill="#2d0b59"/>
<rect x="104.06" width="5.84" fill="#2b0b57"/>
<rect x="109.41" width="5.84" fill="#2d0b59"/>
<rect x="114.75" width="5.84" fill="#280b53"/>
<rect x="120.10" width="5.84" fill="#230c4c"/>
<rect x="125.44" width="5.84" fill="#1e0c45"/>
<rect x="130.78" width="5.84" fill="#160b39"/>
<rect x="136.13" width="5.84" fill="#150b37"/>
<rect x="141.47" width="5.84" fill="#140b34"/>
<rect x="146.82" width="5.84" fill="#150b37"/>
<rect x="152.16" width="5.84" fill="#140b34"/>
<rect x="157.50" width="5.84" fill="#150b37"/>
<rect x="162.85" width="5.84" fill="#1b0c41"/>
<rect x="168.19" width="5.84" fill="#260c51"/>
<rect x="173.54" width="5.84" fill="#310a5c"/>
<rect x="178.88" width="5.84" fill="#3b0964"/>
<rect x="184.22" width="5.84" fill="#3d0965"/>
<rect x="189.57" width="5.84" fill="#3d0965"/>
<rect x="194.91" width="5.84" fill="#3d0965"/>
<rect x="200.26" width="5.84" fill="#3e0966"/>
<rect x="205.60" width="5.84" fill="#3d0965"/>
<rect x="210.94" width="5.84" fill="#3e0966"/>
<rect x="216.29" width="5.84" fill="#3d0965"/>
<rect x="221.63" width="5.84" fill="#3b0964"/>
<rect x="226.98" width="5.84" fill="#3e0966"/>
<rect x="232.32" width="5.84" fill="#4d0d6c"/>
<rect x="237.66" width="5.84" fill="#65156e"/>
<rect x="243.01" width="5.84" fill="#7f1e6c"/>
<rect x="248.35" width="5.84" fill="#8f2469"/>
<rect x="253.70" width="5.84" fill="#a22b62"/>
<rect x="259.04" width="5.84" fill="#b63458"/>
<rect x="264.38" width="5.84" fill="#c33b4f"/>
<rect x="269.73" width="5.84" fill="#ca404a"/>
<rect x="275.07" width="5.84" fill="#cc4248"/>
<rect x="280.42" width="5.84" fill="#d24644"/>
<rect x="285.76" width="5.84" fill="#ca404a"/>
<rect x="291.10" width="5.84" fill="#c83f4b"/>
<rect x="296.45" width="5.84" fill="#bf3952"/>
<rect x="301.79" width="5.84" fill="#bf3952"/>
<rect x="307.14" width="5.84" fill="#b73557"/>
<rect x="312.48" width="5.84" fill="#b93556"/>
<rect x="317.82" width="5.84" fill="#b93556"/>
<rect x="323.17" width="5.84" fill="#ba3655"/>
<rect x="328.51" width="5.84" fill="#b3325a"/>
<rect x="333.86" width="5.84" fill="#b43359"/>
<rect x="339.20" width="5.84" fill="#b3325a"/>
<rect x="344.54" width="5.84" fill="#b3325a"/>
<rect x="349.89" width="5.84" fill="#a62d60"/>
<rect x="355.23" width="5.84" fill="#8d2369"/>
<rect x="360.58" width="5.84" fill="#6d186e"/>
<rect x="365.92" width="5.84" fill="#4d0d6c"/>
<rect x="371.26" width="5.84" fill="#280b53"/>
<rect x="376.61" width="5.84" fill="#0d0829"/>
<rect x="381.95" width="5.84" fill="#050417"/>
<rect x="387.30" width="5.84" fill="#02020e"/>
<rect x="392.64" width="5.84" fill="#02020c"/>
<rect x="397.98" width="5.84" fill="#02020c"/>
<rect x="403.33" width="5.84" fill="#02010a"/>
<rect x="408.67" width="5.84" fill="#360961"/>
<rect x="414.02" width="5.84" fill="#3b0964"/>
<rect x="419.36" width="5.84" fill="#440a68"/>
<rect x="424.70" width="5.84" fill="#71196e"/>
<rect x="430.05" width="5.84" fill="#9f2a63"/>
<rect x="435.39" width="5.84" fill="#d24644"/>
<rect x="440.74" width="5.84" fill="#f8870e"/>
<rect x="446.08" width="5.84" fill="#f7d340"/>
<rect x="451.42" width="5.84" fill="#fcaa0f"/>
<rect x="456.77" width="5.84" fill="#ee6a24"/>
<rect x="462.11" width="5.84" fill="#84206b"/>
<rect x="467.46" width="8.84" fill="#380962"/>
</g>
<g transform="translate(0 258.55)" style="--h:7.25px">
<rect x="69.00" width="8.84" fill="#2f0a5b"/>
<rect x="77.34" width="5.84" fill="#2f0a5b"/>
<rect x="82.69" width="5.84" fill="#2d0b59"/>
<rect x="88.03" width="5.84" fill="#2f0a5b"/>
<rect x="93.38" width="5.84" fill="#2d0b59"/>
<rect x="98.72" width="5.84" fill="#2f0a5b"/>
<rect x="104.06" width="5.84" fill="#310a5c"/>
<rect x="109.41" width="5.84" fill="#2d0b59"/>
<rect x="114.75" width="5.84" fill="#280b53"/>
<rect x="120.10" width="5.84" fill="#280b53"/>
<rect x="125.44" width="5.84" fill="#1f0c48"/>
<rect x="130.78" width="5.84" fill="#180c3c"/>
<rect x="136.13" width="5.84" fill="#150b37"/>
<rect x="141.47" width="5.84" fill="#140b34"/>
<rect x="146.82" width="5.84" fill="#140b34"/>
<rect x="152.16" width="5.84" fill="#140b34"/>
<rect x="157.50" width="5.84" fill="#150b37"/>
<rect x="162.85" width="5.84" fill="#1c0c43"/>
<rect x="168.19" width="5.84" fill="#290b55"/>
<rect x="173.54" width="5.84" fill="#340a5f"/>
<rect x="178.88" width="5.84" fill="#3e0966"/>
<rect x="184.22" width="5.84" fill="#3d0965"/>
<rect x="189.57" width="5.84" fill="#3b0964"/>
<rect x="194.91" width="5.84" fill="#3d0965"/>
<rect x="200.26" width="5.84" fill="#3e0966"/>
<rect x="205.60" width="5.84" fill="#400a67"/>
<rect x="210.94" width="5.84" fill="#400a67"/>
<rect x="216.29" width="5.84" fill="#3d0965"/>
<rect x="221.63" width="5.84" fill="#3d0965"/>
<rect x="226.98" width="5.84" fill="#440a68"/>
<rect x="232.32" width="5.84" fill="#510e6c"/>
<rect x="237.66" width="5.84" fill="#6a176e"/>
<rect x="243.01" width="5.84" fill="#7f1e6c"/>
<rect x="248.35" width="5.84" fill="#8d2369"/>
<rect x="253.70" width="5.84" fill="#a62d60"/>
<rect x="259.04" width="5.84" fill="#b43359"/>
<rect x="264.38" width="5.84" fill="#c43c4e"/>
<rect x="269.73" width="5.84" fill="#ce4347"/>
<rect x="275.07" width="5.84" fill="#cf4446"/>
<rect x="280.42" width="5.84" fill="#d04545"/>
<rect x="285.76" width="5.84" fill="#d24644"/>
<rect x="291.10" width="5.84" fill="#cc4248"/>
<rect x="296.45" width="5.84" fill="#c73e4c"/>
<rect x="301.79" width="5.84" fill="#c13a50"/>
<rect x="307.14" width="5.84" fill="#bc3754"/>
<rect x="312.48" width="5.84" fill="#bc3754"/>
<rect x="317.82" width="5.84" fill="#bc3754"/>
<rect x="323.17" width="5.84" fill="#bc3754"/>
<rect x="328.51" width="5.84" fill="#b93556"/>
<rect x="333.86" width="5.84" fill="#b63458"/>
<rect x="339.20" width="5.84" fill="#b73557"/>
<rect x="344.54" width="5.84" fill="#b1325a"/>
<rect x="349.89" width="5.84" fill="#ab2f5e"/>
<rect x="355.23" width="5.84" fill="#902568"/>
<rect x="360.58" width="5.84" fill="#71196e"/>
<rect x="365.92" width="5.84" fill="#510e6c"/>
<rect x="371.26" width="5.84" fill="#290b55"/>
<rect x="376.61" width="5.84" fill="#0d0829"/>
<rect x="381.95" width="5.84" fill="#050417"/>
<rect x="387.30" width="5.84" fill="#02020e"/>
<rect x="392.64" width="5.84" fill="#02020c"/>
<rect x="397.98" width="5.84" fill="#02020c"/>
<rect x="403.33" width="5.84" fill="#02010a"/>
<rect x="408.67" width="5.84" fill="#360961"/>
<rect x="414.02" width="5.84" fill="#390963"/>
<rect x="419.36" width="5.84" fill="#440a68"/>
<rect x="424.70" width="5.84" fill="#741a6e"/>
<rect x="430.05" width="5.84" fill="#a22b62"/>
<rect x="435.39" width="5.84" fill="#d04545"/>
<rect x="440.74" width="5.84" fill="#f8850f"/>
<rect x="446.08" width="5.84" fill="#fac42a"/>
<rect x="451.42" width="5.84" fill="#fb9b06"/>
<rect x="456.77" width="5.84" fill="#e45a31"/>
<rect x="462.11" width="5.84" fill="#932667"/>
<rect x="467.46" width="8.84" fill="#4d0d6c"/>
</g>
<g transform="translate(0 265.30)" style="--h:7.25px">
<rect x="69.00" width="8.84" fill="#2d0b59"/>
<rect x="77.34" width="5.84" fill="#2f0a5b"/>
<rect x="82.69" width="5.84" fill="#2d0b59"/>
<rect x="88.03" width="5.84" fill="#290b55"/>
<rect x="93.38" width="5.84" fill="#2b0b57"/>
<rect x="98.72" width="5.84" fill="#2d0b59"/>
<rect x="104.06" width="5.84" fill="#2f0a5b"/>
<rect x="109.41" width="5.84" fill="#290b55"/>
<rect x="114.75" width="5.84" fill="#280b53"/>
<rect x="120.10" width="5.84" fill="#240c4f"/>
<rect x="125.44" width="5.84" fill="#1c0c43"/>
<rect x="130.78" width="5.84" fill="#180c3c"/>
<rect x="136.13" width="5.84" fill="#160b39"/>
<rect x="141.47" width="5.84" fill="#150b37"/>
<rect x="146.82" width="5.84" fill="#160b39"/>
<rect x="152.16" width="5.84" fill="#150b37"/>
<rect x="157.50" width="5.84" fill="#150b37"/>
<rect x="162.85" width="5.84" fill="#1c0c43"/>
<rect x="168.19" width="5.84" fill="#280b53"/>
<rect x="173.54" width="5.84" fill="#320a5e"/>
<rect x="178.88" width="5.84" fill="#360961"/>
<rect x="184.22" width="5.84" fill="#3b0964"/>
<rect x="189.57" width="5.84" fill="#3b0964"/>
<rect x="194.91" width="5.84" fill="#3e0966"/>
<rect x="200.26" width="5.84" fill="#3d0965"/>
<rect x="205.60" width="5.84" fill="#3d0965"/>
<rect x="210.94" width="5.84" fill="#3b0964"/>
<rect x="216.29" width="5.84" fill="#3e0966"/>
<rect x="221.63" width="5.84" fill="#3d0965"/>
<rect x="226.98" width="5.84" fill="#3d0965"/>
<rect x="232.32" width="5.84" fill="#520e6d"/>
<rect x="237.66" width="5.84" fill="#65156e"/>
<rect x="243.01" width="5.84" fill="#7d1e6d"/>
<rect x="248.35" width="5.84" fill="#922568"/>
<rect x="253.70" width="5.84" fill="#a02a63"/>
<rect x="259.04" width="5.84" fill="#b3325a"/>
<rect x="264.38" width="5.84" fill="#c03a51"/>
<rect x="269.73" width="5.84" fill="#cc4248"/>
<rect x="275.07" width="5.84" fill="#d04545"/>
<rect x="280.42" width="5.84" fill="#cf4446"/>
<rect x="285.76" width="5.84" fill="#ce4347"/>
<rect x="291.10" width="5.84" fill="#cb4149"/>
<rect x="296.45" width="5.84" fill="#c33b4f"/>
<rect x="301.79" width="5.84" fill="#bc3754"/>
<rect x="307.14" width="5.84" fill="#bc3754"/>
<rect x="312.48" width="5.84" fill="#bd3853"/>
<rect x="317.82" width="5.84" fill="#b73557"/>
<rect x="323.17" width="5.84" fill="#b63458"/>
<rect x="328.51" width="5.84" fill="#b43359"/>
<rect x="333.86" width="5.84" fill="#b43359"/>
<rect x="339.20" width="5.84" fill="#b63458"/>
<rect x="344.54" width="5.84" fill="#b0315b"/>
<rect x="349.89" width="5.84" fill="#a82e5f"/>
<rect x="355.23" width="5.84" fill="#88226a"/>
<rect x="360.58" width="5.84" fill="#6f196e"/>
<rect x="365.92" width="5.84" fill="#4d0d6c"/>
<rect x="371.26" width="5.84" fill="#260c51"/>
<rect x="376.61" width="5.84" fill="#0d0829"/>
<rect x="381.95" width="5.84" fill="#050417"/>
<rect x="387.30" width="5.84" fill="#02020e"/>
<rect x="392.64" width="5.84" fill="#02020c"/>
<rect x="397.98" width="5.84" fill="#02020c"/>
<rect x="403.33" width="5.84" fill="#02010a"/>
<rect x="408.67" width="5.84" fill="#340a5f"/>
<rect x="414.02" width="5.84" fill="#390963"/>
<rect x="419.36" width="5.84" fill="#420a68"/>
<rect x="424.70" width="5.84" fill="#751b6e"/>
<rect x="430.05" width="5.84" fill="#a22b62"/>
<rect x="435.39" width="5.84" fill="#d04545"/>
<rect x="440.74" width="5.84" fill="#f1711f"/>
<rect x="446.08" width="5.84" fill="#fac228"/>
<rect x="451.42" width="5.84" fill="#fac228"/>
<rect x="456.77" width="5.84" fill="#e75e2e"/>
<rect x="462.11" width="5.84" fill="#8d2369"/>
<rect x="467.46" width="8.84" fill="#64156e"/>
</g>
<g transform="translate(0 272.05)" style="--h:7.25px">
<rect x="69.00" width="8.84" fill="#2d0b59"/>
<rect x="77.34" width="5.84" fill="#2d0b59"/>
<rect x="82.69" width="5.84" fill="#2f0a5b"/>
<rect x="88.03" width="5.84" fill="#2d0b59"/>
<rect x="93.38" width="5.84" fill="#2d0b59"/>
<rect x="98.72" width="5.84" fill="#2f0a5b"/>
<rect x="104.06" width="5.84" fill="#2d0b59"/>
<rect x="109.41" width="5.84" fill="#290b55"/>
<rect x="114.75" width="5.84" fill="#290b55"/>
<rect x="120.10" width="5.84" fill="#240c4f"/>
<rect x="125.44" width="5.84" fill="#1c0c43"/>
<rect x="130.78" width="5.84" fill="#180c3c"/>
<rect x="136.13" width="5.84" fill="#160b39"/>
<rect x="141.47" width="5.84" fill="#150b37"/>
<rect x="146.82" width="5.84" fill="#150b37"/>
<rect x="152.16" width="5.84" fill="#150b37"/>
<rect x="157.50" width="5.84" fill="#150b37"/>
<rect x="162.85" width="5.84" fill="#1b0c41"/>
<rect x="168.19" width="5.84" fill="#280b53"/>
<rect x="173.54" width="5.84" fill="#340a5f"/>
<rect x="178.88" width="5.84" fill="#360961"/>
<rect x="184.22" width="5.84" fill="#380962"/>
<rect x="189.57" width="5.84" fill="#3b0964"/>
<rect x="194.91" width="5.84" fill="#3d0965"/>
<rect x="200.26" width="5.84" fill="#3b0964"/>
<rect x="205.60" width="5.84" fill="#3d0965"/>
<rect x="210.94" width="5.84" fill="#3b0964"/>
<rect x="216.29" width="5.84" fill="#3b0964"/>
<rect x="221.63" width="5.84" fill="#3e0966"/>
<rect x="226.98" width="5.84" fill="#3e0966"/>
<rect x="232.32" width="5.84" fill="#4f0d6c"/>
<rect x="237.66" width="5.84" fill="#62146e"/>
<rect x="243.01" width="5.84" fill="#7d1e6d"/>
<rect x="248.35" width="5.84" fill="#8f2469"/>
<rect x="253.70" width="5.84" fill="#a02a63"/>
<rect x="259.04" width="5.84" fill="#b1325a"/>
<rect x="264.38" width="5.84" fill="#bf3952"/>
<rect x="269.73" width="5.84" fill="#cc4248"/>
<rect x="275.07" width="5.84" fill="#d04545"/>
<rect x="280.42" width="5.84" fill="#d24644"/>
<rect x="285.76" width="5.84" fill="#d04545"/>
<rect x="291.10" width="5.84" fill="#cc4248"/>
<rect x="296.45" width="5.84" fill="#c13a50"/>
<rect x="301.79" width="5.84" fill="#bf3952"/>
<rect x="307.14" width="5.84" fill="#bc3754"/>
<rect x="312.48" width="5.84" fill="#bf3952"/>
<rect x="317.82" width="5.84" fill="#b63458"/>
<rect x="323.17" width="5.84" fill="#b73557"/>
<rect x="328.51" width="5.84" fill="#ba3655"/>
<rect x="333.86" width="5.84" fill="#b63458"/>
<rect x="339.20" width="5.84" fill="#b63458"/>
<rect x="344.54" width="5.84" fill="#b3325a"/>
<rect x="349.89" width="5.84" fill="#a82e5f"/>
<rect x="355.23" width="5.84" fill="#902568"/>
<rect x="360.58" width="5.84" fill="#6d186e"/>
<rect x="365.92" width="5.84" fill="#4c0c6b"/>
<rect x="371.26" width="5.84" fill="#290b55"/>
<rect x="376.61" width="5.84" fill="#0e092b"/>
<rect x="381.95" width="5.84" fill="#050417"/>
<rect x="387.30" width="5.84" fill="#02020e"/>
<rect x="392.64" width="5.84" fill="#02020c"/>
<rect x="397.98" width="5.84" fill="#02020c"/>
<rect x="403.33" width="5.84" fill="#02010a"/>
<rect x="408.67" width="5.84" fill="#340a5f"/>
<rect x="414.02" width="5.84" fill="#380962"/>
<rect x="419.36" width="5.84" fill="#420a68"/>
<rect x="424.70" width="5.84" fill="#721a6e"/>
<rect x="430.05" width="5.84" fill="#9f2a63"/>
<rect x="435.39" width="5.84" fill="#d04545"/>
<rect x="440.74" width="5.84" fill="#f68013"/>
<rect x="446.08" width="5.84" fill="#f7d13d"/>
<rect x="451.42" width="5.84" fill="#fca309"/>
<rect x="456.77" width="5.84" fill="#db503b"/>
<rect x="462.11" width="5.84" fill="#8a226a"/>
<rect x="467.46" width="8.84" fill="#2f0a5b"/>
</g>
<g transform="translate(0 278.80)" style="--h:7.25px">
<rect x="69.00" width="8.84" fill="#2f0a5b"/>
<rect x="77.34" width="5.84" fill="#2f0a5b"/>
<rect x="82.69" width="5.84" fill="#2d0b59"/>
<rect x="88.03" width="5.84" fill="#2f0a5b"/>
<rect x="93.38" width="5.84" fill="#310a5c"/>
<rect x="98.72" width="5.84" fill="#310a5c"/>
<rect x="104.06" width="5.84" fill="#2f0a5b"/>
<rect x="109.41" width="5.84" fill="#2f0a5b"/>
<rect x="114.75" width="5.84" fill="#2b0b57"/>
<rect x="120.10" width="5.84" fill="#240c4f"/>
<rect x="125.44" width="5.84" fill="#1f0c48"/>
<rect x="130.78" width="5.84" fill="#190c3e"/>
<rect x="136.13" width="5.84" fill="#150b37"/>
<rect x="141.47" width="5.84" fill="#160b39"/>
<rect x="146.82" width="5.84" fill="#150b37"/>
<rect x="152.16" width="5.84" fill="#160b39"/>
<rect x="157.50" width="5.84" fill="#160b39"/>
<rect x="162.85" width="5.84" fill="#1c0c43"/>
<rect x="168.19" width="5.84" fill="#290b55"/>
<rect x="173.54" width="5.84" fill="#360961"/>
<rect x="178.88" width="5.84" fill="#3e0966"/>
<rect x="184.22" width="5.84" fill="#3e0966"/>
<rect x="189.57" width="5.84" fill="#3b0964"/>
<rect x="194.91" width="5.84" fill="#3e0966"/>
<rect x="200.26" width="5.84" fill="#400a67"/>
<rect x="205.60" width="5.84" fill="#400a67"/>
<rect x="210.94" width="5.84" fill="#400a67"/>
<rect x="216.29" width="5.84" fill="#3d0965"/>
<rect x="221.63" width="5.84" fill="#420a68"/>
<rect x="226.98" width="5.84" fill="#420a68"/>
<rect x="232.32" width="5.84" fill="#550f6d"/>
<rect x="237.66" width="5.84" fill="#67166e"/>
<rect x="243.01" width="5.84" fill="#7f1e6c"/>
<rect x="248.35" width="5.84" fill="#902568"/>
<rect x="253.70" width="5.84" fill="#a32c61"/>
<rect x="259.04" width="5.84" fill="#b1325a"/>
<rect x="264.38" width="5.84" fill="#c13a50"/>
<rect x="269.73" width="5.84" fill="#cc4248"/>
<rect x="275.07" width="5.84" fill="#d24644"/>
<rect x="280.42" width="5.84" fill="#d44842"/>
<rect x="285.76" width="5.84" fill="#cf4446"/>
<rect x="291.10" width="5.84" fill="#cf4446"/>
<rect x="296.45" width="5.84" fill="#ca404a"/>
<rect x="301.79" width="5.84" fill="#c03a51"/>
<rect x="307.14" width="5.84" fill="#c13a50"/>
<rect x="312.48" width="5.84" fill="#bf3952"/>
<rect x="317.82" width="5.84" fill="#bc3754"/>
<rect x="323.17" width="5.84" fill="#b93556"/>
<rect x="328.51" width="5.84" fill="#ba3655"/>
<rect x="333.86" width="5.84" fill="#b73557"/>
<rect x="339.20" width="5.84" fill="#b73557"/>
<rect x="344.54" width="5.84" fill="#b3325a"/>
<rect x="349.89" width="5.84" fill="#ad305d"/>
<rect x="355.23" width="5.84" fill="#8f2469"/>
<rect x="360.58" width="5.84" fill="#721a6e"/>
<rect x="365.92" width="5.84" fill="#4f0d6c"/>
<rect x="371.26" width="5.84" fill="#260c51"/>
<rect x="376.61" width="5.84" fill="#0e092b"/>
<rect x="381.95" width="5.84" fill="#050417"/>
<rect x="387.30" width="5.84" fill="#02020e"/>
<rect x="392.64" width="5.84" fill="#02020c"/>
<rect x="397.98" width="5.84" fill="#02020c"/>
<rect x="403.33" width="5.84" fill="#02010a"/>
<rect x="408.67" width="5.84" fill="#360961"/>
<rect x="414.02" width="5.84" fill="#3b0964"/>
<rect x="419.36" width="5.84" fill="#4a0c6b"/>
<rect x="424.70" width="5.84" fill="#751b6e"/>
<rect x="430.05" width="5.84" fill="#9f2a63"/>
<rect x="435.39" width="5.84" fill="#d44842"/>
<rect x="440.74" width="5.84" fill="#fb9606"/>
<rect x="446.08" width="5.84" fill="#fbbc21"/>
<rect x="451.42" width="5.84" fill="#f9c932"/>
<rect x="456.77" width="5.84" fill="#e9612b"/>
<rect x="462.11" width="5.84" fill="#8f2469"/>
<rect x="467.46" width="8.84" fill="#450a69"/>
</g>
<g transform="translate(0 285.55)" style="--h:7.25px">
<rect x="69.00" width="8.84" fill="#2d0b59"/>
<rect x="77.34" width="5.84" fill="#2b0b57"/>
<rect x="82.69" width="5.84" fill="#2d0b59"/>
<rect x="88.03" width="5.84" fill="#280b53"/>
<rect x="93.38" width="5.84" fill="#2d0b59"/>
<rect x="98.72" width="5.84" fill="#290b55"/>
<rect x="104.06" width="5.84" fill="#2b0b57"/>
<rect x="109.41" width="5.84" fill="#2d0b59"/>
<rect x="114.75" width="5.84" fill="#280b53"/>
<rect x="120.10" width="5.84" fill="#240c4f"/>
<rect x="125.44" width="5.84" fill="#1c0c43"/>
<rect x="130.78" width="5.84" fill="#160b39"/>
<rect x="136.13" width="5.84" fill="#150b37"/>
<rect x="141.47" width="5.84" fill="#150b37"/>
<rect x="146.82" width="5.84" fill="#140b34"/>
<rect x="152.16" width="5.84" fill="#140b34"/>
<rect x="157.50" width="5.84" fill="#140b34"/>
<rect x="162.85" width="5.84" fill="#190c3e"/>
<rect x="168.19" width="5.84" fill="#260c51"/>
<rect x="173.54" width="5.84" fill="#310a5c"/>
<rect x="178.88" width="5.84" fill="#390963"/>
<rect x="184.22" width="5.84" fill="#3b0964"/>
<rect x="189.57" width="5.84" fill="#3b0964"/>
<rect x="194.91" width="5.84" fill="#390963"/>
<rect x="200.26" width="5.84" fill="#3b0964"/>
<rect x="205.60" width="5.84" fill="#3b0964"/>
<rect x="210.94" width="5.84" fill="#3b0964"/>
<rect x="216.29" width="5.84" fill="#380962"/>
<rect x="221.63" width="5.84" fill="#3b0964"/>
<rect x="226.98" width="5.84" fill="#3d0965"/>
<rect x="232.32" width="5.84" fill="#4f0d6c"/>
<rect x="237.66" width="5.84" fill="#62146e"/>
<rect x="243.01" width="5.84" fill="#751b6e"/>
<rect x="248.35" width="5.84" fill="#8f2469"/>
<rect x="253.70" width="5.84" fill="#9d2964"/>
<rect x="259.04" width="5.84" fill="#ae305c"/>
<rect x="264.38" width="5.84" fill="#bf3952"/>
<rect x="269.73" width="5.84" fill="#ca404a"/>
<rect x="275.07" width="5.84" fill="#cc4248"/>
<rect x="280.42" width="5.84" fill="#cb4149"/>
<rect x="285.76" width="5.84" fill="#ca404a"/>
<rect x="291.10" width="5.84" fill="#cc4248"/>
<rect x="296.45" width="5.84" fill="#c13a50"/>
<rect x="301.79" width="5.84" fill="#bc3754"/>
<rect x="307.14" width="5.84" fill="#b63458"/>
<rect x="312.48" width="5.84" fill="#b73557"/>
<rect x="317.82" width="5.84" fill="#b63458"/>
<rect x="323.17" width="5.84" fill="#b43359"/>
<rect x="328.51" width="5.84" fill="#b0315b"/>
<rect x="333.86" width="5.84" fill="#b1325a"/>
<rect x="339.20" width="5.84" fill="#b43359"/>
<rect x="344.54" width="5.84" fill="#ae305c"/>
<rect x="349.89" width="5.84" fill="#a52c60"/>
<rect x="355.23" width="5.84" fill="#88226a"/>
<rect x="360.58" width="5.84" fill="#6a176e"/>
<rect x="365.92" width="5.84" fill="#4c0c6b"/>
<rect x="371.26" width="5.84" fill="#240c4f"/>
<rect x="376.61" width="5.84" fill="#0d0829"/>
<rect x="381.95" width="5.84" fill="#050417"/>
<rect x="387.30" width="5.84" fill="#02020e"/>
<rect x="392.64" width="5.84" fill="#02020c"/>
<rect x="397.98" width="5.84" fill="#02020c"/>
<rect x="403.33" width="5.84" fill="#02010a"/>
<rect x="408.67" width="5.84" fill="#340a5f"/>
<rect x="414.02" width="5.84" fill="#360961"/>
<rect x="419.36" width="5.84" fill="#450a69"/>
<rect x="424.70" width="5.84" fill="#6f196e"/>
<rect x="430.05" width="5.84" fill="#a02a63"/>
<rect x="435.39" width="5.84" fill="#ce4347"/>
<rect x="440.74" width="5.84" fill="#f67e14"/>
<rect x="446.08" width="5.84" fill="#fbb61a"/>
<rect x="451.42" width="5.84" fill="#fcb216"/>
<rect x="456.77" width="5.84" fill="#e35933"/>
<rect x="462.11" width="5.84" fill="#84206b"/>
<rect x="467.46" width="8.84" fill="#520e6d"/>
</g>
<g transform="translate(0 292.30)" style="--h:7.25px">
<rect x="69.00" width="8.84" fill="#2b0b57"/>
<rect x="77.34" width="5.84" fill="#2d0b59"/>
<rect x="82.69" width="5.84" fill="#2d0b59"/>
<rect x="88.03" width="5.84" fill="#2b0b57"/>
<rect x="93.38" width="5.84" fill="#2d0b59"/>
<rect x="98.72" width="5.84" fill="#310a5c"/>
<rect x="104.06" width="5.84" fill="#2f0a5b"/>
<rect x="109.41" width="5.84" fill="#2b0b57"/>
<rect x="114.75" width="5.84" fill="#290b55"/>
<rect x="120.10" width="5.84" fill="#240c4f"/>
<rect x="125.44" width="5.84" fill="#1c0c43"/>
<rect x="130.78" width="5.84" fill="#180c3c"/>
<rect x="136.13" width="5.84" fill="#150b37"/>
<rect x="141.47" width="5.84" fill="#140b34"/>
<rect x="146.82" width="5.84" fill="#150b37"/>
<rect x="152.16" width="5.84" fill="#140b34"/>
<rect x="157.50" width="5.84" fill="#150b37"/>
<rect x="162.85" width="5.84" fill="#1c0c43"/>
<rect x="168.19" width="5.84" fill="#280b53"/>
<rect x="173.54" width="5.84" fill="#340a5f"/>
<rect x="178.88" width="5.84" fill="#3d0965"/>
<rect x="184.22" width="5.84" fill="#380962"/>
<rect x="189.57" width="5.84" fill="#380962"/>
<rect x="194.91" width="5.84" fill="#3b0964"/>
<rect x="200.26" width="5.84" fill="#3b0964"/>
<rect x="205.60" width="5.84" fill="#400a67"/>
<rect x="210.94" width="5.84" fill="#3e0966"/>
<rect x="216.29" width="5.84" fill="#3e0966"/>
<rect x="221.63" width="5.84" fill="#3e0966"/>
<rect x="226.98" width="5.84" fill="#3b0964"/>
<rect x="232.32" width="5.84" fill="#4c0c6b"/>
<rect x="237.66" width="5.84" fill="#64156e"/>
<rect x="243.01" width="5.84" fill="#7c1d6d"/>
<rect x="248.35" width="5.84" fill="#8d2369"/>
<rect x="253.70" width="5.84" fill="#a02a63"/>
<rect x="259.04" width="5.84" fill="#b3325a"/>
<rect x="264.38" width="5.84" fill="#bd3853"/>
<rect x="269.73" width="5.84" fill="#ca404a"/>
<rect x="275.07" width="5.84" fill="#cc4248"/>
<rect x="280.42" width="5.84" fill="#d04545"/>
<rect x="285.76" width="5.84" fill="#c83f4b"/>
<rect x="291.10" width="5.84" fill="#ce4347"/>
<rect x="296.45" width="5.84" fill="#c63d4d"/>
<rect x="301.79" width="5.84" fill="#b93556"/>
<rect x="307.14" width="5.84" fill="#ba3655"/>
<rect x="312.48" width="5.84" fill="#bd3853"/>
<rect x="317.82" width="5.84" fill="#b73557"/>
<rect x="323.17" width="5.84" fill="#b63458"/>
<rect x="328.51" width="5.84" fill="#b63458"/>
<rect x="333.86" width="5.84" fill="#b73557"/>
<rect x="339.20" width="5.84" fill="#b43359"/>
<rect x="344.54" width="5.84" fill="#ae305c"/>
<rect x="349.89" width="5.84" fill="#a52c60"/>
<rect x="355.23" width="5.84" fill="#8a226a"/>
<rect x="360.58" width="5.84" fill="#71196e"/>
<rect x="365.92" width="5.84" fill="#490b6a"/>
<rect x="371.26" width="5.84" fill="#260c51"/>
<rect x="376.61" width="5.84" fill="#0e092b"/>
<rect x="381.95" width="5.84" fill="#050417"/>
<rect x="387.30" width="5.84" fill="#02020e"/>
<rect x="392.64" width="5.84" fill="#02020c"/>
<rect x="397.98" width="5.84" fill="#02020c"/>
<rect x="403.33" width="5.84" fill="#02010a"/>
<rect x="408.67" width="5.84" fill="#340a5f"/>
<rect x="414.02" width="5.84" fill="#390963"/>
<rect x="419.36" width="5.84" fill="#450a69"/>
<rect x="424.70" width="5.84" fill="#6d186e"/>
<rect x="430.05" width="5.84" fill="#a02a63"/>
<rect x="435.39" width="5.84" fill="#cf4446"/>
<rect x="440.74" width="5.84" fill="#f8890c"/>
<rect x="446.08" width="5.84" fill="#fbb81d"/>
<rect x="451.42" width="5.84" fill="#f98c0a"/>
<rect x="456.77" width="5.84" fill="#e55c30"/>
<rect x="462.11" width="5.84" fill="#972766"/>
<rect x="467.46" width="8.84" fill="#3d0965"/>
</g>
<g transform="translate(0 299.05)" style="--h:7.25px">
<rect x="69.00" width="8.84" fill="#2b0b57"/>
<rect x="77.34" width="5.84" fill="#2b0b57"/>
<rect x="82.69" width="5.84" fill="#2d0b59"/>
<rect x="88.03" width="5.84" fill="#2b0b57"/>
<rect x="93.38" width="5.84" fill="#2f0a5b"/>
<rect x="98.72" width="5.84" fill="#2b0b57"/>
<rect x="104.06" width="5.84" fill="#290b55"/>
<rect x="109.41" width="5.84" fill="#290b55"/>
<rect x="114.75" width="5.84" fill="#2b0b57"/>
<rect x="120.10" width="5.84" fill="#230c4c"/>
<rect x="125.44" width="5.84" fill="#1c0c43"/>
<rect x="130.78" width="5.84" fill="#180c3c"/>
<rect x="136.13" width="5.84" fill="#150b37"/>
<rect x="141.47" width="5.84" fill="#140b34"/>
<rect x="146.82" width="5.84" fill="#140b34"/>
<rect x="152.16" width="5.84" fill="#150b37"/>
<rect x="157.50" width="5.84" fill="#150b37"/>
<rect x="162.85" width="5.84" fill="#1b0c41"/>
<rect x="168.19" width="5.84" fill="#280b53"/>
<rect x="173.54" width="5.84" fill="#320a5e"/>
<rect x="178.88" width="5.84" fill="#380962"/>
<rect x="184.22" width="5.84" fill="#3b0964"/>
<rect x="189.57" width="5.84" fill="#390963"/>
<rect x="194.91" width="5.84" fill="#3d0965"/>
<rect x="200.26" width="5.84" fill="#3b0964"/>
<rect x="205.60" width="5.84" fill="#3d0965"/>
<rect x="210.94" width="5.84" fill="#3e0966"/>
<rect x="216.29" width="5.84" fill="#3d0965"/>
<rect x="221.63" width="5.84" fill="#3d0965"/>
<rect x="226.98" width="5.84" fill="#3d0965"/>
<rect x="232.32" width="5.84" fill="#310a5c"/>
<rect x="237.66" width="5.84" fill="#450a69"/>
<rect x="243.01" width="5.84" fill="#5c126e"/>
<rect x="248.35" width="5.84" fill="#8c2369"/>
<rect x="253.70" width="5.84" fill="#9d2964"/>
<rect x="259.04" width="5.84" fill="#b1325a"/>
<rect x="264.38" width="5.84" fill="#a52c60"/>
<rect x="269.73" width="5.84" fill="#b3325a"/>
<rect x="275.07" width="5.84" fill="#b63458"/>
<rect x="280.42" width="5.84" fill="#ca404a"/>
<rect x="285.76" width="5.84" fill="#ce4347"/>
<rect x="291.10" width="5.84" fill="#cc4248"/>
<rect x="296.45" width="5.84" fill="#c13a50"/>
<rect x="301.79" width="5.84" fill="#bd3853"/>
<rect x="307.14" width="5.84" fill="#bc3754"/>
<rect x="312.48" width="5.84" fill="#b63458"/>
<rect x="317.82" width="5.84" fill="#922568"/>
<rect x="323.17" width="5.84" fill="#8a226a"/>
<rect x="328.51" width="5.84" fill="#8d2369"/>
<rect x="333.86" width="5.84" fill="#8d2369"/>
<rect x="339.20" width="5.84" fill="#87216b"/>
<rect x="344.54" width="5.84" fill="#b3325a"/>
<rect x="349.89" width="5.84" fill="#a52c60"/>
<rect x="355.23" width="5.84" fill="#8f2469"/>
<rect x="360.58" width="5.84" fill="#6d186e"/>
<rect x="365.92" width="5.84" fill="#4c0c6b"/>
<rect x="371.26" width="5.84" fill="#260c51"/>
<rect x="376.61" width="5.84" fill="#0e092b"/>
<rect x="381.95" width="5.84" fill="#050417"/>
<rect x="387.30" width="5.84" fill="#02020e"/>
<rect x="392.64" width="5.84" fill="#02020c"/>
<rect x="397.98" width="5.84" fill="#02020c"/>
<rect x="403.33" width="5.84" fill="#02010a"/>
<rect x="408.67" width="5.84" fill="#340a5f"/>
<rect x="414.02" width="5.84" fill="#390963"/>
<rect x="419.36" width="5.84" fill="#450a69"/>
<rect x="424.70" width="5.84" fill="#721a6e"/>
<rect x="430.05" width="5.84" fill="#9f2a63"/>
<rect x="435.39" width="5.84" fill="#d04545"/>
<rect x="440.74" width="5.84" fill="#f67e14"/>
<rect x="446.08" width="5.84" fill="#fbb81d"/>
<rect x="451.42" width="5.84" fill="#e35933"/>
<rect x="456.77" width="5.84" fill="#9f2a63"/>
<rect x="462.11" width="5.84" fill="#420a68"/>
<rect x="467.46" width="8.84" fill="#2f0a5b"/>
</g>
<g transform="translate(0 305.80)" style="--h:7.25px">
<rect x="69.00" width="8.84" fill="#2d0b59"/>
<rect x="77.34" width="5.84" fill="#2f0a5b"/>
<rect x="82.69" width="5.84" fill="#2d0b59"/>
<rect x="88.03" width="5.84" fill="#2f0a5b"/>
<rect x="93.38" width="5.84" fill="#2b0b57"/>
<rect x="98.72" width="5.84" fill="#2f0a5b"/>
<rect x="104.06" width="5.84" fill="#2f0a5b"/>
<rect x="109.41" width="5.84" fill="#2b0b57"/>
<rect x="114.75" width="5.84" fill="#2b0b57"/>
<rect x="120.10" width="5.84" fill="#240c4f"/>
<rect x="125.44" width="5.84" fill="#1e0c45"/>
<rect x="130.78" width="5.84" fill="#160b39"/>
<rect x="136.13" width="5.84" fill="#150b37"/>
<rect x="141.47" width="5.84" fill="#150b37"/>
<rect x="146.82" width="5.84" fill="#150b37"/>
<rect x="152.16" width="5.84" fill="#140b34"/>
<rect x="157.50" width="5.84" fill="#150b37"/>
<rect x="162.85" width="5.84" fill="#1c0c43"/>
<rect x="168.19" width="5.84" fill="#280b53"/>
<rect x="173.54" width="5.84" fill="#340a5f"/>
<rect x="178.88" width="5.84" fill="#380962"/>
<rect x="184.22" width="5.84" fill="#3b0964"/>
<rect x="189.57" width="5.84" fill="#3b0964"/>
<rect x="194.91" width="5.84" fill="#3d0965"/>
<rect x="200.26" width="5.84" fill="#3e0966"/>
<rect x="205.60" width="5.84" fill="#3e0966"/>
<rect x="210.94" width="5.84" fill="#290b55"/>
<rect x="216.29" width="5.84" fill="#240c4f"/>
<rect x="221.63" width="5.84" fill="#260c51"/>
<rect x="226.98" width="5.84" fill="#420a68"/>
<rect x="232.32" width="5.84" fill="#520e6d"/>
<rect x="237.66" width="5.84" fill="#64156e"/>
<rect x="243.01" width="5.84" fill="#7f1e6c"/>
<rect x="248.35" width="5.84" fill="#902568"/>
<rect x="253.70" width="5.84" fill="#9d2964"/>
<rect x="259.04" width="5.84" fill="#b1325a"/>
<rect x="264.38" width="5.84" fill="#c13a50"/>
<rect x="269.73" width="5.84" fill="#cb4149"/>
<rect x="275.07" width="5.84" fill="#d34743"/>
<rect x="280.42" width="5.84" fill="#d04545"/>
<rect x="285.76" width="5.84" fill="#d04545"/>
<rect x="291.10" width="5.84" fill="#cb4149"/>
<rect x="296.45" width="5.84" fill="#c13a50"/>
<rect x="301.79" width="5.84" fill="#bd3853"/>
<rect x="307.14" width="5.84" fill="#c03a51"/>
<rect x="312.48" width="5.84" fill="#c03a51"/>
<rect x="317.82" width="5.84" fill="#b93556"/>
<rect x="323.17" width="5.84" fill="#b93556"/>
<rect x="328.51" width="5.84" fill="#b1325a"/>
<rect x="333.86" width="5.84" fill="#b93556"/>
<rect x="339.20" width="5.84" fill="#b1325a"/>
<rect x="344.54" width="5.84" fill="#b3325a"/>
<rect x="349.89" width="5.84" fill="#ad305d"/>
<rect x="355.23" width="5.84" fill="#8c2369"/>
<rect x="360.58" width="5.84" fill="#6d186e"/>
<rect x="365.92" width="5.84" fill="#4f0d6c"/>
<rect x="371.26" width="5.84" fill="#290b55"/>
<rect x="376.61" width="5.84" fill="#0d0829"/>
<rect x="381.95" width="5.84" fill="#050417"/>
<rect x="387.30" width="5.84" fill="#02020e"/>
<rect x="392.64" width="5.84" fill="#02020c"/>
<rect x="397.98" width="5.84" fill="#02020c"/>
<rect x="403.33" width="5.84" fill="#02010a"/>
<rect x="408.67" width="5.84" fill="#360961"/>
<rect x="414.02" width="5.84" fill="#390963"/>
<rect x="419.36" width="5.84" fill="#440a68"/>
<rect x="424.70" width="5.84" fill="#721a6e"/>
<rect x="430.05" width="5.84" fill="#a22b62"/>
<rect x="435.39" width="5.84" fill="#d34743"/>
<rect x="440.74" width="5.84" fill="#ee6a24"/>
<rect x="446.08" width="5.84" fill="#fac42a"/>
<rect x="451.42" width="5.84" fill="#fca309"/>
<rect x="456.77" width="5.84" fill="#ec6726"/>
<rect x="462.11" width="5.84" fill="#781c6d"/>
<rect x="467.46" width="8.84" fill="#4d0d6c"/>
</g>
<g transform="translate(0 312.55)" style="--h:7.25px">
<rect x="69.00" width="8.84" fill="#2b0b57"/>
<rect x="77.34" width="5.84" fill="#2d0b59"/>
<rect x="82.69" width="5.84" fill="#2d0b59"/>
<rect x="88.03" width="5.84" fill="#2b0b57"/>
<rect x="93.38" width="5.84" fill="#2d0b59"/>
<rect x="98.72" width="5.84" fill="#2d0b59"/>
<rect x="104.06" width="5.84" fill="#2f0a5b"/>
<rect x="109.41" width="5.84" fill="#2d0b59"/>
<rect x="114.75" width="5.84" fill="#280b53"/>
<rect x="120.10" width="5.84" fill="#240c4f"/>
<rect x="125.44" width="5.84" fill="#1e0c45"/>
<rect x="130.78" width="5.84" fill="#180c3c"/>
<rect x="136.13" width="5.84" fill="#150b37"/>
<rect x="141.47" width="5.84" fill="#150b37"/>
<rect x="146.82" width="5.84" fill="#150b37"/>
<rect x="152.16" width="5.84" fill="#150b37"/>
<rect x="157.50" width="5.84" fill="#150b37"/>
<rect x="162.85" width="5.84" fill="#1c0c43"/>
<rect x="168.19" width="5.84" fill="#280b53"/>
<rect x="173.54" width="5.84" fill="#340a5f"/>
<rect x="178.88" width="5.84" fill="#3b0964"/>
<rect x="184.22" width="5.84" fill="#3b0964"/>
<rect x="189.57" width="5.84" fill="#3b0964"/>
<rect x="194.91" width="5.84" fill="#3e0966"/>
<rect x="200.26" width="5.84" fill="#3e0966"/>
<rect x="205.60" width="5.84" fill="#400a67"/>
<rect x="210.94" width="5.84" fill="#3d0965"/>
<rect x="216.29" width="5.84" fill="#3e0966"/>
<rect x="221.63" width="5.84" fill="#440a68"/>
<rect x="226.98" width="5.84" fill="#420a68"/>
<rect x="232.32" width="5.84" fill="#4d0d6c"/>
<rect x="237.66" width="5.84" fill="#67166e"/>
<rect x="243.01" width="5.84" fill="#7d1e6d"/>
<rect x="248.35" width="5.84" fill="#8d2369"/>
<rect x="253.70" width="5.84" fill="#a02a63"/>
<rect x="259.04" width="5.84" fill="#b0315b"/>
<rect x="264.38" width="5.84" fill="#bf3952"/>
<rect x="269.73" width="5.84" fill="#ca404a"/>
<rect x="275.07" width="5.84" fill="#ce4347"/>
<rect x="280.42" width="5.84" fill="#ce4347"/>
<rect x="285.76" width="5.84" fill="#b3325a"/>
<rect x="291.10" width="5.84" fill="#b63458"/>
<rect x="296.45" width="5.84" fill="#ad305d"/>
<rect x="301.79" width="5.84" fill="#a22b62"/>
<rect x="307.14" width="5.84" fill="#bc3754"/>
<rect x="312.48" width="5.84" fill="#bd3853"/>
<rect x="317.82" width="5.84" fill="#ba3655"/>
<rect x="323.17" width="5.84" fill="#bd3853"/>
<rect x="328.51" width="5.84" fill="#b1325a"/>
<rect x="333.86" width="5.84" fill="#b0315b"/>
<rect x="339.20" width="5.84" fill="#b1325a"/>
<rect x="344.54" width="5.84" fill="#b3325a"/>
<rect x="349.89" width="5.84" fill="#ab2f5e"/>
<rect x="355.23" width="5.84" fill="#8d2369"/>
<rect x="360.58" width="5.84" fill="#71196e"/>
<rect x="365.92" width="5.84" fill="#4d0d6c"/>
<rect x="371.26" width="5.84" fill="#280b53"/>
<rect x="376.61" width="5.84" fill="#0e092b"/>
<rect x="381.95" width="5.84" fill="#050417"/>
<rect x="387.30" width="5.84" fill="#02020e"/>
<rect x="392.64" width="5.84" fill="#02020c"/>
<rect x="397.98" width="5.84" fill="#02020c"/>
<rect x="403.33" width="5.84" fill="#02010a"/>
<rect x="408.67" width="5.84" fill="#340a5f"/>
<rect x="414.02" width="5.84" fill="#3b0964"/>
<rect x="419.36" width="5.84" fill="#470b6a"/>
<rect x="424.70" width="5.84" fill="#751b6e"/>
<rect x="430.05" width="5.84" fill="#9f2a63"/>
<rect x="435.39" width="5.84" fill="#d34743"/>
<rect x="440.74" width="5.84" fill="#f98e09"/>
<rect x="446.08" width="5.84" fill="#fbba1f"/>
<rect x="451.42" width="5.84" fill="#f68013"/>
<rect x="456.77" width="5.84" fill="#e65d2f"/>
<rect x="462.11" width="5.84" fill="#ab2f5e"/>
<rect x="467.46" width="8.84" fill="#4c0c6b"/>
</g>
<g transform="translate(0 319.30)" style="--h:7.25px">
<rect x="69.00" width="8.84" fill="#2d0b59"/>
<rect x="77.34" width="5.84" fill="#2f0a5b"/>
<rect x="82.69" width="5.84" fill="#2b0b57"/>
<rect x="88.03" width="5.84" fill="#290b55"/>
<rect x="93.38" width="5.84" fill="#2d0b59"/>
<rect x="98.72" width="5.84" fill="#2d0b59"/>
<rect x="104.06" width="5.84" fill="#2d0b59"/>
<rect x="109.41" width="5.84" fill="#2b0b57"/>
<rect x="114.75" width="5.84" fill="#290b55"/>
<rect x="120.10" width="5.84" fill="#260c51"/>
<rect x="125.44" width="5.84" fill="#1c0c43"/>
<rect x="130.78" width="5.84" fill="#160b39"/>
<rect x="136.13" width="5.84" fill="#150b37"/>
<rect x="141.47" width="5.84" fill="#150b37"/>
<rect x="146.82" width="5.84" fill="#140b34"/>
<rect x="152.16" width="5.84" fill="#160b39"/>
<rect x="157.50" width="5.84" fill="#150b37"/>
<rect x="162.85" width="5.84" fill="#1c0c43"/>
<rect x="168.19" width="5.84" fill="#260c51"/>
<rect x="173.54" width="5.84" fill="#340a5f"/>
<rect x="178.88" width="5.84" fill="#390963"/>
<rect x="184.22" width="5.84" fill="#3d0965"/>
<rect x="189.57" width="5.84" fill="#3d0965"/>
<rect x="194.91" width="5.84" fill="#3d0965"/>
<rect x="200.26" width="5.84" fill="#3e0966"/>
<rect x="205.60" width="5.84" fill="#3d0965"/>
<rect x="210.94" width="5.84" fill="#3e0966"/>
<rect x="216.29" width="5.84" fill="#390963"/>
<rect x="221.63" width="5.84" fill="#400a67"/>
<rect x="226.98" width="5.84" fill="#3e0966"/>
<rect x="232.32" width="5.84" fill="#550f6d"/>
<rect x="237.66" width="5.84" fill="#67166e"/>
<rect x="243.01" width="5.84" fill="#771c6d"/>
<rect x="248.35" width="5.84" fill="#932667"/>
<rect x="253.70" width="5.84" fill="#9f2a63"/>
<rect x="259.04" width="5.84" fill="#b0315b"/>
<rect x="264.38" width="5.84" fill="#c03a51"/>
<rect x="269.73" width="5.84" fill="#ce4347"/>
<rect x="275.07" width="5.84" fill="#d44842"/>
<rect x="280.42" width="5.84" fill="#ce4347"/>
<rect x="285.76" width="5.84" fill="#cf4446"/>
<rect x="291.10" width="5.84" fill="#ce4347"/>
<rect x="296.45" width="5.84" fill="#c33b4f"/>
<rect x="301.79" width="5.84" fill="#bd3853"/>
<rect x="307.14" width="5.84" fill="#bd3853"/>
<rect x="312.48" width="5.84" fill="#bc3754"/>
<rect x="317.82" width="5.84" fill="#bd3853"/>
<rect x="323.17" width="5.84" fill="#b43359"/>
<rect x="328.51" width="5.84" fill="#b93556"/>
<rect x="333.86" width="5.84" fill="#b73557"/>
<rect x="339.20" width="5.84" fill="#b73557"/>
<rect x="344.54" width="5.84" fill="#b0315b"/>
<rect x="349.89" width="5.84" fill="#a82e5f"/>
<rect x="355.23" width="5.84" fill="#8f2469"/>
<rect x="360.58" width="5.84" fill="#6f196e"/>
<rect x="365.92" width="5.84" fill="#4c0c6b"/>
<rect x="371.26" width="5.84" fill="#260c51"/>
<rect x="376.61" width="5.84" fill="#0d0829"/>
<rect x="381.95" width="5.84" fill="#050417"/>
<rect x="387.30" width="5.84" fill="#02020e"/>
<rect x="392.64" width="5.84" fill="#02020c"/>
<rect x="397.98" width="5.84" fill="#02020c"/>
<rect x="403.33" width="5.84" fill="#02010a"/>
<rect x="408.67" width="5.84" fill="#360961"/>
<rect x="414.02" width="5.84" fill="#390963"/>
<rect x="419.36" width="5.84" fill="#450a69"/>
<rect x="424.70" width="5.84" fill="#71196e"/>
<rect x="430.05" width="5.84" fill="#a22b62"/>
<rect x="435.39" width="5.84" fill="#d04545"/>
<rect x="440.74" width="5.84" fill="#f98c0a"/>
<rect x="446.08" width="5.84" fill="#fbba1f"/>
<rect x="451.42" width="5.84" fill="#fa9407"/>
<rect x="456.77" width="5.84" fill="#dd513a"/>
<rect x="462.11" width="5.84" fill="#902568"/>
<rect x="467.46" width="8.84" fill="#470b6a"/>
</g>
<g transform="translate(0 326.05)" style="--h:7.25px">
<rect x="69.00" width="8.84" fill="#2f0a5b"/>
<rect x="77.34" width="5.84" fill="#310a5c"/>
<rect x="82.69" width="5.84" fill="#2d0b59"/>
<rect x="88.03" width="5.84" fill="#310a5c"/>
<rect x="93.38" width="5.84" fill="#2f0a5b"/>
<rect x="98.72" width="5.84" fill="#320a5e"/>
<rect x="104.06" width="5.84" fill="#2f0a5b"/>
<rect x="109.41" width="5.84" fill="#2d0b59"/>
<rect x="114.75" width="5.84" fill="#290b55"/>
<rect x="120.10" width="5.84" fill="#260c51"/>
<rect x="125.44" width="5.84" fill="#1f0c48"/>
<rect x="130.78" width="5.84" fill="#1b0c41"/>
<rect x="136.13" width="5.84" fill="#160b39"/>
<rect x="141.47" width="5.84" fill="#150b37"/>
<rect x="146.82" width="5.84" fill="#150b37"/>
<rect x="152.16" width="5.84" fill="#160b39"/>
<rect x="157.50" width="5.84" fill="#160b39"/>
<rect x="162.85" width="5.84" fill="#1e0c45"/>
<rect x="168.19" width="5.84" fill="#290b55"/>
<rect x="173.54" width="5.84" fill="#320a5e"/>
<rect x="178.88" width="5.84" fill="#3b0964"/>
<rect x="184.22" width="5.84" fill="#3e0966"/>
<rect x="189.57" width="5.84" fill="#3d0965"/>
<rect x="194.91" width="5.84" fill="#3e0966"/>
<rect x="200.26" width="5.84" fill="#400a67"/>
<rect x="205.60" width="5.84" fill="#3d0965"/>
<rect x="210.94" width="5.84" fill="#3d0965"/>
<rect x="216.29" width="5.84" fill="#420a68"/>
<rect x="221.63" width="5.84" fill="#400a67"/>
<rect x="226.98" width="5.84" fill="#400a67"/>
<rect x="232.32" width="5.84" fill="#550f6d"/>
<rect x="237.66" width="5.84" fill="#69166e"/>
<rect x="243.01" width="5.84" fill="#7f1e6c"/>
<rect x="248.35" width="5.84" fill="#922568"/>
<rect x="253.70" width="5.84" fill="#a02a63"/>
<rect x="259.04" width="5.84" fill="#b93556"/>
<rect x="264.38" width="5.84" fill="#c43c4e"/>
<rect x="269.73" width="5.84" fill="#cc4248"/>
<rect x="275.07" width="5.84" fill="#d44842"/>
<rect x="280.42" width="5.84" fill="#cf4446"/>
<rect x="285.76" width="5.84" fill="#cf4446"/>
<rect x="291.10" width="5.84" fill="#ce4347"/>
<rect x="296.45" width="5.84" fill="#c73e4c"/>
<rect x="301.79" width="5.84" fill="#bf3952"/>
<rect x="307.14" width="5.84" fill="#c03a51"/>
<rect x="312.48" width="5.84" fill="#bd3853"/>
<rect x="317.82" width="5.84" fill="#bd3853"/>
<rect x="323.17" width="5.84" fill="#bc3754"/>
<rect x="328.51" width="5.84" fill="#ba3655"/>
<rect x="333.86" width="5.84" fill="#b93556"/>
<rect x="339.20" width="5.84" fill="#b73557"/>
<rect x="344.54" width="5.84" fill="#b1325a"/>
<rect x="349.89" width="5.84" fill="#a62d60"/>
<rect x="355.23" width="5.84" fill="#922568"/>
<rect x="360.58" width="5.84" fill="#71196e"/>
<rect x="365.92" width="5.84" fill="#510e6c"/>
<rect x="371.26" width="5.84" fill="#280b53"/>
<rect x="376.61" width="5.84" fill="#0e092b"/>
<rect x="381.95" width="5.84" fill="#050417"/>
<rect x="387.30" width="5.84" fill="#02020e"/>
<rect x="392.64" width="5.84" fill="#02020c"/>
<rect x="397.98" width="5.84" fill="#02020c"/>
<rect x="403.33" width="5.84" fill="#02010a"/>
<rect x="408.67" width="5.84" fill="#380962"/>
<rect x="414.02" width="5.84" fill="#3d0965"/>
<rect x="419.36" width="5.84" fill="#470b6a"/>
<rect x="424.70" width="5.84" fill="#751b6e"/>
<rect x="430.05" width="5.84" fill="#a82e5f"/>
<rect x="435.39" width="5.84" fill="#d44842"/>
<rect x="440.74" width="5.84" fill="#f78410"/>
<rect x="446.08" width="5.84" fill="#f5d949"/>
<rect x="451.42" width="5.84" fill="#fcae12"/>
<rect x="456.77" width="5.84" fill="#eb6429"/>
<rect x="462.11" width="5.84" fill="#801f6c"/>
<rect x="467.46" width="8.84" fill="#390963"/>
</g>
<g transform="translate(0 332.80)" style="--h:7.25px">
<rect x="69.00" width="8.84" fill="#2b0b57"/>
<rect x="77.34" width="5.84" fill="#2d0b59"/>
<rect x="82.69" width="5.84" fill="#2d0b59"/>
<rect x="88.03" width="5.84" fill="#2d0b59"/>
<rect x="93.38" width="5.84" fill="#2d0b59"/>
<rect x="98.72" width="5.84" fill="#2f0a5b"/>
<rect x="104.06" width="5.84" fill="#2f0a5b"/>
<rect x="109.41" width="5.84" fill="#2d0b59"/>
<rect x="114.75" width="5.84" fill="#260c51"/>
<rect x="120.10" width="5.84" fill="#240c4f"/>
<rect x="125.44" width="5.84" fill="#1f0c48"/>
<rect x="130.78" width="5.84" fill="#180c3c"/>
<rect x="136.13" width="5.84" fill="#150b37"/>
<rect x="141.47" width="5.84" fill="#140b34"/>
<rect x="146.82" width="5.84" fill="#150b37"/>
<rect x="152.16" width="5.84" fill="#150b37"/>
<rect x="157.50" width="5.84" fill="#150b37"/>
<rect x="162.85" width="5.84" fill="#190c3e"/>
<rect x="168.19" width="5.84" fill="#240c4f"/>
<rect x="173.54" width="5.84" fill="#320a5e"/>
<rect x="178.88" width="5.84" fill="#3e0966"/>
<rect x="184.22" width="5.84" fill="#380962"/>
<rect x="189.57" width="5.84" fill="#390963"/>
<rect x="194.91" width="5.84" fill="#3b0964"/>
<rect x="200.26" width="5.84" fill="#3d0965"/>
<rect x="205.60" width="5.84" fill="#3e0966"/>
<rect x="210.94" width="5.84" fill="#390963"/>
<rect x="216.29" width="5.84" fill="#3d0965"/>
<rect x="221.63" width="5.84" fill="#3d0965"/>
<rect x="226.98" width="5.84" fill="#400a67"/>
<rect x="232.32" width="5.84" fill="#4f0d6c"/>
<rect x="237.66" width="5.84" fill="#67166e"/>
<rect x="243.01" width="5.84" fill="#781c6d"/>
<rect x="248.35" width="5.84" fill="#8c2369"/>
<rect x="253.70" width="5.84" fill="#9f2a63"/>
<rect x="259.04" width="5.84" fill="#b0315b"/>
<rect x="264.38" width="5.84" fill="#bd3853"/>
<rect x="269.73" width="5.84" fill="#c73e4c"/>
<rect x="275.07" width="5.84" fill="#ce4347"/>
<rect x="280.42" width="5.84" fill="#cb4149"/>
<rect x="285.76" width="5.84" fill="#cf4446"/>
<rect x="291.10" width="5.84" fill="#cb4149"/>
<rect x="296.45" width="5.84" fill="#c13a50"/>
<rect x="301.79" width="5.84" fill="#bd3853"/>
<rect x="307.14" width="5.84" fill="#b73557"/>
<rect x="312.48" width="5.84" fill="#bc3754"/>
<rect x="317.82" width="5.84" fill="#b73557"/>
<rect x="323.17" width="5.84" fill="#bc3754"/>
<rect x="328.51" width="5.84" fill="#b73557"/>
<rect x="333.86" width="5.84" fill="#b3325a"/>
<rect x="339.20" width="5.84" fill="#b63458"/>
<rect x="344.54" width="5.84" fill="#b0315b"/>
<rect x="349.89" width="5.84" fill="#a92e5e"/>
<rect x="355.23" width="5.84" fill="#85216b"/>
<rect x="360.58" width="5.84" fill="#6d186e"/>
<rect x="365.92" width="5.84" fill="#4c0c6b"/>
<rect x="371.26" width="5.84" fill="#280b53"/>
<rect x="376.61" width="5.84" fill="#0d0829"/>
<rect x="381.95" width="5.84" fill="#050417"/>
<rect x="387.30" width="5.84" fill="#02020e"/>
<rect x="392.64" width="5.84" fill="#02020c"/>
<rect x="397.98" width="5.84" fill="#02020c"/>
<rect x="403.33" width="5.84" fill="#02010a"/>
<rect x="408.67" width="5.84" fill="#340a5f"/>
<rect x="414.02" width="5.84" fill="#380962"/>
<rect x="419.36" width="5.84" fill="#440a68"/>
<rect x="424.70" width="5.84" fill="#721a6e"/>
<rect x="430.05" width="5.84" fill="#a02a63"/>
<rect x="435.39" width="5.84" fill="#d04545"/>
<rect x="440.74" width="5.84" fill="#f1731d"/>
<rect x="446.08" width="5.84" fill="#fcae12"/>
<rect x="451.42" width="5.84" fill="#f98c0a"/>
<rect x="456.77" width="5.84" fill="#d84c3e"/>
<rect x="462.11" width="5.84" fill="#902568"/>
<rect x="467.46" width="8.84" fill="#3d0965"/>
</g>
<g transform="translate(0 339.55)" style="--h:7.25px">
<rect x="69.00" width="8.84" fill="#2d0b59"/>
<rect x="77.34" width="5.84" fill="#2b0b57"/>
<rect x="82.69" width="5.84" fill="#2d0b59"/>
<rect x="88.03" width="5.84" fill="#2f0a5b"/>
<rect x="93.38" width="5.84" fill="#2b0b57"/>
<rect x="98.72" width="5.84" fill="#2f0a5b"/>
<rect x="104.06" width="5.84" fill="#2d0b59"/>
<rect x="109.41" width="5.84" fill="#290b55"/>
<rect x="114.75" width="5.84" fill="#290b55"/>
<rect x="120.10" width="5.84" fill="#240c4f"/>
<rect x="125.44" width="5.84" fill="#1c0c43"/>
<rect x="130.78" width="5.84" fill="#180c3c"/>
<rect x="136.13" width="5.84" fill="#160b39"/>
<rect x="141.47" width="5.84" fill="#150b37"/>
<rect x="146.82" width="5.84" fill="#150b37"/>
<rect x="152.16" width="5.84" fill="#140b34"/>
<rect x="157.50" width="5.84" fill="#150b37"/>
<rect x="162.85" width="5.84" fill="#1c0c43"/>
<rect x="168.19" width="5.84" fill="#280b53"/>
<rect x="173.54" width="5.84" fill="#340a5f"/>
<rect x="178.88" width="5.84" fill="#3b0964"/>
<rect x="184.22" width="5.84" fill="#380962"/>
<rect x="189.57" width="5.84" fill="#3b0964"/>
<rect x="194.91" width="5.84" fill="#3d0965"/>
<rect x="200.26" width="5.84" fill="#3b0964"/>
<rect x="205.60" width="5.84" fill="#3b0964"/>
<rect x="210.94" width="5.84" fill="#400a67"/>
<rect x="216.29" width="5.84" fill="#3d0965"/>
<rect x="221.63" width="5.84" fill="#3e0966"/>
<rect x="226.98" width="5.84" fill="#3d0965"/>
<rect x="232.32" width="5.84" fill="#4f0d6c"/>
<rect x="237.66" width="5.84" fill="#64156e"/>
<rect x="243.01" width="5.84" fill="#7c1d6d"/>
<rect x="248.35" width="5.84" fill="#8a226a"/>
<rect x="253.70" width="5.84" fill="#9b2964"/>
<rect x="259.04" width="5.84" fill="#b0315b"/>
<rect x="264.38" width="5.84" fill="#bf3952"/>
<rect x="269.73" width="5.84" fill="#ca404a"/>
<rect x="275.07" width="5.84" fill="#d04545"/>
<rect x="280.42" width="5.84" fill="#ce4347"/>
<rect x="285.76" width="5.84" fill="#cf4446"/>
<rect x="291.10" width="5.84" fill="#cc4248"/>
<rect x="296.45" width="5.84" fill="#bf3952"/>
<rect x="301.79" width="5.84" fill="#bf3952"/>
<rect x="307.14" width="5.84" fill="#bf3952"/>
<rect x="312.48" width="5.84" fill="#ba3655"/>
<rect x="317.82" width="5.84" fill="#b93556"/>
<rect x="323.17" width="5.84" fill="#b43359"/>
<rect x="328.51" width="5.84" fill="#b73557"/>
<rect x="333.86" width="5.84" fill="#b3325a"/>
<rect x="339.20" width="5.84" fill="#b0315b"/>
<rect x="344.54" width="5.84" fill="#b0315b"/>
<rect x="349.89" width="5.84" fill="#a92e5e"/>
<rect x="355.23" width="5.84" fill="#8d2369"/>
<rect x="360.58" width="5.84" fill="#6f196e"/>
<rect x="365.92" width="5.84" fill="#4c0c6b"/>
<rect x="371.26" width="5.84" fill="#280b53"/>
<rect x="376.61" width="5.84" fill="#0e092b"/>
<rect x="381.95" width="5.84" fill="#050417"/>
<rect x="387.30" width="5.84" fill="#02020e"/>
<rect x="392.64" width="5.84" fill="#02020c"/>
<rect x="397.98" width="5.84" fill="#02020c"/>
<rect x="403.33" width="5.84" fill="#02010a"/>
<rect x="408.67" width="5.84" fill="#320a5e"/>
<rect x="414.02" width="5.84" fill="#390963"/>
<rect x="419.36" width="5.84" fill="#440a68"/>
<rect x="424.70" width="5.84" fill="#6d186e"/>
<rect x="430.05" width="5.84" fill="#9f2a63"/>
<rect x="435.39" width="5.84" fill="#d04545"/>
<rect x="440.74" width="5.84" fill="#f47918"/>
<rect x="446.08" width="5.84" fill="#f8cf3a"/>
<rect x="451.42" width="5.84" fill="#fcb014"/>
<rect x="456.77" width="5.84" fill="#ee6a24"/>
<rect x="462.11" width="5.84" fill="#8d2369"/>
<rect x="467.46" width="8.84" fill="#4c0c6b"/>
</g>
<g transform="translate(0 346.30)" style="--h:7.25px">
<rect x="69.00" width="8.84" fill="#2d0b59"/>
<rect x="77.34" width="5.84" fill="#2f0a5b"/>
<rect x="82.69" width="5.84" fill="#2d0b59"/>
<rect x="88.03" width="5.84" fill="#2d0b59"/>
<rect x="93.38" width="5.84" fill="#2f0a5b"/>
<rect x="98.72" width="5.84" fill="#310a5c"/>
<rect x="104.06" width="5.84" fill="#2d0b59"/>
<rect x="109.41" width="5.84" fill="#2d0b59"/>
<rect x="114.75" width="5.84" fill="#290b55"/>
<rect x="120.10" width="5.84" fill="#260c51"/>
<rect x="125.44" width="5.84" fill="#1f0c48"/>
<rect x="130.78" width="5.84" fill="#180c3c"/>
<rect x="136.13" width="5.84" fill="#160b39"/>
<rect x="141.47" width="5.84" fill="#140b34"/>
<rect x="146.82" width="5.84" fill="#140b34"/>
<rect x="152.16" width="5.84" fill="#140b34"/>
<rect x="157.50" width="5.84" fill="#150b37"/>
<rect x="162.85" width="5.84" fill="#1b0c41"/>
<rect x="168.19" width="5.84" fill="#280b53"/>
<rect x="173.54" width="5.84" fill="#320a5e"/>
<rect x="178.88" width="5.84" fill="#3b0964"/>
<rect x="184.22" width="5.84" fill="#3b0964"/>
<rect x="189.57" width="5.84" fill="#3d0965"/>
<rect x="194.91" width="5.84" fill="#3b0964"/>
<rect x="200.26" width="5.84" fill="#3b0964"/>
<rect x="205.60" width="5.84" fill="#3e0966"/>
<rect x="210.94" width="5.84" fill="#3e0966"/>
<rect x="216.29" width="5.84" fill="#3d0965"/>
<rect x="221.63" width="5.84" fill="#400a67"/>
<rect x="226.98" width="5.84" fill="#400a67"/>
<rect x="232.32" width="5.84" fill="#4f0d6c"/>
<rect x="237.66" width="5.84" fill="#65156e"/>
<rect x="243.01" width="5.84" fill="#7a1d6d"/>
<rect x="248.35" width="5.84" fill="#902568"/>
<rect x="253.70" width="5.84" fill="#a02a63"/>
<rect x="259.04" width="5.84" fill="#b63458"/>
<rect x="264.38" width="5.84" fill="#ba3655"/>
<rect x="269.73" width="5.84" fill="#c83f4b"/>
<rect x="275.07" width="5.84" fill="#ce4347"/>
<rect x="280.42" width="5.84" fill="#cf4446"/>
<rect x="285.76" width="5.84" fill="#cc4248"/>
<rect x="291.10" width="5.84" fill="#cb4149"/>
<rect x="296.45" width="5.84" fill="#c43c4e"/>
<rect x="301.79" width="5.84" fill="#bc3754"/>
<rect x="307.14" width="5.84" fill="#bd3853"/>
<rect x="312.48" width="5.84" fill="#bd3853"/>
<rect x="317.82" width="5.84" fill="#bc3754"/>
<rect x="323.17" width="5.84" fill="#b43359"/>
<rect x="328.51" width="5.84" fill="#b43359"/>
<rect x="333.86" width="5.84" fill="#b63458"/>
<rect x="339.20" width="5.84" fill="#b3325a"/>
<rect x="344.54" width="5.84" fill="#ae305c"/>
<rect x="349.89" width="5.84" fill="#a92e5e"/>
<rect x="355.23" width="5.84" fill="#8d2369"/>
<rect x="360.58" width="5.84" fill="#71196e"/>
<rect x="365.92" width="5.84" fill="#4f0d6c"/>
<rect x="371.26" width="5.84" fill="#260c51"/>
<rect x="376.61" width="5.84" fill="#0e092b"/>
<rect x="381.95" width="5.84" fill="#050417"/>
<rect x="387.30" width="5.84" fill="#02020e"/>
<rect x="392.64" width="5.84" fill="#02020c"/>
<rect x="397.98" width="5.84" fill="#02020c"/>
<rect x="403.33" width="5.84" fill="#02010a"/>
<rect x="408.67" width="5.84" fill="#320a5e"/>
<rect x="414.02" width="5.84" fill="#3b0964"/>
<rect x="419.36" width="5.84" fill="#450a69"/>
<rect x="424.70" width="5.84" fill="#71196e"/>
<rect x="430.05" width="5.84" fill="#9d2964"/>
<rect x="435.39" width="5.84" fill="#ce4347"/>
<rect x="440.74" width="5.84" fill="#f47918"/>
<rect x="446.08" width="5.84" fill="#fcae12"/>
<rect x="451.42" width="5.84" fill="#fca108"/>
<rect x="456.77" width="5.84" fill="#ef6e21"/>
<rect x="462.11" width="5.84" fill="#a62d60"/>
<rect x="467.46" width="8.84" fill="#4d0d6c"/>
</g>
<g transform="translate(0 353.05)" style="--h:7.25px">
<rect x="69.00" width="8.84" fill="#2b0b57"/>
<rect x="77.34" width="5.84" fill="#2f0a5b"/>
<rect x="82.69" width="5.84" fill="#2f0a5b"/>
<rect x="88.03" width="5.84" fill="#2b0b57"/>
<rect x="93.38" width="5.84" fill="#2f0a5b"/>
<rect x="98.72" width="5.84" fill="#2d0b59"/>
<rect x="104.06" width="5.84" fill="#2f0a5b"/>
<rect x="109.41" width="5.84" fill="#2d0b59"/>
<rect x="114.75" width="5.84" fill="#290b55"/>
<rect x="120.10" width="5.84" fill="#240c4f"/>
<rect x="125.44" width="5.84" fill="#1f0c48"/>
<rect x="130.78" width="5.84" fill="#180c3c"/>
<rect x="136.13" width="5.84" fill="#150b37"/>
<rect x="141.47" width="5.84" fill="#140b34"/>
<rect x="146.82" width="5.84" fill="#150b37"/>
<rect x="152.16" width="5.84" fill="#150b37"/>
<rect x="157.50" width="5.84" fill="#150b37"/>
<rect x="162.85" width="5.84" fill="#1b0c41"/>
<rect x="168.19" width="5.84" fill="#290b55"/>
<rect x="173.54" width="5.84" fill="#340a5f"/>
<rect x="178.88" width="5.84" fill="#390963"/>
<rect x="184.22" width="5.84" fill="#3b0964"/>
<rect x="189.57" width="5.84" fill="#3d0965"/>
<rect x="194.91" width="5.84" fill="#3b0964"/>
<rect x="200.26" width="5.84" fill="#3d0965"/>
<rect x="205.60" width="5.84" fill="#3d0965"/>
<rect x="210.94" width="5.84" fill="#3d0965"/>
<rect x="216.29" width="5.84" fill="#390963"/>
<rect x="221.63" width="5.84" fill="#3d0965"/>
<rect x="226.98" width="5.84" fill="#420a68"/>
<rect x="232.32" width="5.84" fill="#520e6d"/>
<rect x="237.66" width="5.84" fill="#65156e"/>
<rect x="243.01" width="5.84" fill="#7a1d6d"/>
<rect x="248.35" width="5.84" fill="#922568"/>
<rect x="253.70" width="5.84" fill="#a32c61"/>
<rect x="259.04" width="5.84" fill="#b63458"/>
<rect x="264.38" width="5.84" fill="#c43c4e"/>
<rect x="269.73" width="5.84" fill="#cc4248"/>
<rect x="275.07" width="5.84" fill="#d04545"/>
<rect x="280.42" width="5.84" fill="#ce4347"/>
<rect x="285.76" width="5.84" fill="#ce4347"/>
<rect x="291.10" width="5.84" fill="#cb4149"/>
<rect x="296.45" width="5.84" fill="#c73e4c"/>
<rect x="301.79" width="5.84" fill="#bd3853"/>
<rect x="307.14" width="5.84" fill="#c03a51"/>
<rect x="312.48" width="5.84" fill="#ba3655"/>
<rect x="317.82" width="5.84" fill="#bc3754"/>
<rect x="323.17" width="5.84" fill="#b73557"/>
<rect x="328.51" width="5.84" fill="#b93556"/>
<rect x="333.86" width="5.84" fill="#b43359"/>
<rect x="339.20" width="5.84" fill="#b73557"/>
<rect x="344.54" width="5.84" fill="#b3325a"/>
<rect x="349.89" width="5.84" fill="#a52c60"/>
<rect x="355.23" width="5.84" fill="#8c2369"/>
<rect x="360.58" width="5.84" fill="#71196e"/>
<rect x="365.92" width="5.84" fill="#4d0d6c"/>
<rect x="371.26" width="5.84" fill="#290b55"/>
<rect x="376.61" width="5.84" fill="#0d0829"/>
<rect x="381.95" width="5.84" fill="#050417"/>
<rect x="387.30" width="5.84" fill="#02020e"/>
<rect x="392.64" width="5.84" fill="#02020c"/>
<rect x="397.98" width="5.84" fill="#02020c"/>
<rect x="403.33" width="5.84" fill="#02010a"/>
<rect x="408.67" width="5.84" fill="#320a5e"/>
<rect x="414.02" width="5.84" fill="#3d0965"/>
<rect x="419.36" width="5.84" fill="#470b6a"/>
<rect x="424.70" width="5.84" fill="#6f196e"/>
<rect x="430.05" width="5.84" fill="#9f2a63"/>
<rect x="435.39" width="5.84" fill="#d04545"/>
<rect x="440.74" width="5.84" fill="#f68013"/>
<rect x="446.08" width="5.84" fill="#fac42a"/>
<rect x="451.42" width="5.84" fill="#f78410"/>
<rect x="456.77" width="5.84" fill="#da4e3c"/>
<rect x="462.11" width="5.84" fill="#9d2964"/>
<rect x="467.46" width="8.84" fill="#380962"/>
</g>
<g transform="translate(0 359.80)" style="--h:7.25px">
<rect x="69.00" width="8.84" fill="#2f0a5b"/>
<rect x="77.34" width="5.84" fill="#2d0b59"/>
<rect x="82.69" width="5.84" fill="#2f0a5b"/>
<rect x="88.03" width="5.84" fill="#2d0b59"/>
<rect x="93.38" width="5.84" fill="#2f0a5b"/>
<rect x="98.72" width="5.84" fill="#310a5c"/>
<rect x="104.06" width="5.84" fill="#310a5c"/>
<rect x="109.41" width="5.84" fill="#2b0b57"/>
<rect x="114.75" width="5.84" fill="#280b53"/>
<rect x="120.10" width="5.84" fill="#260c51"/>
<rect x="125.44" width="5.84" fill="#1e0c45"/>
<rect x="130.78" width="5.84" fill="#190c3e"/>
<rect x="136.13" width="5.84" fill="#150b37"/>
<rect x="141.47" width="5.84" fill="#150b37"/>
<rect x="146.82" width="5.84" fill="#150b37"/>
<rect x="152.16" width="5.84" fill="#150b37"/>
<rect x="157.50" width="5.84" fill="#150b37"/>
<rect x="162.85" width="5.84" fill="#1c0c43"/>
<rect x="168.19" width="5.84" fill="#290b55"/>
<rect x="173.54" width="5.84" fill="#340a5f"/>
<rect x="178.88" width="5.84" fill="#3d0965"/>
<rect x="184.22" width="5.84" fill="#3b0964"/>
<rect x="189.57" width="5.84" fill="#3e0966"/>
<rect x="194.91" width="5.84" fill="#3d0965"/>
<rect x="200.26" width="5.84" fill="#3b0964"/>
<rect x="205.60" width="5.84" fill="#3d0965"/>
<rect x="210.94" width="5.84" fill="#3e0966"/>
<rect x="216.29" width="5.84" fill="#3e0966"/>
<rect x="221.63" width="5.84" fill="#420a68"/>
<rect x="226.98" width="5.84" fill="#3b0964"/>
<rect x="232.32" width="5.84" fill="#520e6d"/>
<rect x="237.66" width="5.84" fill="#6a176e"/>
<rect x="243.01" width="5.84" fill="#7d1e6d"/>
<rect x="248.35" width="5.84" fill="#932667"/>
<rect x="253.70" width="5.84" fill="#a02a63"/>
<rect x="259.04" width="5.84" fill="#b43359"/>
<rect x="264.38" width="5.84" fill="#c03a51"/>
<rect x="269.73" width="5.84" fill="#cf4446"/>
<rect x="275.07" width="5.84" fill="#d34743"/>
<rect x="280.42" width="5.84" fill="#d24644"/>
<rect x="285.76" width="5.84" fill="#cc4248"/>
<rect x="291.10" width="5.84" fill="#cf4446"/>
<rect x="296.45" width="5.84" fill="#c43c4e"/>
<rect x="301.79" width="5.84" fill="#c03a51"/>
<rect x="307.14" width="5.84" fill="#c03a51"/>
<rect x="312.48" width="5.84" fill="#c03a51"/>
<rect x="317.82" width="5.84" fill="#bc3754"/>
<rect x="323.17" width="5.84" fill="#ba3655"/>
<rect x="328.51" width="5.84" fill="#b93556"/>
<rect x="333.86" width="5.84" fill="#b43359"/>
<rect x="339.20" width="5.84" fill="#b93556"/>
<rect x="344.54" width="5.84" fill="#b3325a"/>
<rect x="349.89" width="5.84" fill="#ae305c"/>
<rect x="355.23" width="5.84" fill="#922568"/>
<rect x="360.58" width="5.84" fill="#6f196e"/>
<rect x="365.92" width="5.84" fill="#4d0d6c"/>
<rect x="371.26" width="5.84" fill="#290b55"/>
<rect x="376.61" width="5.84" fill="#0e092b"/>
<rect x="381.95" width="5.84" fill="#050417"/>
<rect x="387.30" width="5.84" fill="#02020e"/>
<rect x="392.64" width="5.84" fill="#02020c"/>
<rect x="397.98" width="5.84" fill="#02020c"/>
<rect x="403.33" width="5.84" fill="#02010a"/>
<rect x="408.67" width="5.84" fill="#340a5f"/>
<rect x="414.02" width="5.84" fill="#3d0965"/>
<rect x="419.36" width="5.84" fill="#470b6a"/>
<rect x="424.70" width="5.84" fill="#751b6e"/>
<rect x="430.05" width="5.84" fill="#a22b62"/>
<rect x="435.39" width="5.84" fill="#ce4347"/>
<rect x="440.74" width="5.84" fill="#f98b0b"/>
<rect x="446.08" width="5.84" fill="#fcae12"/>
<rect x="451.42" width="5.84" fill="#fbb81d"/>
<rect x="456.77" width="5.84" fill="#eb6429"/>
<rect x="462.11" width="5.84" fill="#a82e5f"/>
<rect x="467.46" width="8.84" fill="#290b55"/>
</g>
<g transform="translate(0 366.55)" style="--h:7.25px">
<rect x="69.00" width="8.84" fill="#2d0b59"/>
<rect x="77.34" width="5.84" fill="#2b0b57"/>
<rect x="82.69" width="5.84" fill="#2d0b59"/>
<rect x="88.03" width="5.84" fill="#2b0b57"/>
<rect x="93.38" width="5.84" fill="#2b0b57"/>
<rect x="98.72" width="5.84" fill="#2f0a5b"/>
<rect x="104.06" width="5.84" fill="#2d0b59"/>
<rect x="109.41" width="5.84" fill="#2b0b57"/>
<rect x="114.75" width="5.84" fill="#290b55"/>
<rect x="120.10" width="5.84" fill="#240c4f"/>
<rect x="125.44" width="5.84" fill="#1c0c43"/>
<rect x="130.78" width="5.84" fill="#160b39"/>
<rect x="136.13" width="5.84" fill="#150b37"/>
<rect x="141.47" width="5.84" fill="#150b37"/>
<rect x="146.82" width="5.84" fill="#150b37"/>
<rect x="152.16" width="5.84" fill="#140b34"/>
<rect x="157.50" width="5.84" fill="#140b34"/>
<rect x="162.85" width="5.84" fill="#1c0c43"/>
<rect x="168.19" width="5.84" fill="#280b53"/>
<rect x="173.54" width="5.84" fill="#340a5f"/>
<rect x="178.88" width="5.84" fill="#380962"/>
<rect x="184.22" width="5.84" fill="#3d0965"/>
<rect x="189.57" width="5.84" fill="#3b0964"/>
<rect x="194.91" width="5.84" fill="#3d0965"/>
<rect x="200.26" width="5.84" fill="#3d0965"/>
<rect x="205.60" width="5.84" fill="#3b0964"/>
<rect x="210.94" width="5.84" fill="#3b0964"/>
<rect x="216.29" width="5.84" fill="#400a67"/>
<rect x="221.63" width="5.84" fill="#380962"/>
<rect x="226.98" width="5.84" fill="#400a67"/>
<rect x="232.32" width="5.84" fill="#4f0d6c"/>
<rect x="237.66" width="5.84" fill="#62146e"/>
<rect x="243.01" width="5.84" fill="#7d1e6d"/>
<rect x="248.35" width="5.84" fill="#8d2369"/>
<rect x="253.70" width="5.84" fill="#9b2964"/>
<rect x="259.04" width="5.84" fill="#b0315b"/>
<rect x="264.38" width="5.84" fill="#c03a51"/>
<rect x="269.73" width="5.84" fill="#ca404a"/>
<rect x="275.07" width="5.84" fill="#cc4248"/>
<rect x="280.42" width="5.84" fill="#cf4446"/>
<rect x="285.76" width="5.84" fill="#ce4347"/>
<rect x="291.10" width="5.84" fill="#ce4347"/>
<rect x="296.45" width="5.84" fill="#c33b4f"/>
<rect x="301.79" width="5.84" fill="#c03a51"/>
<rect x="307.14" width="5.84" fill="#b93556"/>
<rect x="312.48" width="5.84" fill="#b93556"/>
<rect x="317.82" width="5.84" fill="#b43359"/>
<rect x="323.17" width="5.84" fill="#b63458"/>
<rect x="328.51" width="5.84" fill="#b63458"/>
<rect x="333.86" width="5.84" fill="#b43359"/>
<rect x="339.20" width="5.84" fill="#b0315b"/>
<rect x="344.54" width="5.84" fill="#b1325a"/>
<rect x="349.89" width="5.84" fill="#a32c61"/>
<rect x="355.23" width="5.84" fill="#8a226a"/>
<rect x="360.58" width="5.84" fill="#67166e"/>
<rect x="365.92" width="5.84" fill="#4d0d6c"/>
<rect x="371.26" width="5.84" fill="#280b53"/>
<rect x="376.61" width="5.84" fill="#0d0829"/>
<rect x="381.95" width="5.84" fill="#050417"/>
<rect x="387.30" width="5.84" fill="#02020e"/>
<rect x="392.64" width="5.84" fill="#02020c"/>
<rect x="397.98" width="5.84" fill="#02020c"/>
<rect x="403.33" width="5.84" fill="#02010a"/>
<rect x="408.67" width="5.84" fill="#320a5e"/>
<rect x="414.02" width="5.84" fill="#380962"/>
<rect x="419.36" width="5.84" fill="#420a68"/>
<rect x="424.70" width="5.84" fill="#6d186e"/>
<rect x="430.05" width="5.84" fill="#a02a63"/>
<rect x="435.39" width="5.84" fill="#d04545"/>
<rect x="440.74" width="5.84" fill="#f98b0b"/>
<rect x="446.08" width="5.84" fill="#fcaa0f"/>
<rect x="451.42" width="5.84" fill="#fcb216"/>
<rect x="456.77" width="5.84" fill="#ea632a"/>
<rect x="462.11" width="5.84" fill="#902568"/>
<rect x="467.46" width="8.84" fill="#540f6d"/>
</g>
<g transform="translate(0 373.30)" style="--h:7.25px">
<rect x="69.00" width="8.84" fill="#2b0b57"/>
<rect x="77.34" width="5.84" fill="#2d0b59"/>
<rect x="82.69" width="5.84" fill="#2d0b59"/>
<rect x="88.03" width="5.84" fill="#2b0b57"/>
<rect x="93.38" width="5.84" fill="#2d0b59"/>
<rect x="98.72" width="5.84" fill="#2f0a5b"/>
<rect x="104.06" width="5.84" fill="#2f0a5b"/>
<rect x="109.41" width="5.84" fill="#2d0b59"/>
<rect x="114.75" width="5.84" fill="#280b53"/>
<rect x="120.10" width="5.84" fill="#240c4f"/>
<rect x="125.44" width="5.84" fill="#1e0c45"/>
<rect x="130.78" width="5.84" fill="#160b39"/>
<rect x="136.13" width="5.84" fill="#150b37"/>
<rect x="141.47" width="5.84" fill="#140b34"/>
<rect x="146.82" width="5.84" fill="#140b34"/>
<rect x="152.16" width="5.84" fill="#140b34"/>
<rect x="157.50" width="5.84" fill="#150b37"/>
<rect x="162.85" width="5.84" fill="#1c0c43"/>
<rect x="168.19" width="5.84" fill="#280b53"/>
<rect x="173.54" width="5.84" fill="#360961"/>
<rect x="178.88" width="5.84" fill="#380962"/>
<rect x="184.22" width="5.84" fill="#3e0966"/>
<rect x="189.57" width="5.84" fill="#390963"/>
<rect x="194.91" width="5.84" fill="#390963"/>
<rect x="200.26" width="5.84" fill="#3b0964"/>
<rect x="205.60" width="5.84" fill="#3b0964"/>
<rect x="210.94" width="5.84" fill="#3d0965"/>
<rect x="216.29" width="5.84" fill="#3d0965"/>
<rect x="221.63" width="5.84" fill="#3e0966"/>
<rect x="226.98" width="5.84" fill="#400a67"/>
<rect x="232.32" width="5.84" fill="#4d0d6c"/>
<rect x="237.66" width="5.84" fill="#69166e"/>
<rect x="243.01" width="5.84" fill="#7d1e6d"/>
<rect x="248.35" width="5.84" fill="#8f2469"/>
<rect x="253.70" width="5.84" fill="#a22b62"/>
<rect x="259.04" width="5.84" fill="#b1325a"/>
<rect x="264.38" width="5.84" fill="#c33b4f"/>
<rect x="269.73" width="5.84" fill="#c83f4b"/>
<rect x="275.07" width="5.84" fill="#d24644"/>
<rect x="280.42" width="5.84" fill="#ce4347"/>
<rect x="285.76" width="5.84" fill="#cf4446"/>
<rect x="291.10" width="5.84" fill="#cb4149"/>
<rect x="296.45" width="5.84" fill="#c73e4c"/>
<rect x="301.79" width="5.84" fill="#bf3952"/>
<rect x="307.14" width="5.84" fill="#bd3853"/>
<rect x="312.48" width="5.84" fill="#b93556"/>
<rect x="317.82" width="5.84" fill="#b63458"/>
<rect x="323.17" width="5.84" fill="#b93556"/>
<rect x="328.51" width="5.84" fill="#ba3655"/>
<rect x="333.86" width="5.84" fill="#b63458"/>
<rect x="339.20" width="5.84" fill="#b0315b"/>
<rect x="344.54" width="5.84" fill="#b43359"/>
<rect x="349.89" width="5.84" fill="#a62d60"/>
<rect x="355.23" width="5.84" fill="#8f2469"/>
<rect x="360.58" width="5.84" fill="#6d186e"/>
<rect x="365.92" width="5.84" fill="#4c0c6b"/>
<rect x="371.26" width="5.84" fill="#280b53"/>
<rect x="376.61" width="5.84" fill="#0d0829"/>
<rect x="381.95" width="5.84" fill="#050417"/>
<rect x="387.30" width="5.84" fill="#02020e"/>
<rect x="392.64" width="5.84" fill="#02020c"/>
<rect x="397.98" width="5.84" fill="#02020c"/>
<rect x="403.33" width="5.84" fill="#02010a"/>
<rect x="408.67" width="5.84" fill="#340a5f"/>
<rect x="414.02" width="5.84" fill="#390963"/>
<rect x="419.36" width="5.84" fill="#420a68"/>
<rect x="424.70" width="5.84" fill="#721a6e"/>
<rect x="430.05" width="5.84" fill="#a22b62"/>
<rect x="435.39" width="5.84" fill="#d24644"/>
<rect x="440.74" width="5.84" fill="#f1711f"/>
<rect x="446.08" width="5.84" fill="#f7d340"/>
<rect x="451.42" width="5.84" fill="#fcae12"/>
<rect x="456.77" width="5.84" fill="#ef6e21"/>
<rect x="462.11" width="5.84" fill="#a62d60"/>
<rect x="467.46" width="8.84" fill="#3b0964"/>
</g>
<g transform="translate(0 380.05)" style="--h:7.25px">
<rect x="69.00" width="8.84" fill="#2f0a5b"/>
<rect x="77.34" width="5.84" fill="#2f0a5b"/>
<rect x="82.69" width="5.84" fill="#2f0a5b"/>
<rect x="88.03" width="5.84" fill="#2f0a5b"/>
<rect x="93.38" width="5.84" fill="#2d0b59"/>
<rect x="98.72" width="5.84" fill="#2d0b59"/>
<rect x="104.06" width="5.84" fill="#2d0b59"/>
<rect x="109.41" width="5.84" fill="#2b0b57"/>
<rect x="114.75" width="5.84" fill="#280b53"/>
<rect x="120.10" width="5.84" fill="#240c4f"/>
<rect x="125.44" width="5.84" fill="#1e0c45"/>
<rect x="130.78" width="5.84" fill="#160b39"/>
<rect x="136.13" width="5.84" fill="#150b37"/>
<rect x="141.47" width="5.84" fill="#140b34"/>
<rect x="146.82" width="5.84" fill="#150b37"/>
<rect x="152.16" width="5.84" fill="#150b37"/>
<rect x="157.50" width="5.84" fill="#140b34"/>
<rect x="162.85" width="5.84" fill="#1b0c41"/>
<rect x="168.19" width="5.84" fill="#280b53"/>
<rect x="173.54" width="5.84" fill="#360961"/>
<rect x="178.88" width="5.84" fill="#3b0964"/>
<rect x="184.22" width="5.84" fill="#3b0964"/>
<rect x="189.57" width="5.84" fill="#3d0965"/>
<rect x="194.91" width="5.84" fill="#390963"/>
<rect x="200.26" width="5.84" fill="#3b0964"/>
<rect x="205.60" width="5.84" fill="#3e0966"/>
<rect x="210.94" width="5.84" fill="#400a67"/>
<rect x="216.29" width="5.84" fill="#400a67"/>
<rect x="221.63" width="5.84" fill="#3e0966"/>
<rect x="226.98" width="5.84" fill="#400a67"/>
<rect x="232.32" width="5.84" fill="#4c0c6b"/>
<rect x="237.66" width="5.84" fill="#64156e"/>
<rect x="243.01" width="5.84" fill="#7c1d6d"/>
<rect x="248.35" width="5.84" fill="#922568"/>
<rect x="253.70" width="5.84" fill="#a22b62"/>
<rect x="259.04" width="5.84" fill="#b3325a"/>
<rect x="264.38" width="5.84" fill="#bf3952"/>
<rect x="269.73" width="5.84" fill="#cc4248"/>
<rect x="275.07" width="5.84" fill="#d04545"/>
<rect x="280.42" width="5.84" fill="#d04545"/>
<rect x="285.76" width="5.84" fill="#ce4347"/>
<rect x="291.10" width="5.84" fill="#d24644"/>
<rect x="296.45" width="5.84" fill="#c33b4f"/>
<rect x="301.79" width="5.84" fill="#c03a51"/>
<rect x="307.14" width="5.84" fill="#ba3655"/>
<rect x="312.48" width="5.84" fill="#b93556"/>
<rect x="317.82" width="5.84" fill="#bc3754"/>
<rect x="323.17" width="5.84" fill="#b93556"/>
<rect x="328.51" width="5.84" fill="#b63458"/>
<rect x="333.86" width="5.84" fill="#b63458"/>
<rect x="339.20" width="5.84" fill="#ba3655"/>
<rect x="344.54" width="5.84" fill="#b0315b"/>
<rect x="349.89" width="5.84" fill="#a82e5f"/>
<rect x="355.23" width="5.84" fill="#922568"/>
<rect x="360.58" width="5.84" fill="#6f196e"/>
<rect x="365.92" width="5.84" fill="#520e6d"/>
<rect x="371.26" width="5.84" fill="#260c51"/>
<rect x="376.61" width="5.84" fill="#0e092b"/>
<rect x="381.95" width="5.84" fill="#050417"/>
<rect x="387.30" width="5.84" fill="#02020e"/>
<rect x="392.64" width="5.84" fill="#02020c"/>
<rect x="397.98" width="5.84" fill="#02020c"/>
<rect x="403.33" width="5.84" fill="#02010a"/>
<rect x="408.67" width="5.84" fill="#360961"/>
<rect x="414.02" width="5.84" fill="#390963"/>
<rect x="419.36" width="5.84" fill="#440a68"/>
<rect x="424.70" width="5.84" fill="#771c6d"/>
<rect x="430.05" width="5.84" fill="#a32c61"/>
<rect x="435.39" width="5.84" fill="#d34743"/>
<rect x="440.74" width="5.84" fill="#f8870e"/>
<rect x="446.08" width="5.84" fill="#f7d340"/>
<rect x="451.42" width="5.84" fill="#fb9d07"/>
<rect x="456.77" width="5.84" fill="#dd513a"/>
<rect x="462.11" width="5.84" fill="#7f1e6c"/>
<rect x="467.46" width="8.84" fill="#260c51"/>
</g>
<g transform="translate(0 386.80)" style="--h:9.00px">
<rect x="69.00" width="8.84" fill="#2d0b59"/>
<rect x="77.34" width="5.84" fill="#2b0b57"/>
<rect x="82.69" width="5.84" fill="#2b0b57"/>
<rect x="88.03" width="5.84" fill="#2d0b59"/>
<rect x="93.38" width="5.84" fill="#2d0b59"/>
<rect x="98.72" width="5.84" fill="#2f0a5b"/>
<rect x="104.06" width="5.84" fill="#2b0b57"/>
<rect x="109.41" width="5.84" fill="#2b0b57"/>
<rect x="114.75" width="5.84" fill="#280b53"/>
<rect x="120.10" width="5.84" fill="#240c4f"/>
<rect x="125.44" width="5.84" fill="#1e0c45"/>
<rect x="130.78" width="5.84" fill="#180c3c"/>
<rect x="136.13" width="5.84" fill="#160b39"/>
<rect x="141.47" width="5.84" fill="#160b39"/>
<rect x="146.82" width="5.84" fill="#150b37"/>
<rect x="152.16" width="5.84" fill="#150b37"/>
<rect x="157.50" width="5.84" fill="#150b37"/>
<rect x="162.85" width="5.84" fill="#1c0c43"/>
<rect x="168.19" width="5.84" fill="#280b53"/>
<rect x="173.54" width="5.84" fill="#340a5f"/>
<rect x="178.88" width="5.84" fill="#3d0965"/>
<rect x="184.22" width="5.84" fill="#3d0965"/>
<rect x="189.57" width="5.84" fill="#3b0964"/>
<rect x="194.91" width="5.84" fill="#390963"/>
<rect x="200.26" width="5.84" fill="#3b0964"/>
<rect x="205.60" width="5.84" fill="#400a67"/>
<rect x="210.94" width="5.84" fill="#400a67"/>
<rect x="216.29" width="5.84" fill="#3d0965"/>
<rect x="221.63" width="5.84" fill="#3e0966"/>
<rect x="226.98" width="5.84" fill="#420a68"/>
<rect x="232.32" width="5.84" fill="#520e6d"/>
<rect x="237.66" width="5.84" fill="#64156e"/>
<rect x="243.01" width="5.84" fill="#7c1d6d"/>
<rect x="248.35" width="5.84" fill="#8f2469"/>
<rect x="253.70" width="5.84" fill="#9f2a63"/>
<rect x="259.04" width="5.84" fill="#b73557"/>
<rect x="264.38" width="5.84" fill="#bc3754"/>
<rect x="269.73" width="5.84" fill="#cc4248"/>
<rect x="275.07" width="5.84" fill="#d24644"/>
<rect x="280.42" width="5.84" fill="#d04545"/>
<rect x="285.76" width="5.84" fill="#cf4446"/>
<rect x="291.10" width="5.84" fill="#c83f4b"/>
<rect x="296.45" width="5.84" fill="#c43c4e"/>
<rect x="301.79" width="5.84" fill="#bf3952"/>
<rect x="307.14" width="5.84" fill="#bd3853"/>
<rect x="312.48" width="5.84" fill="#b93556"/>
<rect x="317.82" width="5.84" fill="#ba3655"/>
<rect x="323.17" width="5.84" fill="#b73557"/>
<rect x="328.51" width="5.84" fill="#ba3655"/>
<rect x="333.86" width="5.84" fill="#b43359"/>
<rect x="339.20" width="5.84" fill="#b43359"/>
<rect x="344.54" width="5.84" fill="#b1325a"/>
<rect x="349.89" width="5.84" fill="#a82e5f"/>
<rect x="355.23" width="5.84" fill="#922568"/>
<rect x="360.58" width="5.84" fill="#741a6e"/>
<rect x="365.92" width="5.84" fill="#4d0d6c"/>
<rect x="371.26" width="5.84" fill="#260c51"/>
<rect x="376.61" width="5.84" fill="#0e092b"/>
<rect x="381.95" width="5.84" fill="#050417"/>
<rect x="387.30" width="5.84" fill="#02020e"/>
<rect x="392.64" width="5.84" fill="#02020c"/>
<rect x="397.98" width="5.84" fill="#02020c"/>
<rect x="403.33" width="5.84" fill="#02010a"/>
<rect x="408.67" width="5.84" fill="#360961"/>
<rect x="414.02" width="5.84" fill="#3b0964"/>
<rect x="419.36" width="5.84" fill="#450a69"/>
<rect x="424.70" width="5.84" fill="#771c6d"/>
<rect x="430.05" width="5.84" fill="#a22b62"/>
<rect x="435.39" width="5.84" fill="#d54a41"/>
<rect x="440.74" width="5.84" fill="#f98e09"/>
<rect x="446.08" width="5.84" fill="#fbb61a"/>
<rect x="451.42" width="5.84" fill="#fa9407"/>
<rect x="456.77" width="5.84" fill="#f1731d"/>
<rect x="462.11" width="5.84" fill="#7c1d6d"/>
<rect x="467.46" width="8.84" fill="#3b0964"/>
</g>
</g></g>
<rect x="71.40" y="18.60" width="400.90" height="373.70" fill="none" stroke="#111" stroke-width="1.2"/>
<line x1="71.65" x2="472.3" y1="21.70" y2="21.70" stroke="#f6efff" stroke-opacity="0.9" stroke-width="2" stroke-dasharray="5.5 2.15"/>
<line x1="71.65" x2="472.3" y1="151.00" y2="151.00" stroke="#f6efff" stroke-opacity="0.9" stroke-width="2" stroke-dasharray="5.5 2.15"/>
<line x1="71.65" x2="472.3" y1="194.80" y2="194.80" stroke="#f6efff" stroke-opacity="0.9" stroke-width="2" stroke-dasharray="5.5 2.15"/>
<line x1="71.65" x2="472.3" y1="333.60" y2="333.60" stroke="#f6efff" stroke-opacity="0.9" stroke-width="2" stroke-dasharray="5.5 2.15"/>
<line x1="71.4" x2="472.8" y1="62.2" y2="62.2" stroke="#d0203a" stroke-opacity="0.9" stroke-width="2.2"/>
<line x1="67.90" x2="71.40" y1="18.60" y2="18.60" stroke="#333" stroke-width="0.9"/>
<line x1="69.40" x2="71.40" y1="31.19" y2="31.19" stroke="#333" stroke-width="0.9"/>
<line x1="69.40" x2="71.40" y1="43.77" y2="43.77" stroke="#333" stroke-width="0.9"/>
<line x1="69.40" x2="71.40" y1="56.36" y2="56.36" stroke="#333" stroke-width="0.9"/>
<line x1="69.40" x2="71.40" y1="68.94" y2="68.94" stroke="#333" stroke-width="0.9"/>
<line x1="67.90" x2="71.40" y1="81.53" y2="81.53" stroke="#333" stroke-width="0.9"/>
<line x1="69.40" x2="71.40" y1="94.12" y2="94.12" stroke="#333" stroke-width="0.9"/>
<line x1="69.40" x2="71.40" y1="106.70" y2="106.70" stroke="#333" stroke-width="0.9"/>
<line x1="69.40" x2="71.40" y1="119.29" y2="119.29" stroke="#333" stroke-width="0.9"/>
<line x1="69.40" x2="71.40" y1="131.87" y2="131.87" stroke="#333" stroke-width="0.9"/>
<line x1="67.90" x2="71.40" y1="144.46" y2="144.46" stroke="#333" stroke-width="0.9"/>
<line x1="69.40" x2="71.40" y1="157.05" y2="157.05" stroke="#333" stroke-width="0.9"/>
<line x1="69.40" x2="71.40" y1="169.63" y2="169.63" stroke="#333" stroke-width="0.9"/>
<line x1="69.40" x2="71.40" y1="182.22" y2="182.22" stroke="#333" stroke-width="0.9"/>
<line x1="69.40" x2="71.40" y1="194.80" y2="194.80" stroke="#333" stroke-width="0.9"/>
<line x1="67.90" x2="71.40" y1="207.39" y2="207.39" stroke="#333" stroke-width="0.9"/>
<line x1="69.40" x2="71.40" y1="219.98" y2="219.98" stroke="#333" stroke-width="0.9"/>
<line x1="69.40" x2="71.40" y1="232.56" y2="232.56" stroke="#333" stroke-width="0.9"/>
<line x1="69.40" x2="71.40" y1="245.15" y2="245.15" stroke="#333" stroke-width="0.9"/>
<line x1="69.40" x2="71.40" y1="257.73" y2="257.73" stroke="#333" stroke-width="0.9"/>
<line x1="67.90" x2="71.40" y1="270.32" y2="270.32" stroke="#333" stroke-width="0.9"/>
<line x1="69.40" x2="71.40" y1="282.91" y2="282.91" stroke="#333" stroke-width="0.9"/>
<line x1="69.40" x2="71.40" y1="295.49" y2="295.49" stroke="#333" stroke-width="0.9"/>
<line x1="69.40" x2="71.40" y1="308.08" y2="308.08" stroke="#333" stroke-width="0.9"/>
<line x1="69.40" x2="71.40" y1="320.66" y2="320.66" stroke="#333" stroke-width="0.9"/>
<line x1="67.90" x2="71.40" y1="333.25" y2="333.25" stroke="#333" stroke-width="0.9"/>
<line x1="69.40" x2="71.40" y1="345.84" y2="345.84" stroke="#333" stroke-width="0.9"/>
<line x1="69.40" x2="71.40" y1="358.42" y2="358.42" stroke="#333" stroke-width="0.9"/>
<line x1="69.40" x2="71.40" y1="371.01" y2="371.01" stroke="#333" stroke-width="0.9"/>
<line x1="69.40" x2="71.40" y1="383.59" y2="383.59" stroke="#333" stroke-width="0.9"/>
<line x1="472.80" x2="472.80" y1="392.30" y2="394.30" stroke="#333" stroke-width="0.8"/>
<line x1="459.44" x2="459.44" y1="392.30" y2="394.30" stroke="#333" stroke-width="0.8"/>
<line x1="446.08" x2="446.08" y1="392.30" y2="394.30" stroke="#333" stroke-width="0.8"/>
<line x1="432.72" x2="432.72" y1="392.30" y2="394.30" stroke="#333" stroke-width="0.8"/>
<line x1="419.36" x2="419.36" y1="392.30" y2="394.30" stroke="#333" stroke-width="0.8"/>
<line x1="406.00" x2="406.00" y1="392.30" y2="394.30" stroke="#333" stroke-width="0.8"/>
<line x1="392.64" x2="392.64" y1="392.30" y2="394.30" stroke="#333" stroke-width="0.8"/>
<line x1="379.28" x2="379.28" y1="392.30" y2="394.30" stroke="#333" stroke-width="0.8"/>
<line x1="365.92" x2="365.92" y1="392.30" y2="394.30" stroke="#333" stroke-width="0.8"/>
<line x1="352.56" x2="352.56" y1="392.30" y2="394.30" stroke="#333" stroke-width="0.8"/>
<line x1="339.20" x2="339.20" y1="392.30" y2="394.30" stroke="#333" stroke-width="0.8"/>
<line x1="325.84" x2="325.84" y1="392.30" y2="394.30" stroke="#333" stroke-width="0.8"/>
<line x1="312.48" x2="312.48" y1="392.30" y2="394.30" stroke="#333" stroke-width="0.8"/>
<line x1="299.12" x2="299.12" y1="392.30" y2="394.30" stroke="#333" stroke-width="0.8"/>
<line x1="285.76" x2="285.76" y1="392.30" y2="394.30" stroke="#333" stroke-width="0.8"/>
<line x1="272.40" x2="272.40" y1="392.30" y2="394.30" stroke="#333" stroke-width="0.8"/>
<line x1="259.04" x2="259.04" y1="392.30" y2="394.30" stroke="#333" stroke-width="0.8"/>
<line x1="245.68" x2="245.68" y1="392.30" y2="394.30" stroke="#333" stroke-width="0.8"/>
<line x1="232.32" x2="232.32" y1="392.30" y2="394.30" stroke="#333" stroke-width="0.8"/>
<line x1="218.96" x2="218.96" y1="392.30" y2="394.30" stroke="#333" stroke-width="0.8"/>
<line x1="205.60" x2="205.60" y1="392.30" y2="394.30" stroke="#333" stroke-width="0.8"/>
<line x1="192.24" x2="192.24" y1="392.30" y2="394.30" stroke="#333" stroke-width="0.8"/>
<line x1="178.88" x2="178.88" y1="392.30" y2="394.30" stroke="#333" stroke-width="0.8"/>
<line x1="165.52" x2="165.52" y1="392.30" y2="394.30" stroke="#333" stroke-width="0.8"/>
<line x1="152.16" x2="152.16" y1="392.30" y2="394.30" stroke="#333" stroke-width="0.8"/>
<line x1="138.80" x2="138.80" y1="392.30" y2="394.30" stroke="#333" stroke-width="0.8"/>
<line x1="125.44" x2="125.44" y1="392.30" y2="394.30" stroke="#333" stroke-width="0.8"/>
<line x1="112.08" x2="112.08" y1="392.30" y2="394.30" stroke="#333" stroke-width="0.8"/>
<line x1="98.72" x2="98.72" y1="392.30" y2="394.30" stroke="#333" stroke-width="0.8"/>
<line x1="85.36" x2="85.36" y1="392.30" y2="394.30" stroke="#333" stroke-width="0.8"/>
<line x1="72.00" x2="72.00" y1="392.30" y2="394.30" stroke="#333" stroke-width="0.8"/>
<rect x="65.5" y="12" width="31.3" height="34.3" fill="#fff"/>
<rect x="407.3" y="364.4" width="54.4" height="28.0" fill="#fff"/>
<text transform="translate(51.87 26.80) scale(1.0146 1)" font-family="Liberation Serif" font-size="25.60" fill="#000">0</text>
<text transform="translate(24.31 89.73) scale(1.0586 1)" font-family="Liberation Serif" font-size="25.60" fill="#000">100</text>
<text transform="translate(24.20 152.66) scale(1.0615 1)" font-family="Liberation Serif" font-size="25.60" fill="#000">200</text>
<text transform="translate(24.43 215.59) scale(1.0555 1)" font-family="Liberation Serif" font-size="25.60" fill="#000">300</text>
<text transform="translate(24.12 278.52) scale(1.0635 1)" font-family="Liberation Serif" font-size="25.60" fill="#000">400</text>
<text transform="translate(24.23 341.45) scale(1.0608 1)" font-family="Liberation Serif" font-size="25.60" fill="#000">500</text>
<text transform="translate(48.24 415.30) scale(1.0744 1)" font-family="Liberation Serif" font-size="25.24" fill="#000">15.0</text>
<text transform="translate(115.05 415.30) scale(1.0611 1)" font-family="Liberation Serif" font-size="25.43" fill="#000">12.5</text>
<text transform="translate(181.84 415.30) scale(1.0744 1)" font-family="Liberation Serif" font-size="25.24" fill="#000">10.0</text>
<text transform="translate(255.31 415.30) scale(1.0672 1)" font-family="Liberation Serif" font-size="25.28" fill="#000">7.5</text>
<text transform="translate(322.24 415.30) scale(1.0717 1)" font-family="Liberation Serif" font-size="25.24" fill="#000">5.0</text>
<text transform="translate(389.02 415.30) scale(1.0572 1)" font-family="Liberation Serif" font-size="25.43" fill="#000">2.5</text>
<text transform="translate(455.95 415.30) scale(1.0680 1)" font-family="Liberation Serif" font-size="25.24" fill="#000">0.0</text>
<text transform="translate(164.29 439.60) scale(1.1228 1)" font-family="Liberation Serif" font-size="23.18" fill="#000">Binding energy (eV)</text>
<text transform="translate(15.90 249.92) rotate(-90) scale(1.0925 1)" font-family="Liberation Serif" font-size="23.86" fill="#000">Time (s)</text>
<text transform="translate(71.54 37.28) scale(1.2894 1)" font-family="Liberation Serif" font-size="21.27" fill="#000">a)</text>
<text transform="translate(413.42 383.11) scale(1.2464 1)" font-family="Liberation Sans" font-size="20.45" fill="#000">×15</text>
<g stroke="#1010f0" stroke-width="1.7" fill="none" stroke-linecap="butt" stroke-linejoin="round"><line x1="483.8" y1="19.0" x2="498.6" y2="19.0"/><polyline points="487.6,15.1 483.6,19.0 487.6,22.9"/></g>
<g stroke="#000" stroke-width="1.7" fill="none" stroke-linecap="butt" stroke-linejoin="round"><line x1="483.8" y1="58.2" x2="498.6" y2="58.2"/><polyline points="487.6,54.3 483.6,58.2 487.6,62.1"/></g>
<g stroke="#f5a516" stroke-width="1.7" fill="none" stroke-linecap="butt" stroke-linejoin="round"><line x1="483.8" y1="148.2" x2="498.6" y2="148.2"/><polyline points="487.6,144.3 483.6,148.2 487.6,152.1"/></g>
<g stroke="#e8161e" stroke-width="1.7" fill="none" stroke-linecap="butt" stroke-linejoin="round"><line x1="483.8" y1="192.3" x2="498.6" y2="192.3"/><polyline points="487.6,188.4 483.6,192.3 487.6,196.2"/></g>
<g stroke="#861086" stroke-width="1.7" fill="none" stroke-linecap="butt" stroke-linejoin="round"><line x1="483.8" y1="330.8" x2="498.6" y2="330.8"/><polyline points="487.6,326.9 483.6,330.8 487.6,334.7"/></g>
<text transform="translate(477.85 49.85) scale(1.1178 1)" font-family="Liberation Serif" font-size="22.95" fill="#1010f0">(1)</text>
<text transform="translate(477.85 179.35) scale(1.1178 1)" font-family="Liberation Serif" font-size="22.95" fill="#f5a516">(2)</text>
<text transform="translate(477.85 223.45) scale(1.1178 1)" font-family="Liberation Serif" font-size="22.95" fill="#e8161e">(3)</text>
<text transform="translate(477.85 361.65) scale(1.1178 1)" font-family="Liberation Serif" font-size="22.95" fill="#861086">(4)</text>
<rect x="71.70" y="468.80" width="400.60" height="373.10" fill="none" stroke="#333" stroke-width="1.0"/>
<line x1="68.2" x2="71.7" y1="825.30" y2="825.30" stroke="#444" stroke-width="1"/>
<text transform="translate(31.22 833.50) scale(1.0529 1)" font-family="Liberation Serif" font-size="25.60" fill="#000">0.0</text>
<line x1="68.2" x2="71.7" y1="757.16" y2="757.16" stroke="#444" stroke-width="1"/>
<text transform="translate(31.23 765.36) scale(1.0447 1)" font-family="Liberation Serif" font-size="25.60" fill="#000">0.2</text>
<line x1="68.2" x2="71.7" y1="689.02" y2="689.02" stroke="#444" stroke-width="1"/>
<text transform="translate(31.24 697.22) scale(1.0415 1)" font-family="Liberation Serif" font-size="25.60" fill="#000">0.4</text>
<line x1="68.2" x2="71.7" y1="620.88" y2="620.88" stroke="#444" stroke-width="1"/>
<text transform="translate(31.23 629.08) scale(1.0476 1)" font-family="Liberation Serif" font-size="25.60" fill="#000">0.6</text>
<line x1="68.2" x2="71.7" y1="552.74" y2="552.74" stroke="#444" stroke-width="1"/>
<text transform="translate(31.22 560.94) scale(1.0529 1)" font-family="Liberation Serif" font-size="25.60" fill="#000">0.8</text>
<line x1="68.2" x2="71.7" y1="484.60" y2="484.60" stroke="#444" stroke-width="1"/>
<text transform="translate(31.20 492.80) scale(1.0538 1)" font-family="Liberation Serif" font-size="25.60" fill="#000">1.0</text>
<line x1="447.30" x2="447.30" y1="841.90" y2="845.40" stroke="#444" stroke-width="1"/>
<line x1="422.26" x2="422.26" y1="841.90" y2="843.90" stroke="#444" stroke-width="1"/>
<line x1="397.22" x2="397.22" y1="841.90" y2="843.90" stroke="#444" stroke-width="1"/>
<line x1="372.18" x2="372.18" y1="841.90" y2="843.90" stroke="#444" stroke-width="1"/>
<line x1="347.14" x2="347.14" y1="841.90" y2="843.90" stroke="#444" stroke-width="1"/>
<line x1="322.10" x2="322.10" y1="841.90" y2="845.40" stroke="#444" stroke-width="1"/>
<line x1="297.06" x2="297.06" y1="841.90" y2="843.90" stroke="#444" stroke-width="1"/>
<line x1="272.02" x2="272.02" y1="841.90" y2="843.90" stroke="#444" stroke-width="1"/>
<line x1="246.98" x2="246.98" y1="841.90" y2="843.90" stroke="#444" stroke-width="1"/>
<line x1="221.94" x2="221.94" y1="841.90" y2="843.90" stroke="#444" stroke-width="1"/>
<line x1="196.90" x2="196.90" y1="841.90" y2="845.40" stroke="#444" stroke-width="1"/>
<line x1="171.86" x2="171.86" y1="841.90" y2="843.90" stroke="#444" stroke-width="1"/>
<line x1="146.82" x2="146.82" y1="841.90" y2="843.90" stroke="#444" stroke-width="1"/>
<line x1="121.78" x2="121.78" y1="841.90" y2="843.90" stroke="#444" stroke-width="1"/>
<line x1="96.74" x2="96.74" y1="841.90" y2="843.90" stroke="#444" stroke-width="1"/>
<line x1="71.70" x2="71.70" y1="841.90" y2="845.40" stroke="#444" stroke-width="1"/>
<text transform="translate(58.29 865.20) scale(1.0436 1)" font-family="Liberation Serif" font-size="25.43" fill="#000">15</text>
<text transform="translate(183.47 865.20) scale(1.0613 1)" font-family="Liberation Serif" font-size="25.24" fill="#000">10</text>
<text transform="translate(315.53 865.20) scale(1.0148 1)" font-family="Liberation Serif" font-size="25.28" fill="#000">5</text>
<text transform="translate(440.79 865.20) scale(1.0291 1)" font-family="Liberation Serif" font-size="25.24" fill="#000">0</text>
<text transform="translate(164.29 888.80) scale(1.1228 1)" font-family="Liberation Serif" font-size="23.18" fill="#000">Binding energy (eV)</text>
<text transform="translate(92.30 505.78) scale(1.0703 1)" font-family="Liberation Serif" font-size="22.71" fill="#000">b)</text>
<text transform="translate(23.00 769.96) rotate(-90) scale(1.1446 1)" font-family="Liberation Serif" font-size="23.86" fill="#000">Intensity (arb.  units)</text>
<polyline fill="none" stroke="#1c1cc8" stroke-width="1.70" stroke-linejoin="round" stroke-linecap="round" points="71.9,788.1 79.6,783.3 87.3,778.5 95.0,777.1 102.7,776.2 110.4,772.7 118.0,767.9 125.8,764.0 130.0,761.9 136.5,759.1 141.2,751.5 146.5,742.2 151.2,727.3 156.9,712.9 163.7,700.4 168.5,691.7 171.9,686.0 176.2,688.8 181.9,697.5 187.7,708.1 192.5,715.8 196.9,720.2 202.1,715.8 208.8,702.3 214.6,683.1 219.2,667.7 221.5,659.0 226.9,635.0 231.7,608.1 235.6,592.7 239.6,576.5 245.0,557.7 250.8,542.3 256.5,521.2 261.3,503.8 267.1,492.3 271.9,486.5 276.7,485.6 281.5,493.3 286.3,510.6 292.1,518.3 296.9,534.6 301.7,551.9 303.5,567.0 306.3,585.0 310.2,617.7 314.0,646.5 316.9,675.4 318.5,690.0 321.7,718.8 325.6,747.7 330.4,776.5 336.2,793.8 341.9,803.5 347.7,809.2 355.4,811.2 363.1,813.1 370.8,814.0 380.4,816.0 386.7,815.6 393.5,817.5 401.2,819.4 406.9,820.4 413.7,821.9 424.2,823.3 435.8,824.2 447.3,825.2"/>
<polyline fill="none" stroke="#eeaa2a" stroke-width="1.70" stroke-linejoin="round" stroke-linecap="round" points="71.9,776.5 77.7,774.6 87.3,774.2 95.0,770.8 102.7,765.0 110.4,763.0 118.0,756.3 126.7,753.5 131.5,747.7 137.7,733.1 145.4,715.8 151.2,698.5 156.5,682.7 160.8,682.7 166.5,682.1 170.4,687.9 176.2,698.5 181.9,709.0 186.7,711.0 191.5,698.5 196.9,695.6 201.2,681.2 205.0,665.8 209.6,650.4 217.3,621.5 223.1,592.7 226.8,574.0 231.5,559.6 237.3,536.5 243.1,521.2 248.8,508.7 252.7,502.9 257.5,501.0 261.3,502.9 266.2,513.5 271.0,521.2 275.8,534.6 281.5,550.0 286.3,563.5 288.6,578.0 290.4,588.8 294.2,608.1 297.1,627.3 300.0,644.6 303.5,669.6 306.8,692.0 311.2,718.8 316.9,747.7 324.6,770.8 332.3,788.1 340.0,801.5 347.7,809.2 355.4,812.1 363.1,814.0 370.8,816.0 380.4,817.9 392.0,818.9 405.0,820.4 418.5,822.7 433.8,824.2 447.3,825.2"/>
<polyline fill="none" stroke="#e41a26" stroke-width="1.70" stroke-linejoin="round" stroke-linecap="round" points="71.9,774.6 77.7,772.7 81.5,767.9 86.3,764.6 91.2,765.0 94.0,762.0 97.9,759.2 101.7,757.7 106.5,758.3 111.3,760.2 116.2,766.9 121.0,774.6 125.8,778.5 131.5,780.4 136.3,777.5 141.8,774.0 148.5,770.2 153.5,764.0 159.5,758.7 165.5,750.0 168.5,744.0 173.3,738.8 180.0,736.0 187.7,732.1 195.4,727.3 203.1,723.8 210.8,720.6 216.5,713.8 221.7,700.0 225.0,688.0 228.8,670.0 231.5,655.0 235.6,636.9 240.4,610.0 246.2,588.8 249.8,575.0 252.7,563.5 257.5,551.9 262.3,545.8 266.2,547.1 271.0,548.1 274.8,555.8 279.6,565.4 283.5,571.2 285.6,573.5 288.5,581.2 292.3,585.0 296.7,583.1 301.5,586.0 307.3,579.2 312.1,586.9 316.9,584.0 321.7,588.8 327.5,594.6 331.3,613.8 336.2,636.9 340.0,660.0 342.9,690.0 347.7,728.5 352.5,763.1 357.3,791.9 362.1,811.2 366.9,818.8 374.6,819.8 382.3,820.8 387.7,820.4 395.4,819.4 401.2,818.5 406.9,814.6 412.7,810.8 417.5,806.9 424.2,806.9 430.0,808.8 435.8,813.7 441.5,820.4 447.3,825.2"/>
<polyline fill="none" stroke="#7a167a" stroke-width="1.70" stroke-linejoin="round" stroke-linecap="round" points="71.9,774.6 79.6,771.7 89.2,767.9 95.0,763.0 101.7,757.3 108.5,759.2 113.3,762.1 120.0,770.8 126.7,778.5 133.5,780.4 140.2,779.4 146.9,776.5 152.7,773.7 156.5,772.7 160.8,766.7 166.5,758.1 172.3,749.4 177.1,742.7 181.0,741.7 185.8,738.8 191.5,736.0 196.3,738.8 202.1,742.3 206.9,736.9 212.7,730.2 218.5,725.4 224.2,711.9 227.5,698.0 231.2,675.0 234.5,655.0 237.5,636.9 242.3,608.1 248.1,583.1 250.8,575.0 253.7,564.4 256.5,563.5 261.3,553.8 267.1,546.2 271.9,549.0 275.8,557.7 281.5,567.3 285.4,573.1 288.5,585.0 292.6,592.7 297.5,588.8 301.5,590.8 306.3,584.0 311.2,575.4 316.9,573.8 321.7,576.3 326.5,581.2 332.5,596.5 337.6,617.7 341.2,646.5 344.8,675.4 346.5,692.0 350.6,728.5 355.4,766.9 359.2,797.7 364.0,815.0 368.8,821.7 376.5,823.7 384.2,824.6 391.5,824.6 399.2,822.3 404.0,821.3 408.8,817.5 413.7,810.8 418.5,806.5 426.2,803.1 431.0,804.0 435.8,808.8 441.5,817.5 447.3,825.2"/>
<rect x="355.6" y="479.4" width="106.1" height="130" rx="3.5" fill="#fff" fill-opacity="0.8" stroke="#d6d6d6" stroke-width="1"/>
<line x1="363.7" x2="406.8" y1="495.8" y2="495.8" stroke="#1c1cc8" stroke-width="1.7"/>
<text transform="translate(423.87 503.66) scale(1.1033 1)" font-family="Liberation Serif" font-size="22.83" fill="#000">(1)</text>
<line x1="363.7" x2="406.8" y1="526.8" y2="526.8" stroke="#eeaa2a" stroke-width="1.7"/>
<text transform="translate(423.87 534.66) scale(1.1033 1)" font-family="Liberation Serif" font-size="22.83" fill="#000">(2)</text>
<line x1="363.7" x2="406.8" y1="558.3" y2="558.3" stroke="#e41a26" stroke-width="1.7"/>
<text transform="translate(423.87 566.16) scale(1.1033 1)" font-family="Liberation Serif" font-size="22.83" fill="#000">(3)</text>
<line x1="363.7" x2="406.8" y1="589.8" y2="589.8" stroke="#7a167a" stroke-width="1.7"/>
<text transform="translate(423.87 597.66) scale(1.1033 1)" font-family="Liberation Serif" font-size="22.83" fill="#000">(4)</text>
<rect x="71.70" y="918.50" width="400.60" height="373.10" fill="none" stroke="#333" stroke-width="1.0"/>
<line x1="68.2" x2="71.7" y1="1274.90" y2="1274.90" stroke="#444" stroke-width="1"/>
<text transform="translate(31.22 1283.10) scale(1.0529 1)" font-family="Liberation Serif" font-size="25.60" fill="#000">0.0</text>
<line x1="68.2" x2="71.7" y1="1206.90" y2="1206.90" stroke="#444" stroke-width="1"/>
<text transform="translate(31.23 1215.10) scale(1.0447 1)" font-family="Liberation Serif" font-size="25.60" fill="#000">0.2</text>
<line x1="68.2" x2="71.7" y1="1138.90" y2="1138.90" stroke="#444" stroke-width="1"/>
<text transform="translate(31.24 1147.10) scale(1.0415 1)" font-family="Liberation Serif" font-size="25.60" fill="#000">0.4</text>
<line x1="68.2" x2="71.7" y1="1070.90" y2="1070.90" stroke="#444" stroke-width="1"/>
<text transform="translate(31.23 1079.10) scale(1.0476 1)" font-family="Liberation Serif" font-size="25.60" fill="#000">0.6</text>
<line x1="68.2" x2="71.7" y1="1002.90" y2="1002.90" stroke="#444" stroke-width="1"/>
<text transform="translate(31.22 1011.10) scale(1.0529 1)" font-family="Liberation Serif" font-size="25.60" fill="#000">0.8</text>
<line x1="68.2" x2="71.7" y1="934.90" y2="934.90" stroke="#444" stroke-width="1"/>
<text transform="translate(31.20 943.10) scale(1.0538 1)" font-family="Liberation Serif" font-size="25.60" fill="#000">1.0</text>
<line x1="447.30" x2="447.30" y1="1291.60" y2="1295.10" stroke="#444" stroke-width="1"/>
<line x1="422.26" x2="422.26" y1="1291.60" y2="1293.60" stroke="#444" stroke-width="1"/>
<line x1="397.22" x2="397.22" y1="1291.60" y2="1293.60" stroke="#444" stroke-width="1"/>
<line x1="372.18" x2="372.18" y1="1291.60" y2="1293.60" stroke="#444" stroke-width="1"/>
<line x1="347.14" x2="347.14" y1="1291.60" y2="1293.60" stroke="#444" stroke-width="1"/>
<line x1="322.10" x2="322.10" y1="1291.60" y2="1295.10" stroke="#444" stroke-width="1"/>
<line x1="297.06" x2="297.06" y1="1291.60" y2="1293.60" stroke="#444" stroke-width="1"/>
<line x1="272.02" x2="272.02" y1="1291.60" y2="1293.60" stroke="#444" stroke-width="1"/>
<line x1="246.98" x2="246.98" y1="1291.60" y2="1293.60" stroke="#444" stroke-width="1"/>
<line x1="221.94" x2="221.94" y1="1291.60" y2="1293.60" stroke="#444" stroke-width="1"/>
<line x1="196.90" x2="196.90" y1="1291.60" y2="1295.10" stroke="#444" stroke-width="1"/>
<line x1="171.86" x2="171.86" y1="1291.60" y2="1293.60" stroke="#444" stroke-width="1"/>
<line x1="146.82" x2="146.82" y1="1291.60" y2="1293.60" stroke="#444" stroke-width="1"/>
<line x1="121.78" x2="121.78" y1="1291.60" y2="1293.60" stroke="#444" stroke-width="1"/>
<line x1="96.74" x2="96.74" y1="1291.60" y2="1293.60" stroke="#444" stroke-width="1"/>
<line x1="71.70" x2="71.70" y1="1291.60" y2="1295.10" stroke="#444" stroke-width="1"/>
<text transform="translate(58.29 1315.00) scale(1.0436 1)" font-family="Liberation Serif" font-size="25.43" fill="#000">15</text>
<text transform="translate(183.47 1315.00) scale(1.0613 1)" font-family="Liberation Serif" font-size="25.24" fill="#000">10</text>
<text transform="translate(315.53 1315.00) scale(1.0148 1)" font-family="Liberation Serif" font-size="25.28" fill="#000">5</text>
<text transform="translate(440.79 1315.00) scale(1.0291 1)" font-family="Liberation Serif" font-size="25.24" fill="#000">0</text>
<text transform="translate(164.29 1338.30) scale(1.1228 1)" font-family="Liberation Serif" font-size="23.18" fill="#000">Binding energy (eV)</text>
<text transform="translate(91.27 954.94) scale(1.2315 1)" font-family="Liberation Serif" font-size="20.91" fill="#000">c)</text>
<text transform="translate(23.00 1216.05) rotate(-90) scale(1.1416 1)" font-family="Liberation Serif" font-size="23.86" fill="#000">Intensity (arb. units)</text>
<polyline fill="none" stroke="#1f77b4" stroke-width="1.30" stroke-linejoin="round" stroke-linecap="round" points="71.0,1269.3 71.8,1268.4 72.5,1268.2 73.2,1267.8 74.0,1268.2 74.8,1266.9 75.5,1268.0 76.2,1267.0 77.0,1267.1 77.8,1266.7 78.5,1267.0 79.2,1265.6 80.0,1265.9 80.8,1265.7 81.5,1265.9 82.2,1264.9 83.0,1264.9 83.8,1264.4 84.5,1264.4 85.2,1264.3 86.0,1263.5 86.8,1264.0 87.5,1263.6 88.2,1263.2 89.0,1263.1 89.8,1262.2 90.5,1262.1 91.2,1261.5 92.0,1261.5 92.8,1261.4 93.5,1260.7 94.2,1260.5 95.0,1260.1 95.8,1259.7 96.5,1259.5 97.2,1259.4 98.0,1258.7 98.8,1258.9 99.5,1259.1 100.2,1258.4 101.0,1257.8 101.8,1257.2 102.5,1256.9 103.2,1257.5 104.0,1256.6 104.8,1256.0 105.5,1256.0 106.2,1256.3 107.0,1255.3 107.8,1255.2 108.5,1254.7 109.2,1254.1 110.0,1253.5 110.8,1253.4 111.5,1253.1 112.2,1253.1 113.0,1252.9 113.8,1252.5 114.5,1252.0 115.2,1251.8 116.0,1250.9 116.8,1251.3 117.5,1250.7 118.2,1250.0 119.0,1249.9 119.8,1249.3 120.5,1249.4 121.2,1249.2 122.0,1249.1 122.8,1247.3 123.5,1246.9 124.2,1246.9 125.0,1246.8 125.8,1246.7 126.5,1246.1 127.2,1244.8 128.0,1245.1 128.8,1245.2 129.5,1244.5 130.2,1244.3 131.0,1243.5 131.8,1243.1 132.5,1242.9 133.2,1242.5 134.0,1242.0 134.8,1241.6 135.5,1240.8 136.2,1240.6 137.0,1239.8 137.8,1239.5 138.5,1238.8 139.2,1237.7 140.0,1236.8 140.8,1235.9 141.5,1235.6 142.2,1234.3 143.0,1233.1 143.8,1232.2 144.5,1230.8 145.2,1230.4 146.0,1228.8 146.8,1228.2 147.5,1226.5 148.2,1225.3 149.0,1223.1 149.8,1222.4 150.5,1221.3 151.2,1218.8 152.0,1217.4 152.8,1215.7 153.5,1213.2 154.2,1212.2 155.0,1210.7 155.8,1208.0 156.5,1207.0 157.2,1204.4 158.0,1203.4 158.8,1200.8 159.5,1200.7 160.2,1198.6 161.0,1196.9 161.8,1195.0 162.5,1194.7 163.2,1193.7 164.0,1190.0 164.8,1190.3 165.5,1189.3 166.2,1187.2 167.0,1185.0 167.8,1185.0 168.5,1183.1 169.2,1181.5 170.0,1180.6 170.8,1181.4 171.5,1181.1 172.2,1179.8 173.0,1180.1 173.8,1178.7 174.5,1179.5 175.2,1178.6 176.0,1178.4 176.8,1178.4 177.5,1179.1 178.2,1179.0 179.0,1178.8 179.8,1178.6 180.5,1178.5 181.2,1178.9 182.0,1179.1 182.8,1179.8 183.5,1179.6 184.2,1178.7 185.0,1181.3 185.8,1182.4 186.5,1181.8 187.2,1181.7 188.0,1181.8 188.8,1181.9 189.5,1182.2 190.2,1181.6 191.0,1182.1 191.8,1181.9 192.5,1182.8 193.2,1182.6 194.0,1183.2 194.8,1182.9 195.5,1183.8 196.2,1183.4 197.0,1184.8 197.8,1182.4 198.5,1183.3 199.2,1183.5 200.0,1183.7 200.8,1181.2 201.5,1180.6 202.2,1179.7 203.0,1179.7 203.8,1177.6 204.5,1177.2 205.2,1175.5 206.0,1173.8 206.8,1173.8 207.5,1172.4 208.2,1171.1 209.0,1168.3 209.8,1166.2 210.5,1165.1 211.2,1162.9 212.0,1160.6 212.8,1158.1 213.5,1156.7 214.2,1153.8 215.0,1152.6 215.8,1149.5 216.5,1146.6 217.2,1142.2 218.0,1141.4 218.8,1138.7 219.5,1136.3 220.2,1133.8 221.0,1130.0 221.8,1128.3 222.5,1124.5 223.2,1123.3 224.0,1117.1 224.8,1113.3 225.5,1110.0 226.2,1107.3 227.0,1103.8 227.8,1103.5 228.5,1098.4 229.2,1094.3 230.0,1093.5 230.8,1088.8 231.5,1084.7 232.2,1083.3 233.0,1079.5 233.8,1075.0 234.5,1073.3 235.2,1068.5 236.0,1067.0 236.8,1062.8 237.5,1060.9 238.2,1056.4 239.0,1051.9 239.8,1052.9 240.5,1046.4 241.2,1043.4 242.0,1039.5 242.8,1036.7 243.5,1033.9 244.2,1030.6 245.0,1027.9 245.8,1026.0 246.5,1020.5 247.2,1015.9 248.0,1012.3 248.8,1008.6 249.5,1003.1 250.2,1002.8 251.0,997.8 251.8,994.7 252.5,991.8 253.2,986.7 254.0,984.1 254.8,982.9 255.5,979.5 256.2,974.7 257.0,974.5 257.8,966.9 258.5,964.9 259.2,961.8 260.0,955.8 260.8,960.1 261.5,955.4 262.2,951.0 263.0,953.1 263.8,948.6 264.5,946.7 265.2,944.0 266.0,943.8 266.8,940.2 267.5,942.5 268.2,939.5 269.0,939.4 269.8,940.8 270.5,939.3 271.2,939.1 272.0,939.0 272.8,937.4 273.5,939.6 274.2,940.5 275.0,939.1 275.8,939.1 276.5,936.3 277.2,936.1 278.0,935.5 278.8,940.1 279.5,938.4 280.2,941.5 281.0,938.8 281.8,940.0 282.5,941.5 283.2,943.5 284.0,942.9 284.8,943.9 285.5,944.4 286.2,945.6 287.0,944.6 287.8,947.3 288.5,947.9 289.2,949.4 290.0,952.2 290.8,952.5 291.5,955.3 292.2,957.1 293.0,960.4 293.8,963.1 294.5,962.9 295.2,967.3 296.0,971.7 296.8,969.4 297.5,973.0 298.2,975.5 299.0,979.0 299.8,984.4 300.5,985.7 301.2,988.3 302.0,993.5 302.8,995.8 303.5,1002.7 304.2,1006.3 305.0,1012.5 305.8,1015.7 306.5,1025.9 307.2,1028.7 308.0,1033.5 308.8,1037.7 309.5,1042.6 310.2,1049.0 311.0,1056.3 311.8,1062.5 312.5,1071.1 313.2,1077.5 314.0,1086.2 314.8,1093.3 315.5,1098.5 316.2,1106.9 317.0,1112.7 317.8,1120.9 318.5,1127.3 319.2,1135.8 320.0,1142.1 320.8,1150.3 321.5,1157.4 322.2,1161.9 323.0,1166.9 323.8,1172.9 324.5,1178.3 325.2,1184.2 326.0,1191.0 326.8,1196.9 327.5,1200.4 328.2,1205.3 329.0,1209.5 329.8,1212.8 330.5,1215.4 331.2,1218.1 332.0,1221.1 332.8,1223.0 333.5,1226.8 334.2,1229.1 335.0,1230.4 335.8,1232.7 336.5,1233.8 337.2,1235.7 338.0,1237.8 338.8,1239.4 339.5,1240.1 340.2,1240.7 341.0,1241.5 341.8,1242.9 342.5,1242.4 343.2,1244.1 344.0,1244.6 344.8,1245.8 345.5,1246.4 346.2,1245.5 347.0,1247.2 347.8,1247.4 348.5,1247.6 349.2,1247.8 350.0,1248.6 350.8,1248.5 351.5,1249.7 352.2,1249.5 353.0,1250.5 353.8,1249.7 354.5,1249.6 355.2,1250.7 356.0,1250.9 356.8,1250.7 357.5,1250.3 358.2,1250.8 359.0,1251.4 359.8,1251.2 360.5,1251.4 361.2,1251.5 362.0,1251.4 362.8,1251.7 363.5,1251.5 364.2,1252.9 365.0,1252.2 365.8,1252.7 366.5,1252.2 367.2,1253.1 368.0,1252.2 368.8,1253.4 369.5,1253.2 370.2,1254.2 371.0,1253.0 371.8,1253.7 372.5,1253.9 373.2,1254.4 374.0,1253.9 374.8,1254.3 375.5,1253.6 376.2,1254.3 377.0,1254.9 377.8,1255.3 378.5,1254.9 379.2,1256.0 380.0,1256.0 380.8,1255.5 381.5,1254.8 382.2,1255.2 383.0,1255.7 383.8,1256.5 384.5,1256.4 385.2,1255.7 386.0,1256.5 386.8,1257.4 387.5,1256.8 388.2,1256.8 389.0,1258.0 389.8,1257.5 390.5,1257.5 391.2,1258.0 392.0,1258.2 392.8,1258.2 393.5,1259.1 394.2,1259.3 395.0,1259.4 395.8,1259.4 396.5,1260.0 397.2,1259.9 398.0,1260.4 398.8,1260.9 399.5,1261.1 400.2,1261.7 401.0,1261.6 401.8,1261.1 402.5,1261.6 403.2,1262.8 404.0,1262.5 404.8,1263.0 405.5,1262.9 406.2,1263.8 407.0,1263.7 407.8,1264.6 408.5,1264.2 409.2,1265.1 410.0,1265.2 410.8,1265.1 411.5,1266.0 412.2,1265.6 413.0,1266.0 413.8,1266.8 414.5,1266.6 415.2,1266.9 416.0,1267.3 416.8,1267.4 417.5,1268.3 418.2,1268.5 419.0,1268.5 419.8,1268.7 420.5,1269.2 421.2,1269.9 422.0,1269.8 422.8,1269.6 423.5,1270.3 424.2,1270.3 425.0,1270.5 425.8,1271.4 426.5,1270.9 427.2,1271.1 428.0,1270.8 428.8,1271.3 429.5,1272.1 430.2,1271.9 431.0,1272.5 431.8,1272.1 432.5,1272.4 433.2,1273.0 434.0,1273.4 434.8,1273.3 435.5,1273.6 436.2,1273.9 437.0,1273.9 437.8,1273.4 438.5,1273.8 439.2,1274.1 440.0,1273.9 440.8,1274.2 441.5,1273.7 442.2,1274.0 443.0,1274.6 443.8,1273.8 444.5,1274.2 445.2,1274.7 446.0,1274.2 446.8,1274.9"/>
<polyline fill="none" stroke="#ff7f0e" stroke-width="1.30" stroke-linejoin="round" stroke-linecap="round" points="71.0,1217.2 71.8,1217.3 72.5,1215.7 73.2,1218.4 74.0,1215.7 74.8,1216.3 75.5,1217.2 76.2,1215.8 77.0,1215.8 77.8,1215.8 78.5,1216.6 79.2,1217.7 80.0,1215.7 80.8,1214.5 81.5,1215.5 82.2,1214.4 83.0,1214.6 83.8,1215.2 84.5,1213.5 85.2,1213.8 86.0,1212.8 86.8,1213.1 87.5,1213.1 88.2,1211.9 89.0,1212.1 89.8,1211.9 90.5,1211.3 91.2,1210.6 92.0,1210.1 92.8,1210.8 93.5,1210.5 94.2,1212.2 95.0,1208.4 95.8,1210.2 96.5,1210.2 97.2,1210.8 98.0,1209.9 98.8,1208.7 99.5,1209.1 100.2,1209.4 101.0,1208.6 101.8,1209.4 102.5,1207.3 103.2,1210.2 104.0,1210.0 104.8,1208.5 105.5,1209.3 106.2,1208.8 107.0,1208.5 107.8,1209.7 108.5,1210.9 109.2,1210.4 110.0,1210.9 110.8,1211.6 111.5,1212.5 112.2,1213.7 113.0,1212.6 113.8,1213.8 114.5,1214.0 115.2,1212.7 116.0,1214.2 116.8,1214.8 117.5,1215.2 118.2,1215.9 119.0,1214.5 119.8,1216.4 120.5,1216.2 121.2,1216.0 122.0,1217.9 122.8,1218.4 123.5,1217.8 124.2,1219.3 125.0,1218.7 125.8,1219.5 126.5,1219.0 127.2,1221.4 128.0,1218.6 128.8,1220.9 129.5,1221.8 130.2,1220.2 131.0,1221.9 131.8,1222.3 132.5,1223.4 133.2,1224.1 134.0,1223.2 134.8,1222.9 135.5,1225.2 136.2,1225.3 137.0,1224.2 137.8,1224.9 138.5,1225.1 139.2,1225.4 140.0,1225.3 140.8,1226.3 141.5,1224.2 142.2,1226.4 143.0,1226.1 143.8,1225.5 144.5,1226.3 145.2,1223.5 146.0,1225.8 146.8,1225.1 147.5,1223.7 148.2,1224.7 149.0,1223.9 149.8,1225.6 150.5,1224.7 151.2,1223.3 152.0,1222.1 152.8,1221.8 153.5,1221.6 154.2,1221.1 155.0,1220.2 155.8,1219.7 156.5,1219.1 157.2,1218.2 158.0,1217.3 158.8,1216.3 159.5,1218.2 160.2,1214.3 161.0,1214.1 161.8,1214.7 162.5,1213.6 163.2,1213.6 164.0,1213.4 164.8,1213.2 165.5,1212.3 166.2,1210.0 167.0,1210.6 167.8,1207.2 168.5,1207.3 169.2,1205.9 170.0,1204.3 170.8,1204.5 171.5,1202.8 172.2,1203.2 173.0,1200.6 173.8,1201.9 174.5,1201.0 175.2,1200.2 176.0,1198.4 176.8,1198.7 177.5,1197.1 178.2,1196.1 179.0,1200.0 179.8,1197.7 180.5,1198.1 181.2,1196.0 182.0,1196.6 182.8,1196.3 183.5,1196.0 184.2,1195.2 185.0,1194.7 185.8,1192.9 186.5,1194.9 187.2,1194.5 188.0,1194.9 188.8,1193.6 189.5,1195.2 190.2,1193.2 191.0,1192.3 191.8,1194.0 192.5,1192.7 193.2,1191.9 194.0,1192.9 194.8,1193.3 195.5,1192.8 196.2,1192.9 197.0,1195.9 197.8,1193.1 198.5,1193.6 199.2,1190.5 200.0,1192.4 200.8,1192.7 201.5,1191.7 202.2,1191.2 203.0,1191.9 203.8,1190.9 204.5,1190.3 205.2,1191.4 206.0,1191.2 206.8,1189.9 207.5,1188.9 208.2,1189.3 209.0,1189.2 209.8,1187.8 210.5,1184.8 211.2,1184.6 212.0,1184.0 212.8,1183.0 213.5,1182.1 214.2,1180.1 215.0,1176.0 215.8,1174.0 216.5,1171.2 217.2,1171.6 218.0,1167.8 218.8,1165.7 219.5,1163.2 220.2,1158.9 221.0,1155.1 221.8,1152.8 222.5,1150.1 223.2,1148.7 224.0,1144.9 224.8,1139.6 225.5,1138.1 226.2,1134.8 227.0,1129.6 227.8,1127.3 228.5,1122.2 229.2,1121.6 230.0,1117.9 230.8,1113.7 231.5,1111.4 232.2,1109.5 233.0,1104.7 233.8,1101.7 234.5,1098.0 235.2,1092.4 236.0,1089.0 236.8,1088.0 237.5,1081.3 238.2,1075.9 239.0,1072.8 239.8,1066.7 240.5,1065.6 241.2,1060.4 242.0,1056.8 242.8,1051.8 243.5,1046.4 244.2,1042.4 245.0,1036.6 245.8,1029.6 246.5,1022.1 247.2,1015.9 248.0,1006.9 248.8,1009.1 249.5,999.6 250.2,997.9 251.0,991.8 251.8,986.5 252.5,985.3 253.2,981.3 254.0,977.9 254.8,975.5 255.5,970.0 256.2,968.0 257.0,964.6 257.8,960.5 258.5,958.5 259.2,957.7 260.0,954.8 260.8,952.9 261.5,946.5 262.2,948.6 263.0,947.6 263.8,945.3 264.5,944.6 265.2,945.8 266.0,941.1 266.8,940.6 267.5,937.4 268.2,937.1 269.0,937.3 269.8,936.0 270.5,937.4 271.2,936.1 272.0,938.2 272.8,936.8 273.5,937.2 274.2,939.7 275.0,940.1 275.8,942.3 276.5,943.9 277.2,945.8 278.0,949.6 278.8,951.8 279.5,952.6 280.2,952.7 281.0,957.7 281.8,954.5 282.5,955.5 283.2,960.8 284.0,961.9 284.8,963.2 285.5,965.0 286.2,963.7 287.0,966.0 287.8,971.1 288.5,972.0 289.2,970.4 290.0,975.9 290.8,972.2 291.5,974.2 292.2,976.5 293.0,974.6 293.8,976.2 294.5,977.2 295.2,977.4 296.0,979.9 296.8,979.9 297.5,977.7 298.2,978.7 299.0,980.3 299.8,980.2 300.5,979.3 301.2,981.4 302.0,982.3 302.8,980.3 303.5,982.7 304.2,978.6 305.0,978.2 305.8,981.2 306.5,978.7 307.2,978.1 308.0,978.9 308.8,977.8 309.5,979.1 310.2,975.9 311.0,977.2 311.8,982.5 312.5,977.2 313.2,973.6 314.0,977.3 314.8,976.8 315.5,977.9 316.2,975.8 317.0,974.4 317.8,977.6 318.5,976.3 319.2,972.2 320.0,976.1 320.8,974.4 321.5,976.7 322.2,974.5 323.0,976.5 323.8,975.7 324.5,976.5 325.2,975.7 326.0,975.9 326.8,978.2 327.5,980.5 328.2,981.7 329.0,985.6 329.8,986.0 330.5,988.6 331.2,993.2 332.0,992.3 332.8,997.2 333.5,1001.0 334.2,1007.5 335.0,1014.4 335.8,1016.2 336.5,1021.5 337.2,1021.6 338.0,1025.6 338.8,1033.7 339.5,1036.9 340.2,1048.0 341.0,1052.2 341.8,1056.4 342.5,1065.3 343.2,1072.3 344.0,1081.1 344.8,1088.0 345.5,1097.0 346.2,1107.2 347.0,1114.9 347.8,1121.6 348.5,1130.6 349.2,1141.2 350.0,1153.9 350.8,1162.1 351.5,1170.5 352.2,1177.5 353.0,1184.5 353.8,1190.7 354.5,1197.4 355.2,1204.5 356.0,1208.8 356.8,1213.7 357.5,1219.6 358.2,1224.0 359.0,1227.8 359.8,1233.7 360.5,1239.3 361.2,1242.3 362.0,1244.8 362.8,1248.9 363.5,1252.8 364.2,1255.3 365.0,1257.9 365.8,1260.2 366.5,1261.3 367.2,1262.2 368.0,1263.2 368.8,1264.9 369.5,1266.2 370.2,1267.4 371.0,1266.9 371.8,1268.7 372.5,1268.4 373.2,1268.5 374.0,1269.7 374.8,1268.5 375.5,1269.7 376.2,1270.3 377.0,1271.6 377.8,1271.1 378.5,1272.4 379.2,1271.6 380.0,1272.3 380.8,1271.8 381.5,1273.0 382.2,1272.4 383.0,1273.1 383.8,1272.7 384.5,1272.6 385.2,1273.2 386.0,1274.2 386.8,1273.2 387.5,1273.0 388.2,1273.7 389.0,1274.4 389.8,1273.4 390.5,1273.8 391.2,1274.2 392.0,1274.0 392.8,1274.4 393.5,1274.9 394.2,1274.3 395.0,1274.3 395.8,1274.9 396.5,1274.5 397.2,1273.8 398.0,1273.6 398.8,1273.3 399.5,1274.7 400.2,1273.4 401.0,1273.6 401.8,1273.4 402.5,1272.3 403.2,1272.9 404.0,1271.9 404.8,1270.5 405.5,1271.1 406.2,1270.1 407.0,1270.1 407.8,1270.0 408.5,1270.6 409.2,1268.4 410.0,1268.0 410.8,1267.6 411.5,1266.9 412.2,1266.0 413.0,1264.8 413.8,1264.2 414.5,1263.9 415.2,1262.4 416.0,1261.7 416.8,1260.4 417.5,1260.9 418.2,1258.4 419.0,1259.6 419.8,1257.4 420.5,1256.4 421.2,1255.7 422.0,1256.2 422.8,1255.7 423.5,1253.9 424.2,1254.1 425.0,1253.4 425.8,1252.9 426.5,1252.7 427.2,1252.7 428.0,1250.6 428.8,1249.9 429.5,1251.7 430.2,1252.1 431.0,1253.1 431.8,1252.2 432.5,1253.2 433.2,1255.5 434.0,1254.9 434.8,1257.0 435.5,1257.5 436.2,1258.9 437.0,1259.4 437.8,1262.1 438.5,1261.5 439.2,1263.1 440.0,1264.4 440.8,1266.8 441.5,1267.5 442.2,1268.8 443.0,1269.4 443.8,1270.5 444.5,1271.6 445.2,1273.2 446.0,1273.5 446.8,1273.5"/>
<polyline fill="none" stroke="#2ca02c" stroke-width="1.30" stroke-linejoin="round" stroke-linecap="round" points="71.0,1220.7 71.8,1219.6 72.5,1219.3 73.2,1217.7 74.0,1218.8 74.8,1218.6 75.5,1218.7 76.2,1218.2 77.0,1218.6 77.8,1218.1 78.5,1217.2 79.2,1218.6 80.0,1218.3 80.8,1218.6 81.5,1217.1 82.2,1216.5 83.0,1216.1 83.8,1215.0 84.5,1216.7 85.2,1214.8 86.0,1214.5 86.8,1214.9 87.5,1215.9 88.2,1214.7 89.0,1213.5 89.8,1213.4 90.5,1214.2 91.2,1213.3 92.0,1212.5 92.8,1212.7 93.5,1213.2 94.2,1213.9 95.0,1211.2 95.8,1211.4 96.5,1211.1 97.2,1209.6 98.0,1210.5 98.8,1210.2 99.5,1211.7 100.2,1210.5 101.0,1209.2 101.8,1211.1 102.5,1210.5 103.2,1209.6 104.0,1210.7 104.8,1210.8 105.5,1210.8 106.2,1211.7 107.0,1210.2 107.8,1212.1 108.5,1213.5 109.2,1213.7 110.0,1214.3 110.8,1214.7 111.5,1215.3 112.2,1213.7 113.0,1215.6 113.8,1213.9 114.5,1215.3 115.2,1214.6 116.0,1217.3 116.8,1217.9 117.5,1217.1 118.2,1218.9 119.0,1217.5 119.8,1218.5 120.5,1218.8 121.2,1218.2 122.0,1219.6 122.8,1220.9 123.5,1219.0 124.2,1220.7 125.0,1220.2 125.8,1221.9 126.5,1221.2 127.2,1221.6 128.0,1221.9 128.8,1221.9 129.5,1221.0 130.2,1223.4 131.0,1221.7 131.8,1223.2 132.5,1223.8 133.2,1223.1 134.0,1224.1 134.8,1225.2 135.5,1224.6 136.2,1224.1 137.0,1222.8 137.8,1224.4 138.5,1224.8 139.2,1225.0 140.0,1224.9 140.8,1226.0 141.5,1225.5 142.2,1225.9 143.0,1226.7 143.8,1225.3 144.5,1225.4 145.2,1226.9 146.0,1225.6 146.8,1223.7 147.5,1224.3 148.2,1224.4 149.0,1224.7 149.8,1223.8 150.5,1223.3 151.2,1223.1 152.0,1224.0 152.8,1223.7 153.5,1223.0 154.2,1223.2 155.0,1222.4 155.8,1222.0 156.5,1219.8 157.2,1219.5 158.0,1218.6 158.8,1216.0 159.5,1212.7 160.2,1212.0 161.0,1211.1 161.8,1213.4 162.5,1213.9 163.2,1213.7 164.0,1215.6 164.8,1215.4 165.5,1214.6 166.2,1214.3 167.0,1213.0 167.8,1212.3 168.5,1212.2 169.2,1213.2 170.0,1211.9 170.8,1210.4 171.5,1210.8 172.2,1209.5 173.0,1209.0 173.8,1209.6 174.5,1208.0 175.2,1206.7 176.0,1206.8 176.8,1207.1 177.5,1206.7 178.2,1207.4 179.0,1205.6 179.8,1206.5 180.5,1206.1 181.2,1205.4 182.0,1205.9 182.8,1205.4 183.5,1204.1 184.2,1205.5 185.0,1203.4 185.8,1204.2 186.5,1203.9 187.2,1204.3 188.0,1203.6 188.8,1204.4 189.5,1204.6 190.2,1205.8 191.0,1204.6 191.8,1205.6 192.5,1205.6 193.2,1205.0 194.0,1208.4 194.8,1206.6 195.5,1205.7 196.2,1208.3 197.0,1206.7 197.8,1208.1 198.5,1208.8 199.2,1207.2 200.0,1207.0 200.8,1206.6 201.5,1206.6 202.2,1205.0 203.0,1205.0 203.8,1205.5 204.5,1206.1 205.2,1205.5 206.0,1206.0 206.8,1204.9 207.5,1203.6 208.2,1203.6 209.0,1201.7 209.8,1202.2 210.5,1201.3 211.2,1201.2 212.0,1200.4 212.8,1198.3 213.5,1197.2 214.2,1195.2 215.0,1195.3 215.8,1194.5 216.5,1192.1 217.2,1188.3 218.0,1188.0 218.8,1184.6 219.5,1180.8 220.2,1177.7 221.0,1174.9 221.8,1172.0 222.5,1168.5 223.2,1165.7 224.0,1162.7 224.8,1160.0 225.5,1156.4 226.2,1150.9 227.0,1147.2 227.8,1142.2 228.5,1137.8 229.2,1136.1 230.0,1129.4 230.8,1128.7 231.5,1123.1 232.2,1120.8 233.0,1118.6 233.8,1114.4 234.5,1111.8 235.2,1107.9 236.0,1103.5 236.8,1099.6 237.5,1094.8 238.2,1093.3 239.0,1086.9 239.8,1085.0 240.5,1075.0 241.2,1073.6 242.0,1069.5 242.8,1063.7 243.5,1060.7 244.2,1055.4 245.0,1049.7 245.8,1046.5 246.5,1045.7 247.2,1038.0 248.0,1034.0 248.8,1028.5 249.5,1024.3 250.2,1017.2 251.0,1013.3 251.8,1010.6 252.5,1002.0 253.2,994.7 254.0,988.8 254.8,984.9 255.5,979.6 256.2,978.6 257.0,973.7 257.8,969.0 258.5,968.2 259.2,958.3 260.0,959.1 260.8,958.4 261.5,954.3 262.2,953.5 263.0,950.5 263.8,948.4 264.5,952.4 265.2,947.4 266.0,944.7 266.8,945.6 267.5,941.4 268.2,941.8 269.0,939.7 269.8,941.5 270.5,935.9 271.2,939.3 272.0,937.9 272.8,935.4 273.5,940.4 274.2,938.2 275.0,943.6 275.8,942.8 276.5,944.3 277.2,944.7 278.0,947.6 278.8,944.4 279.5,949.1 280.2,949.4 281.0,952.8 281.8,954.1 282.5,957.1 283.2,956.6 284.0,962.9 284.8,965.3 285.5,962.7 286.2,964.5 287.0,966.5 287.8,969.6 288.5,972.1 289.2,968.4 290.0,970.6 290.8,971.1 291.5,972.2 292.2,972.6 293.0,977.0 293.8,975.8 294.5,980.4 295.2,979.9 296.0,977.2 296.8,977.5 297.5,978.6 298.2,982.1 299.0,979.0 299.8,978.3 300.5,980.7 301.2,981.4 302.0,979.9 302.8,983.6 303.5,981.6 304.2,982.0 305.0,980.1 305.8,981.2 306.5,980.5 307.2,976.7 308.0,980.3 308.8,976.5 309.5,978.8 310.2,976.0 311.0,981.0 311.8,977.9 312.5,978.4 313.2,978.1 314.0,974.2 314.8,972.2 315.5,975.0 316.2,976.6 317.0,975.0 317.8,976.2 318.5,976.6 319.2,972.8 320.0,975.8 320.8,978.6 321.5,974.7 322.2,972.5 323.0,975.7 323.8,975.9 324.5,977.9 325.2,976.4 326.0,978.6 326.8,975.5 327.5,981.0 328.2,984.0 329.0,985.4 329.8,982.9 330.5,987.7 331.2,984.4 332.0,994.0 332.8,998.2 333.5,1001.6 334.2,1008.3 335.0,1012.2 335.8,1017.1 336.5,1019.6 337.2,1023.5 338.0,1024.9 338.8,1031.6 339.5,1038.2 340.2,1044.8 341.0,1050.5 341.8,1060.0 342.5,1064.4 343.2,1072.7 344.0,1080.9 344.8,1087.8 345.5,1096.5 346.2,1104.9 347.0,1116.7 347.8,1122.6 348.5,1131.2 349.2,1141.3 350.0,1154.2 350.8,1161.0 351.5,1170.2 352.2,1176.8 353.0,1184.9 353.8,1192.1 354.5,1195.9 355.2,1201.4 356.0,1207.4 356.8,1214.0 357.5,1217.7 358.2,1223.9 359.0,1227.8 359.8,1232.7 360.5,1238.0 361.2,1242.8 362.0,1245.1 362.8,1248.3 363.5,1251.6 364.2,1254.5 365.0,1255.7 365.8,1258.5 366.5,1260.4 367.2,1262.5 368.0,1264.5 368.8,1265.2 369.5,1266.3 370.2,1266.3 371.0,1267.4 371.8,1268.3 372.5,1269.0 373.2,1268.3 374.0,1269.4 374.8,1270.2 375.5,1271.2 376.2,1270.8 377.0,1270.8 377.8,1271.0 378.5,1271.4 379.2,1271.4 380.0,1272.5 380.8,1272.8 381.5,1272.8 382.2,1273.3 383.0,1272.5 383.8,1273.2 384.5,1273.0 385.2,1273.4 386.0,1274.2 386.8,1273.7 387.5,1272.8 388.2,1273.8 389.0,1273.6 389.8,1273.2 390.5,1273.6 391.2,1274.6 392.0,1275.1 392.8,1273.9 393.5,1274.8 394.2,1275.0 395.0,1273.7 395.8,1274.4 396.5,1274.5 397.2,1274.4 398.0,1273.2 398.8,1273.7 399.5,1274.3 400.2,1274.2 401.0,1274.3 401.8,1272.8 402.5,1273.8 403.2,1272.9 404.0,1271.4 404.8,1272.1 405.5,1271.0 406.2,1271.0 407.0,1270.2 407.8,1270.5 408.5,1269.4 409.2,1268.5 410.0,1268.6 410.8,1267.6 411.5,1266.5 412.2,1266.8 413.0,1265.2 413.8,1264.4 414.5,1263.8 415.2,1262.5 416.0,1262.3 416.8,1263.0 417.5,1260.6 418.2,1260.4 419.0,1259.0 419.8,1258.7 420.5,1259.5 421.2,1258.5 422.0,1257.1 422.8,1256.9 423.5,1255.9 424.2,1255.7 425.0,1255.4 425.8,1255.2 426.5,1255.8 427.2,1255.8 428.0,1255.5 428.8,1255.0 429.5,1254.4 430.2,1255.6 431.0,1255.4 431.8,1256.9 432.5,1257.1 433.2,1257.7 434.0,1258.2 434.8,1258.4 435.5,1261.2 436.2,1262.5 437.0,1262.1 437.8,1264.1 438.5,1265.8 439.2,1265.5 440.0,1268.3 440.8,1268.1 441.5,1268.8 442.2,1271.0 443.0,1271.1 443.8,1271.3 444.5,1272.8 445.2,1272.0 446.0,1274.8 446.8,1274.0"/>
<rect x="347.3" y="927.3" width="116.2" height="122" rx="3.5" fill="#fff" fill-opacity="0.8" stroke="#d6d6d6" stroke-width="1"/>
<line x1="353.7" x2="390.6" y1="941.2" y2="941.2" stroke="#1f77b4" stroke-width="1.5"/>
<line x1="353.7" x2="390.6" y1="978.6" y2="978.6" stroke="#ff7f0e" stroke-width="1.5"/>
<line x1="353.7" x2="390.6" y1="1024.8" y2="1024.8" stroke="#2ca02c" stroke-width="1.5"/>
<text transform="translate(403.70 947.80) scale(1.1397 1)" font-family="Liberation Serif" font-size="19.68" fill="#000">Initial</text>
<text transform="translate(403.19 974.00) scale(1.1340 1)" font-family="Liberation Serif" font-size="19.40" fill="#000">After</text>
<text transform="translate(403.78 993.60) scale(1.1137 1)" font-family="Liberation Serif" font-size="20.03" fill="#000">0.5</text>
<text transform="translate(403.19 1020.00) scale(1.1340 1)" font-family="Liberation Serif" font-size="19.40" fill="#000">After</text>
<text transform="translate(403.75 1039.30) scale(1.1223 1)" font-family="Liberation Serif" font-size="20.03" fill="#000">1.0</text>
</svg></body></html>
